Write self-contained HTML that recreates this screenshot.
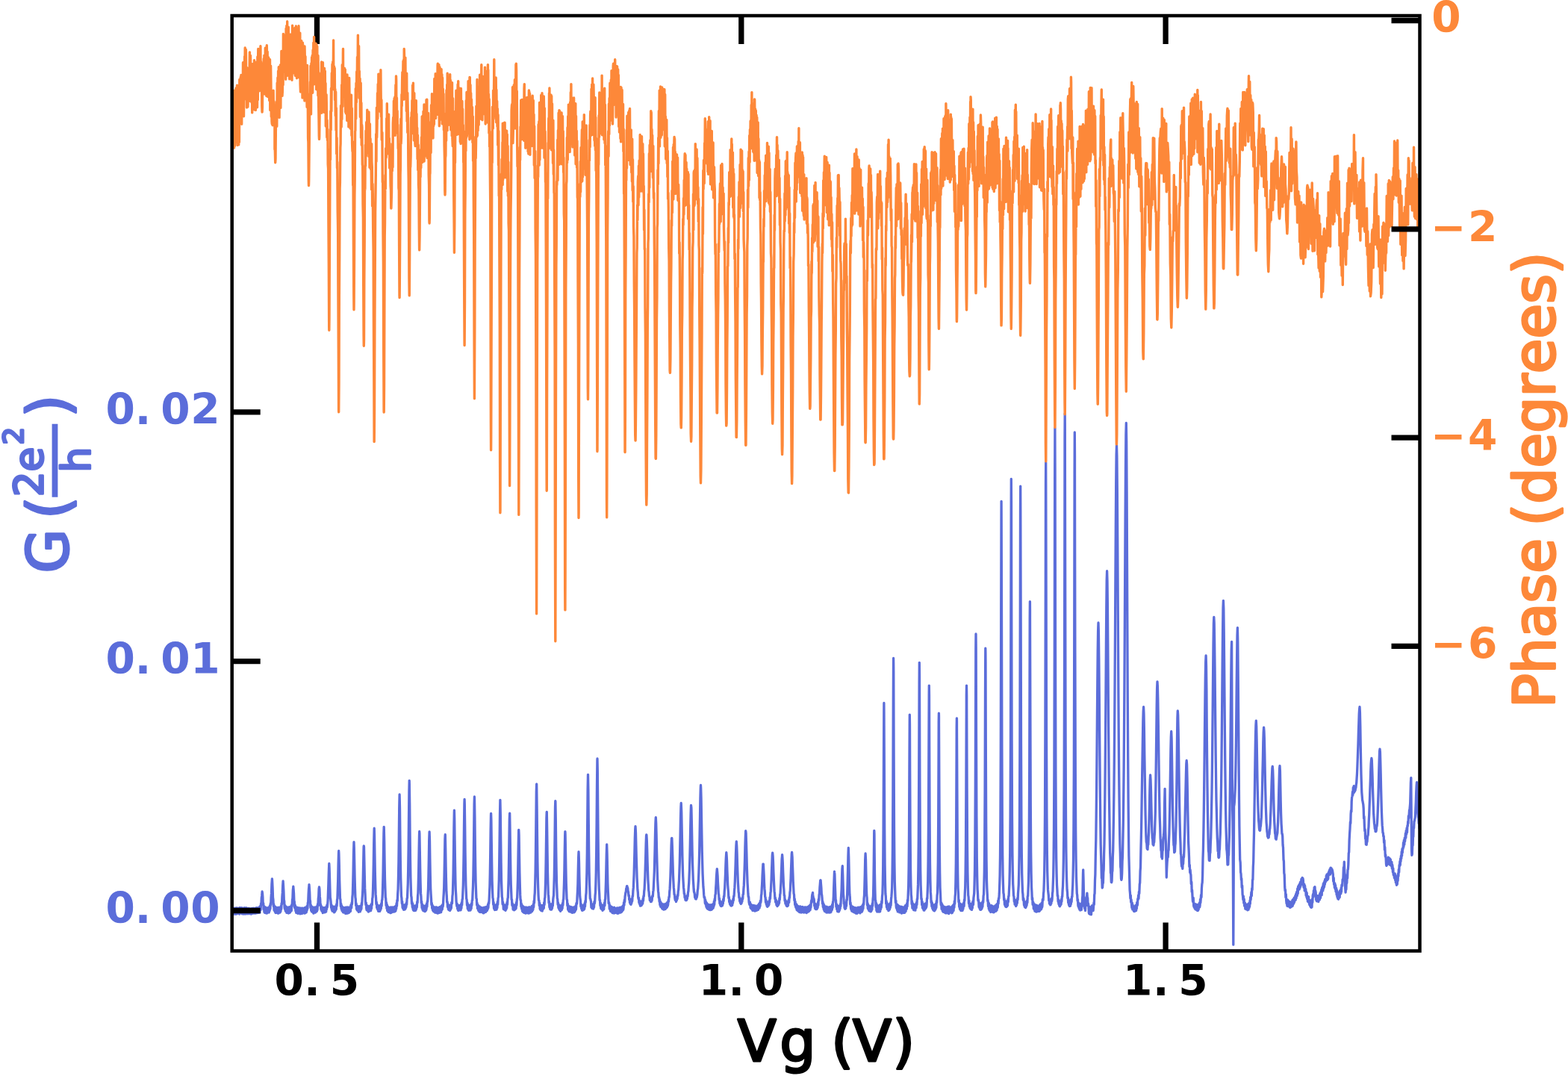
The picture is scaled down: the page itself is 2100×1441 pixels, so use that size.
<!DOCTYPE html>
<html lang="en"><head><meta charset="utf-8"><title>G and Phase vs Vg</title>
<style>html,body{margin:0;padding:0;background:#fff}svg{display:block}text{font-family:"DejaVu Sans","Liberation Sans",sans-serif}</style></head><body>
<svg width="2100" height="1441" viewBox="0 0 2100 1441">
<rect width="2100" height="1441" fill="#fff"/>
<defs><clipPath id="ax"><rect x="310.7" y="21.0" width="1590.8" height="1252.5"/></clipPath></defs>
<g clip-path="url(#ax)" fill="none" stroke-linejoin="round" stroke-linecap="butt">
<path d="M310.7 1216.5 L311.1 1223.6 L311.5 1217.3 L311.9 1224.0 L312.3 1217.0 L312.7 1216.6 L313.1 1223.4 L313.5 1217.2 L313.9 1224.1 L314.3 1216.1 L314.7 1222.7 L315.1 1216.4 L315.5 1222.6 L315.9 1216.6 L316.3 1224.1 L316.7 1215.8 L317.1 1223.9 L317.5 1215.8 L317.9 1222.7 L318.3 1217.0 L318.7 1216.7 L319.1 1223.1 L319.5 1216.7 L319.9 1223.6 L320.3 1215.9 L320.7 1224.2 L321.1 1215.7 L321.5 1222.8 L321.9 1215.7 L322.3 1216.4 L322.7 1222.9 L323.1 1216.4 L323.5 1222.7 L323.9 1215.7 L324.3 1223.9 L324.7 1217.1 L325.1 1223.9 L325.5 1217.3 L325.9 1222.6 L326.3 1216.8 L326.7 1224.2 L327.1 1215.7 L327.5 1222.7 L327.9 1217.3 L328.3 1223.3 L328.7 1217.1 L329.1 1224.0 L329.5 1215.7 L329.9 1223.2 L330.3 1216.5 L330.7 1223.6 L331.1 1216.3 L331.5 1216.5 L331.9 1223.8 L332.3 1216.9 L332.7 1216.5 L333.1 1222.6 L333.5 1216.4 L333.9 1223.6 L334.3 1217.3 L334.7 1223.3 L335.1 1216.8 L335.5 1223.8 L335.9 1217.3 L336.3 1224.2 L336.7 1216.6 L337.1 1223.1 L337.5 1216.8 L337.9 1223.5 L338.3 1216.7 L338.7 1222.5 L339.1 1216.1 L339.5 1222.9 L339.9 1216.9 L340.3 1223.2 L340.7 1217.1 L341.1 1223.0 L341.5 1216.5 L341.9 1222.7 L342.3 1216.1 L342.7 1223.1 L343.1 1217.0 L343.5 1222.6 L343.9 1215.7 L344.3 1222.7 L344.7 1216.0 L345.1 1222.7 L345.5 1216.4 L345.9 1222.4 L346.3 1216.0 L346.7 1222.3 L347.1 1221.6 L347.5 1214.5 L347.9 1222.2 L348.3 1213.6 L348.7 1213.9 L349.1 1218.7 L349.5 1210.0 L349.9 1211.6 L350.3 1202.4 L350.7 1199.4 L351.1 1194.0 L351.5 1196.3 L351.9 1201.5 L352.3 1211.8 L352.7 1209.6 L353.1 1217.8 L353.5 1213.3 L353.9 1221.3 L354.3 1215.0 L354.7 1222.3 L355.1 1214.9 L355.5 1221.7 L355.9 1215.1 L356.3 1222.9 L356.7 1223.0 L357.1 1216.6 L357.5 1223.1 L357.9 1216.1 L358.3 1222.5 L358.7 1215.7 L359.1 1221.4 L359.5 1216.0 L359.9 1221.0 L360.3 1222.0 L360.7 1214.4 L361.1 1219.9 L361.5 1212.7 L361.9 1217.4 L362.3 1209.9 L362.7 1211.6 L363.1 1201.6 L363.5 1196.4 L363.9 1184.2 L364.3 1178.5 L364.4 1176.8 L364.7 1181.1 L365.1 1189.2 L365.5 1201.6 L365.9 1204.6 L366.3 1213.8 L366.7 1210.9 L367.1 1219.0 L367.5 1219.5 L367.9 1213.7 L368.3 1221.1 L368.7 1214.5 L369.1 1222.5 L369.5 1215.1 L369.9 1222.4 L370.3 1215.5 L370.7 1221.8 L371.1 1216.5 L371.5 1221.9 L371.9 1216.3 L372.3 1223.1 L372.7 1215.2 L373.1 1223.0 L373.5 1222.5 L373.9 1216.3 L374.3 1222.0 L374.7 1215.8 L375.1 1222.1 L375.5 1214.7 L375.9 1220.7 L376.3 1213.4 L376.7 1217.7 L377.1 1209.7 L377.5 1211.0 L377.9 1201.1 L378.3 1195.9 L378.7 1185.8 L379.1 1179.9 L379.5 1186.0 L379.9 1193.4 L380.3 1205.1 L380.7 1206.7 L381.1 1215.4 L381.5 1217.5 L381.9 1212.6 L382.3 1219.8 L382.7 1214.3 L383.1 1220.9 L383.5 1214.4 L383.9 1222.3 L384.3 1214.9 L384.7 1221.9 L385.1 1216.5 L385.5 1222.3 L385.9 1216.0 L386.3 1223.0 L386.7 1214.9 L387.1 1222.6 L387.5 1215.1 L387.9 1222.3 L388.3 1215.0 L388.7 1221.6 L389.1 1214.1 L389.5 1220.4 L389.9 1213.4 L390.3 1219.6 L390.7 1211.6 L391.1 1214.0 L391.5 1204.8 L391.9 1203.4 L392.3 1192.0 L392.7 1188.6 L392.8 1187.2 L393.1 1191.0 L393.5 1195.9 L393.9 1206.9 L394.3 1207.4 L394.7 1215.9 L395.1 1212.0 L395.5 1213.5 L395.9 1220.0 L396.3 1214.5 L396.7 1222.4 L397.1 1221.4 L397.5 1222.1 L397.9 1215.3 L398.3 1222.9 L398.7 1215.4 L399.1 1223.3 L399.5 1223.2 L399.9 1216.8 L400.3 1222.7 L400.7 1215.9 L401.1 1222.5 L401.5 1216.0 L401.9 1223.8 L402.3 1216.9 L402.7 1216.9 L403.1 1223.5 L403.5 1216.2 L403.9 1223.0 L404.3 1216.8 L404.7 1223.5 L405.1 1216.2 L405.5 1222.8 L405.9 1216.4 L406.3 1222.2 L406.7 1216.6 L407.1 1222.6 L407.5 1216.2 L407.9 1223.2 L408.3 1215.3 L408.7 1222.1 L409.1 1216.3 L409.5 1222.5 L409.9 1215.7 L410.3 1221.8 L410.7 1214.0 L411.1 1219.4 L411.5 1213.1 L411.9 1216.9 L412.3 1208.8 L412.7 1208.4 L413.1 1197.9 L413.5 1190.7 L413.9 1186.6 L414.0 1184.7 L414.3 1188.6 L414.7 1194.5 L415.1 1205.8 L415.5 1206.3 L415.9 1215.4 L416.3 1211.9 L416.7 1219.4 L417.1 1214.0 L417.5 1220.9 L417.9 1214.2 L418.3 1221.2 L418.7 1215.2 L419.1 1222.0 L419.5 1216.3 L419.9 1223.1 L420.3 1215.1 L420.7 1221.9 L421.1 1215.6 L421.5 1215.4 L421.9 1222.1 L422.3 1214.9 L422.7 1222.0 L423.1 1215.3 L423.5 1220.9 L423.9 1215.2 L424.3 1220.6 L424.7 1213.4 L425.1 1218.7 L425.5 1210.7 L425.9 1213.1 L426.3 1203.2 L426.7 1200.6 L427.1 1190.3 L427.5 1188.0 L427.9 1190.4 L428.3 1200.4 L428.7 1204.0 L429.1 1212.7 L429.5 1211.1 L429.9 1217.8 L430.3 1213.4 L430.7 1219.7 L431.1 1214.7 L431.5 1220.7 L431.9 1215.3 L432.3 1222.7 L432.7 1216.0 L433.1 1221.5 L433.5 1215.7 L433.9 1221.3 L434.3 1215.7 L434.7 1221.9 L435.1 1221.4 L435.5 1215.4 L435.9 1221.5 L436.3 1215.1 L436.7 1221.1 L437.1 1214.1 L437.5 1217.9 L437.9 1211.9 L438.3 1215.0 L438.7 1210.9 L439.1 1205.8 L439.5 1194.0 L439.9 1182.9 L440.3 1169.0 L440.7 1158.4 L440.8 1156.5 L441.1 1162.3 L441.5 1175.2 L441.9 1189.3 L442.3 1202.0 L442.7 1204.1 L443.1 1208.0 L443.5 1215.5 L443.9 1211.7 L444.3 1218.4 L444.7 1213.3 L445.1 1220.2 L445.5 1214.8 L445.9 1220.2 L446.3 1214.2 L446.7 1220.6 L447.1 1214.2 L447.5 1221.9 L447.9 1214.7 L448.3 1221.3 L448.7 1214.4 L449.1 1220.0 L449.5 1219.0 L449.9 1213.2 L450.3 1217.8 L450.7 1210.8 L451.1 1213.4 L451.5 1205.2 L451.9 1203.4 L452.3 1190.9 L452.7 1178.6 L453.1 1158.0 L453.5 1143.2 L453.7 1139.5 L453.9 1143.1 L454.3 1158.0 L454.7 1178.7 L455.1 1191.0 L455.5 1203.4 L455.9 1204.5 L456.3 1213.8 L456.7 1210.1 L457.1 1217.2 L457.5 1212.7 L457.9 1219.4 L458.3 1214.1 L458.7 1220.3 L459.1 1214.8 L459.5 1221.7 L459.9 1215.4 L460.3 1222.2 L460.7 1215.7 L461.1 1215.9 L461.5 1221.7 L461.9 1216.3 L462.3 1215.4 L462.7 1223.3 L463.1 1215.1 L463.5 1222.4 L463.9 1223.2 L464.3 1222.5 L464.7 1215.9 L465.1 1215.0 L465.5 1223.1 L465.9 1216.3 L466.3 1221.9 L466.7 1215.2 L467.1 1222.4 L467.5 1215.3 L467.9 1222.0 L468.3 1215.1 L468.7 1220.7 L469.1 1214.8 L469.5 1220.4 L469.9 1212.2 L470.3 1211.4 L470.7 1216.0 L471.1 1208.9 L471.5 1210.9 L471.9 1201.3 L472.3 1197.7 L472.7 1183.7 L473.1 1167.2 L473.5 1143.7 L473.9 1129.7 L474.0 1127.6 L474.3 1135.2 L474.7 1154.8 L475.1 1175.4 L475.5 1190.2 L475.9 1201.6 L476.3 1204.1 L476.7 1212.6 L477.1 1209.9 L477.5 1217.5 L477.9 1212.6 L478.3 1219.0 L478.7 1213.2 L479.1 1213.4 L479.5 1219.9 L479.9 1213.8 L480.3 1221.4 L480.7 1214.8 L481.1 1220.1 L481.5 1213.6 L481.9 1214.1 L482.3 1220.9 L482.7 1213.3 L483.1 1219.1 L483.5 1212.6 L483.9 1217.5 L484.3 1209.5 L484.7 1212.0 L485.1 1203.4 L485.5 1197.8 L485.9 1189.9 L486.3 1172.8 L486.7 1153.6 L487.1 1134.4 L487.3 1132.8 L487.5 1134.3 L487.9 1153.6 L488.3 1172.8 L488.7 1189.9 L489.1 1197.1 L489.5 1207.3 L489.9 1211.6 L490.3 1208.9 L490.7 1216.5 L491.1 1218.8 L491.5 1213.0 L491.9 1219.1 L492.3 1213.0 L492.7 1220.0 L493.1 1214.9 L493.5 1221.2 L493.9 1214.2 L494.3 1220.1 L494.7 1213.6 L495.1 1220.2 L495.5 1214.3 L495.9 1219.3 L496.3 1212.6 L496.7 1219.5 L497.1 1211.2 L497.5 1216.9 L497.9 1209.9 L498.3 1211.8 L498.7 1203.4 L499.1 1201.7 L499.5 1192.4 L499.9 1176.7 L500.3 1156.7 L500.7 1128.7 L501.1 1111.5 L501.2 1109.2 L501.5 1118.3 L501.9 1143.5 L502.3 1168.1 L502.7 1184.3 L503.1 1197.9 L503.5 1201.8 L503.9 1210.6 L504.3 1208.1 L504.7 1215.7 L505.1 1211.2 L505.5 1217.7 L505.9 1212.1 L506.3 1218.9 L506.7 1220.3 L507.1 1214.0 L507.5 1219.4 L507.9 1220.0 L508.3 1214.3 L508.7 1220.4 L509.1 1212.4 L509.5 1218.9 L509.9 1212.7 L510.3 1217.0 L510.7 1209.8 L511.1 1213.3 L511.5 1205.5 L511.9 1205.2 L512.3 1197.6 L512.7 1183.7 L513.1 1167.4 L513.5 1140.7 L513.9 1116.6 L514.2 1107.3 L514.3 1109.8 L514.7 1126.9 L515.1 1155.6 L515.5 1177.3 L515.9 1190.0 L516.3 1201.8 L516.7 1203.3 L517.1 1212.6 L517.5 1208.7 L517.9 1216.3 L518.3 1211.5 L518.7 1219.6 L519.1 1213.7 L519.5 1220.4 L519.9 1214.5 L520.3 1221.7 L520.7 1215.4 L521.1 1221.3 L521.5 1215.7 L521.9 1221.5 L522.3 1216.1 L522.7 1222.7 L523.1 1215.0 L523.5 1222.7 L523.9 1222.0 L524.3 1216.1 L524.7 1221.9 L525.1 1214.8 L525.5 1221.5 L525.9 1215.2 L526.3 1221.1 L526.7 1216.0 L527.1 1221.1 L527.5 1215.1 L527.9 1221.1 L528.3 1214.3 L528.7 1220.0 L529.1 1220.6 L529.5 1213.6 L529.9 1219.9 L530.3 1213.0 L530.7 1217.1 L531.1 1209.6 L531.5 1213.5 L531.9 1205.4 L532.3 1206.4 L532.7 1196.9 L533.1 1190.6 L533.5 1174.6 L533.9 1153.3 L534.3 1118.8 L534.7 1082.5 L535.1 1064.0 L535.5 1081.3 L535.9 1120.3 L536.3 1151.9 L536.7 1175.7 L537.1 1188.3 L537.5 1200.0 L537.9 1202.4 L538.3 1210.0 L538.7 1207.3 L539.1 1215.4 L539.5 1215.7 L539.9 1217.1 L540.3 1212.4 L540.7 1218.3 L541.1 1211.9 L541.5 1218.0 L541.9 1212.7 L542.3 1218.0 L542.7 1211.7 L543.1 1216.9 L543.5 1210.9 L543.9 1215.0 L544.3 1208.8 L544.7 1211.5 L545.1 1203.2 L545.5 1202.8 L545.9 1192.6 L546.3 1183.3 L546.7 1164.2 L547.1 1137.9 L547.5 1097.0 L547.9 1058.9 L548.2 1045.3 L548.3 1048.5 L548.7 1076.0 L549.1 1119.4 L549.5 1151.9 L549.9 1175.7 L550.3 1188.3 L550.7 1199.8 L551.1 1201.7 L551.5 1210.4 L551.9 1208.2 L552.3 1215.0 L552.7 1210.1 L553.1 1217.5 L553.5 1218.8 L553.9 1213.0 L554.3 1219.5 L554.7 1213.5 L555.1 1219.7 L555.5 1213.1 L555.9 1219.4 L556.3 1213.1 L556.7 1219.4 L557.1 1212.6 L557.5 1217.7 L557.9 1211.5 L558.3 1215.2 L558.7 1207.7 L559.1 1209.0 L559.5 1200.0 L559.9 1196.1 L560.3 1182.1 L560.7 1164.6 L561.1 1139.5 L561.5 1118.2 L561.7 1113.5 L561.9 1116.9 L562.3 1139.7 L562.7 1163.4 L563.1 1182.0 L563.5 1196.4 L563.9 1200.4 L564.3 1209.4 L564.7 1207.3 L565.1 1215.8 L565.5 1210.9 L565.9 1218.2 L566.3 1212.2 L566.7 1219.5 L567.1 1213.7 L567.5 1219.8 L567.9 1213.8 L568.3 1219.7 L568.7 1213.8 L569.1 1220.7 L569.5 1213.0 L569.9 1220.1 L570.3 1213.8 L570.7 1219.0 L571.1 1217.2 L571.5 1209.9 L571.9 1214.4 L572.3 1207.0 L572.7 1207.5 L573.1 1197.7 L573.5 1190.1 L573.9 1173.3 L574.3 1151.8 L574.7 1124.9 L575.1 1113.8 L575.5 1125.0 L575.9 1151.8 L576.3 1173.2 L576.7 1190.0 L577.1 1197.7 L577.5 1203.6 L577.9 1211.7 L578.3 1209.3 L578.7 1216.4 L579.1 1212.1 L579.5 1218.9 L579.9 1213.7 L580.3 1220.1 L580.7 1214.3 L581.1 1220.9 L581.5 1215.7 L581.9 1221.2 L582.3 1215.6 L582.7 1222.2 L583.1 1215.0 L583.5 1222.1 L583.9 1216.3 L584.3 1222.3 L584.7 1214.9 L585.1 1222.6 L585.5 1216.3 L585.9 1216.2 L586.3 1223.2 L586.7 1215.6 L587.1 1221.9 L587.5 1222.1 L587.9 1215.5 L588.3 1222.4 L588.7 1214.6 L589.1 1222.1 L589.5 1215.1 L589.9 1221.1 L590.3 1214.4 L590.7 1221.6 L591.1 1213.2 L591.5 1219.1 L591.9 1212.8 L592.3 1218.0 L592.7 1211.3 L593.1 1214.4 L593.5 1210.8 L593.9 1202.3 L594.3 1196.6 L594.7 1188.3 L595.1 1170.5 L595.5 1148.5 L595.9 1123.9 L596.2 1118.2 L596.3 1117.7 L596.7 1136.1 L597.1 1160.8 L597.5 1179.4 L597.9 1194.2 L598.3 1199.5 L598.7 1208.5 L599.1 1207.8 L599.5 1214.6 L599.9 1210.7 L600.3 1217.5 L600.7 1212.0 L601.1 1218.7 L601.5 1213.3 L601.9 1218.9 L602.3 1212.9 L602.7 1219.5 L603.1 1212.2 L603.5 1218.1 L603.9 1211.7 L604.3 1216.3 L604.7 1209.1 L605.1 1208.0 L605.5 1209.9 L605.9 1200.3 L606.3 1197.5 L606.7 1184.5 L607.1 1168.7 L607.5 1141.0 L607.9 1108.6 L608.3 1087.6 L608.4 1085.2 L608.7 1095.9 L609.1 1126.3 L609.5 1155.2 L609.9 1178.1 L610.3 1192.0 L610.7 1197.7 L611.1 1207.1 L611.5 1211.0 L611.9 1213.7 L612.3 1210.5 L612.7 1217.2 L613.1 1212.0 L613.5 1219.2 L613.9 1219.5 L614.3 1213.9 L614.7 1219.1 L615.1 1212.7 L615.5 1212.7 L615.9 1218.9 L616.3 1213.7 L616.7 1213.0 L617.1 1218.9 L617.5 1210.8 L617.9 1216.5 L618.3 1208.6 L618.7 1212.2 L619.1 1204.4 L619.5 1204.0 L619.9 1194.6 L620.3 1185.5 L620.7 1167.2 L621.1 1142.0 L621.5 1105.5 L621.9 1076.5 L622.1 1070.3 L622.3 1076.7 L622.7 1105.5 L623.1 1142.2 L623.5 1167.1 L623.9 1185.6 L624.3 1194.3 L624.7 1203.8 L625.1 1204.5 L625.5 1212.3 L625.9 1208.8 L626.3 1216.8 L626.7 1210.8 L627.1 1218.5 L627.5 1213.1 L627.9 1219.4 L628.3 1212.3 L628.7 1213.7 L629.1 1218.5 L629.5 1212.9 L629.9 1219.1 L630.3 1218.4 L630.7 1211.4 L631.1 1216.9 L631.5 1209.9 L631.9 1212.5 L632.3 1205.6 L632.7 1205.6 L633.1 1195.6 L633.5 1186.7 L633.9 1172.5 L634.3 1146.6 L634.7 1113.4 L635.1 1077.5 L635.4 1067.0 L635.5 1069.4 L635.9 1093.6 L636.3 1132.0 L636.7 1160.2 L637.1 1181.5 L637.5 1192.0 L637.9 1203.0 L638.3 1203.9 L638.7 1212.2 L639.1 1209.3 L639.5 1216.7 L639.9 1212.3 L640.3 1212.2 L640.7 1219.3 L641.1 1219.9 L641.5 1214.7 L641.9 1221.0 L642.3 1213.9 L642.7 1221.3 L643.1 1214.8 L643.5 1221.7 L643.9 1215.2 L644.3 1221.4 L644.7 1215.7 L645.1 1221.4 L645.5 1215.6 L645.9 1221.7 L646.3 1216.1 L646.7 1222.3 L647.1 1216.1 L647.5 1222.9 L647.9 1215.4 L648.3 1222.4 L648.7 1215.1 L649.1 1221.9 L649.5 1216.0 L649.9 1221.4 L650.3 1214.8 L650.7 1221.4 L651.1 1214.6 L651.5 1220.1 L651.9 1214.2 L652.3 1219.7 L652.7 1213.8 L653.1 1217.8 L653.5 1211.2 L653.9 1216.0 L654.3 1208.8 L654.7 1210.0 L655.1 1205.2 L655.5 1195.6 L655.9 1187.1 L656.3 1169.0 L656.7 1145.0 L657.1 1111.9 L657.5 1091.9 L657.6 1089.3 L657.9 1098.5 L658.3 1129.1 L658.7 1157.1 L659.1 1179.5 L659.5 1190.7 L659.9 1202.1 L660.3 1203.8 L660.7 1211.3 L661.1 1208.4 L661.5 1216.0 L661.9 1217.2 L662.3 1211.7 L662.7 1218.7 L663.1 1212.7 L663.5 1218.3 L663.9 1213.3 L664.3 1218.4 L664.7 1211.9 L665.1 1218.1 L665.5 1210.7 L665.9 1215.8 L666.3 1207.7 L666.7 1211.4 L667.1 1202.8 L667.5 1201.2 L667.9 1189.9 L668.3 1178.3 L668.7 1155.7 L669.1 1124.3 L669.5 1090.3 L669.9 1071.4 L670.3 1090.2 L670.7 1125.9 L671.1 1155.7 L671.5 1178.3 L671.9 1189.9 L672.3 1201.2 L672.7 1202.8 L673.1 1210.8 L673.5 1207.9 L673.9 1210.3 L674.3 1217.3 L674.7 1211.5 L675.1 1217.5 L675.5 1212.3 L675.9 1218.6 L676.3 1213.4 L676.7 1218.5 L677.1 1219.2 L677.5 1211.9 L677.9 1217.8 L678.3 1210.6 L678.7 1216.1 L679.1 1208.1 L679.5 1211.5 L679.9 1203.7 L680.3 1202.1 L680.7 1190.7 L681.1 1178.9 L681.5 1156.7 L681.9 1128.6 L682.3 1097.4 L682.6 1089.5 L682.7 1089.2 L683.1 1112.4 L683.5 1142.7 L683.9 1169.7 L684.3 1185.2 L684.7 1194.6 L685.1 1204.8 L685.5 1204.7 L685.9 1212.5 L686.3 1209.9 L686.7 1210.8 L687.1 1218.0 L687.5 1211.8 L687.9 1218.3 L688.3 1212.6 L688.7 1218.9 L689.1 1213.5 L689.5 1218.4 L689.9 1212.0 L690.3 1217.7 L690.7 1211.2 L691.1 1216.7 L691.5 1208.5 L691.9 1212.3 L692.3 1204.1 L692.7 1202.1 L693.1 1190.7 L693.5 1178.4 L693.9 1155.6 L694.3 1130.9 L694.7 1111.3 L694.8 1111.6 L695.1 1118.1 L695.5 1144.1 L695.9 1168.8 L696.3 1184.7 L696.7 1198.4 L697.1 1205.5 L697.5 1205.4 L697.9 1214.3 L698.3 1210.2 L698.7 1217.2 L699.1 1212.2 L699.5 1220.2 L699.9 1213.1 L700.3 1221.2 L700.7 1213.8 L701.1 1221.7 L701.5 1214.4 L701.9 1222.4 L702.3 1216.0 L702.7 1215.7 L703.1 1221.7 L703.5 1215.9 L703.9 1223.1 L704.3 1215.0 L704.7 1222.7 L705.1 1216.1 L705.5 1222.5 L705.9 1215.3 L706.3 1222.5 L706.7 1215.5 L707.1 1222.0 L707.5 1216.1 L707.9 1223.1 L708.3 1214.8 L708.7 1222.9 L709.1 1215.0 L709.5 1221.5 L709.9 1215.1 L710.3 1222.0 L710.7 1222.1 L711.1 1215.4 L711.5 1221.4 L711.9 1220.0 L712.3 1213.3 L712.7 1220.3 L713.1 1213.3 L713.5 1218.8 L713.9 1217.8 L714.3 1210.9 L714.7 1214.8 L715.1 1206.6 L715.5 1209.3 L715.9 1200.2 L716.3 1195.8 L716.7 1183.0 L717.1 1167.1 L717.5 1138.4 L717.9 1101.0 L718.3 1060.8 L718.6 1050.2 L718.7 1050.1 L719.1 1080.0 L719.5 1120.2 L719.9 1154.6 L720.3 1175.2 L720.7 1188.7 L721.1 1199.6 L721.5 1206.0 L721.9 1205.8 L722.3 1212.6 L722.7 1209.2 L723.1 1216.7 L723.5 1217.9 L723.9 1212.0 L724.3 1218.9 L724.7 1212.7 L725.1 1219.7 L725.5 1212.8 L725.9 1213.8 L726.3 1220.0 L726.7 1212.3 L727.1 1217.8 L727.5 1212.6 L727.9 1216.7 L728.3 1216.2 L728.7 1208.6 L729.1 1211.6 L729.5 1203.5 L729.9 1201.8 L730.3 1190.4 L730.7 1178.4 L731.1 1155.6 L731.5 1127.1 L731.9 1095.7 L732.2 1087.8 L732.3 1087.3 L732.7 1110.8 L733.1 1141.8 L733.5 1168.8 L733.9 1184.5 L734.3 1197.4 L734.7 1200.6 L735.1 1209.2 L735.5 1207.3 L735.9 1214.9 L736.3 1210.1 L736.7 1217.4 L737.1 1212.0 L737.5 1218.2 L737.9 1212.5 L738.3 1212.3 L738.7 1218.2 L739.1 1210.6 L739.5 1216.5 L739.9 1209.8 L740.3 1213.2 L740.7 1205.1 L741.1 1201.6 L741.5 1199.2 L741.9 1187.1 L742.3 1173.8 L742.7 1148.7 L743.1 1116.6 L743.5 1081.6 L743.8 1072.6 L743.9 1073.9 L744.3 1097.0 L744.7 1134.5 L745.1 1161.9 L745.5 1182.3 L745.9 1192.1 L746.3 1203.2 L746.7 1203.8 L747.1 1211.4 L747.5 1209.0 L747.9 1215.6 L748.3 1211.6 L748.7 1217.5 L749.1 1212.0 L749.5 1218.8 L749.9 1218.9 L750.3 1214.1 L750.7 1220.3 L751.1 1213.7 L751.5 1218.8 L751.9 1212.7 L752.3 1218.7 L752.7 1211.7 L753.1 1216.7 L753.5 1209.5 L753.9 1212.4 L754.3 1205.1 L754.7 1204.2 L755.1 1193.8 L755.5 1182.2 L755.9 1164.7 L756.3 1138.6 L756.7 1118.4 L756.9 1113.6 L757.1 1117.0 L757.5 1139.9 L757.9 1163.7 L758.3 1183.6 L758.7 1193.7 L759.1 1204.6 L759.5 1205.1 L759.9 1212.8 L760.3 1210.2 L760.7 1218.1 L761.1 1212.7 L761.5 1219.3 L761.9 1213.9 L762.3 1220.7 L762.7 1214.0 L763.1 1220.9 L763.5 1215.0 L763.9 1221.2 L764.3 1215.3 L764.7 1214.5 L765.1 1221.4 L765.5 1215.8 L765.9 1222.2 L766.3 1215.4 L766.7 1222.3 L767.1 1215.5 L767.5 1221.5 L767.9 1215.0 L768.3 1221.7 L768.7 1215.5 L769.1 1221.9 L769.5 1215.1 L769.9 1220.8 L770.3 1214.2 L770.7 1219.3 L771.1 1212.6 L771.5 1218.0 L771.9 1209.8 L772.3 1209.1 L772.7 1210.2 L773.1 1200.6 L773.5 1193.5 L773.9 1183.2 L774.3 1163.9 L774.7 1147.6 L775.0 1140.7 L775.1 1142.6 L775.5 1154.3 L775.9 1174.7 L776.3 1188.3 L776.7 1200.5 L777.1 1203.6 L777.5 1206.6 L777.9 1214.2 L778.3 1210.7 L778.7 1217.0 L779.1 1212.4 L779.5 1219.2 L779.9 1213.1 L780.3 1219.3 L780.7 1213.4 L781.1 1218.6 L781.5 1212.2 L781.9 1218.4 L782.3 1211.5 L782.7 1217.3 L783.1 1209.5 L783.5 1214.2 L783.9 1206.3 L784.3 1208.4 L784.7 1199.4 L785.1 1195.8 L785.5 1183.4 L785.9 1168.1 L786.3 1142.0 L786.7 1101.7 L787.1 1057.8 L787.5 1037.3 L787.9 1057.7 L788.3 1102.9 L788.7 1140.3 L789.1 1167.9 L789.5 1183.4 L789.9 1193.0 L790.3 1203.2 L790.7 1203.5 L791.1 1205.6 L791.5 1207.5 L791.9 1215.1 L792.3 1215.7 L792.7 1211.0 L793.1 1216.6 L793.5 1211.6 L793.9 1216.5 L794.3 1211.0 L794.7 1217.1 L795.1 1210.4 L795.5 1215.1 L795.9 1207.5 L796.3 1210.1 L796.7 1207.2 L797.1 1199.1 L797.5 1195.2 L797.9 1183.2 L798.3 1168.1 L798.7 1140.8 L799.1 1102.8 L799.5 1052.3 L799.9 1019.2 L800.0 1016.0 L800.3 1031.3 L800.7 1078.5 L801.1 1122.9 L801.5 1156.8 L801.9 1176.2 L802.3 1190.8 L802.7 1196.5 L803.1 1205.8 L803.5 1205.3 L803.9 1213.0 L804.3 1209.2 L804.7 1216.4 L805.1 1210.8 L805.5 1217.4 L805.9 1211.9 L806.3 1218.0 L806.7 1213.0 L807.1 1219.4 L807.5 1212.6 L807.9 1218.5 L808.3 1212.3 L808.7 1217.9 L809.1 1211.3 L809.5 1209.2 L809.9 1212.9 L810.3 1205.0 L810.7 1204.1 L811.1 1193.3 L811.5 1181.0 L811.9 1162.3 L812.3 1142.7 L812.7 1130.8 L813.1 1142.9 L813.5 1162.5 L813.9 1182.7 L814.3 1193.1 L814.7 1200.6 L815.1 1209.7 L815.5 1208.4 L815.9 1210.1 L816.3 1217.1 L816.7 1212.3 L817.1 1212.7 L817.5 1220.2 L817.9 1220.1 L818.3 1215.0 L818.7 1221.0 L819.1 1214.4 L819.5 1221.0 L819.9 1214.8 L820.3 1222.6 L820.7 1215.3 L821.1 1222.3 L821.5 1215.9 L821.9 1215.9 L822.3 1223.0 L822.7 1215.2 L823.1 1222.5 L823.5 1216.3 L823.9 1222.6 L824.3 1216.5 L824.7 1221.9 L825.1 1216.6 L825.5 1221.9 L825.9 1222.3 L826.3 1215.9 L826.7 1223.1 L827.1 1215.8 L827.5 1223.3 L827.9 1216.5 L828.3 1223.2 L828.7 1215.9 L829.1 1222.0 L829.5 1216.2 L829.9 1221.9 L830.3 1215.2 L830.7 1222.1 L831.1 1215.7 L831.5 1222.0 L831.9 1221.3 L832.3 1214.8 L832.7 1221.1 L833.1 1220.2 L833.5 1213.9 L833.9 1219.5 L834.3 1212.8 L834.7 1218.4 L835.1 1216.0 L835.5 1208.7 L835.9 1212.4 L836.3 1205.2 L836.7 1207.9 L837.1 1200.6 L837.5 1198.0 L837.9 1195.2 L838.3 1194.6 L838.7 1190.1 L839.1 1189.4 L839.5 1186.8 L839.7 1188.2 L839.9 1186.7 L840.3 1189.1 L840.7 1189.2 L841.1 1193.7 L841.5 1194.2 L841.9 1199.8 L842.3 1198.8 L842.7 1204.8 L843.1 1203.3 L843.5 1208.9 L843.9 1205.0 L844.3 1210.6 L844.7 1206.0 L845.1 1211.3 L845.5 1205.5 L845.9 1209.5 L846.3 1203.6 L846.7 1206.8 L847.1 1199.9 L847.5 1200.2 L847.9 1192.8 L848.3 1188.9 L848.7 1179.5 L849.1 1170.7 L849.5 1155.6 L849.9 1140.9 L850.3 1122.5 L850.7 1111.2 L851.0 1106.7 L851.1 1108.3 L851.5 1115.3 L851.9 1132.2 L852.3 1148.8 L852.7 1162.3 L853.1 1175.5 L853.5 1183.1 L853.9 1191.5 L854.3 1194.7 L854.7 1201.6 L855.1 1204.0 L855.5 1202.3 L855.9 1208.8 L856.3 1205.6 L856.7 1210.9 L857.1 1206.7 L857.5 1213.1 L857.9 1207.2 L858.3 1213.2 L858.7 1208.1 L859.1 1212.6 L859.5 1207.0 L859.9 1211.5 L860.3 1206.1 L860.7 1210.1 L861.1 1203.5 L861.5 1206.4 L861.9 1200.0 L862.3 1200.4 L862.7 1193.6 L863.1 1190.5 L863.5 1182.1 L863.9 1174.0 L864.3 1160.5 L864.7 1147.6 L865.1 1130.8 L865.5 1119.7 L865.8 1117.8 L865.9 1118.3 L866.3 1125.7 L866.7 1137.9 L867.1 1154.4 L867.5 1166.3 L867.9 1178.3 L868.3 1184.8 L868.7 1192.5 L869.1 1194.6 L869.5 1200.5 L869.9 1200.2 L870.3 1205.7 L870.7 1202.3 L871.1 1202.9 L871.5 1207.7 L871.9 1204.0 L872.3 1207.5 L872.7 1202.8 L873.1 1206.0 L873.5 1201.3 L873.9 1199.3 L874.3 1200.4 L874.7 1194.3 L875.1 1192.2 L875.5 1184.6 L875.9 1176.5 L876.3 1167.5 L876.7 1152.2 L877.1 1136.6 L877.5 1116.7 L877.9 1102.4 L878.3 1094.7 L878.7 1102.4 L879.1 1116.8 L879.5 1136.9 L879.9 1152.8 L880.3 1168.0 L880.7 1178.9 L881.1 1185.8 L881.5 1193.2 L881.9 1195.9 L882.3 1202.3 L882.7 1201.7 L883.1 1207.5 L883.5 1204.5 L883.9 1211.9 L884.3 1207.2 L884.7 1214.1 L885.1 1208.6 L885.5 1214.6 L885.9 1209.6 L886.3 1216.0 L886.7 1211.4 L887.1 1217.1 L887.5 1210.9 L887.9 1216.5 L888.3 1210.8 L888.7 1218.0 L889.1 1211.4 L889.5 1218.0 L889.9 1211.7 L890.3 1216.9 L890.7 1210.7 L891.1 1217.6 L891.5 1211.4 L891.9 1216.2 L892.3 1210.6 L892.7 1215.9 L893.1 1209.0 L893.5 1214.8 L893.9 1208.3 L894.3 1213.1 L894.7 1211.2 L895.1 1205.3 L895.5 1207.5 L895.9 1201.1 L896.3 1201.4 L896.7 1194.2 L897.1 1190.7 L897.5 1182.0 L897.9 1173.7 L898.3 1160.3 L898.7 1147.1 L899.1 1131.9 L899.5 1122.7 L899.7 1122.5 L899.9 1122.5 L900.3 1132.9 L900.7 1145.3 L901.1 1159.3 L901.5 1172.3 L901.9 1180.3 L902.3 1188.7 L902.7 1192.0 L903.1 1198.2 L903.5 1197.9 L903.9 1203.3 L904.3 1205.4 L904.7 1202.2 L905.1 1202.6 L905.5 1207.5 L905.9 1202.9 L906.3 1205.9 L906.7 1200.9 L907.1 1203.9 L907.5 1198.5 L907.9 1199.6 L908.3 1193.2 L908.7 1191.7 L909.1 1184.5 L909.5 1178.5 L909.9 1167.1 L910.3 1155.5 L910.7 1137.2 L911.1 1118.1 L911.5 1095.7 L911.9 1081.0 L912.2 1075.5 L912.3 1077.6 L912.7 1086.7 L913.1 1107.3 L913.5 1127.1 L913.9 1147.3 L914.3 1160.8 L914.7 1173.5 L915.1 1180.8 L915.5 1188.2 L915.9 1191.2 L916.3 1197.2 L916.7 1196.8 L917.1 1202.0 L917.5 1199.8 L917.9 1205.1 L918.3 1201.7 L918.7 1205.8 L919.1 1201.6 L919.5 1205.5 L919.9 1201.5 L920.3 1203.9 L920.7 1198.9 L921.1 1200.4 L921.5 1195.0 L921.9 1193.5 L922.3 1187.1 L922.7 1182.5 L923.1 1172.8 L923.5 1163.1 L923.9 1147.0 L924.3 1129.9 L924.7 1107.8 L925.1 1090.2 L925.5 1078.5 L925.6 1079.3 L925.9 1081.9 L926.3 1098.9 L926.7 1118.2 L927.1 1139.3 L927.5 1155.8 L927.9 1167.1 L928.3 1178.1 L928.7 1183.7 L929.1 1190.5 L929.5 1194.7 L929.9 1195.2 L930.3 1197.3 L930.7 1201.9 L931.1 1199.8 L931.5 1203.8 L931.9 1200.4 L932.3 1204.1 L932.7 1199.0 L933.1 1202.1 L933.5 1200.2 L933.9 1197.8 L934.3 1192.2 L934.7 1190.4 L935.1 1183.8 L935.5 1178.2 L935.9 1167.7 L936.3 1155.3 L936.7 1140.3 L937.1 1117.9 L937.5 1094.8 L937.9 1069.5 L938.3 1054.9 L938.5 1051.5 L938.7 1055.2 L939.1 1070.0 L939.5 1095.5 L939.9 1118.9 L940.3 1141.5 L940.7 1156.9 L941.1 1170.9 L941.5 1179.1 L941.9 1187.5 L942.3 1191.3 L942.7 1198.2 L943.1 1202.2 L943.5 1201.3 L943.9 1202.8 L944.3 1209.6 L944.7 1205.2 L945.1 1211.4 L945.5 1207.6 L945.9 1214.4 L946.3 1208.9 L946.7 1216.0 L947.1 1210.0 L947.5 1217.0 L947.9 1211.4 L948.3 1217.5 L948.7 1211.5 L949.1 1217.3 L949.5 1212.0 L949.9 1218.3 L950.3 1211.8 L950.7 1218.5 L951.1 1212.9 L951.5 1211.9 L951.9 1218.6 L952.3 1211.9 L952.7 1218.3 L953.1 1212.0 L953.5 1218.0 L953.9 1211.7 L954.3 1216.6 L954.7 1210.9 L955.1 1216.3 L955.5 1210.1 L955.9 1214.1 L956.3 1207.1 L956.7 1211.6 L957.1 1204.0 L957.5 1206.2 L957.9 1198.6 L958.3 1197.4 L958.7 1188.8 L959.1 1183.0 L959.5 1173.4 L959.9 1168.1 L960.3 1163.7 L960.7 1167.9 L961.1 1173.2 L961.5 1182.7 L961.9 1188.5 L962.3 1196.8 L962.7 1198.2 L963.1 1205.0 L963.5 1203.2 L963.9 1209.8 L964.3 1206.4 L964.7 1212.2 L965.1 1207.8 L965.5 1213.4 L965.9 1208.9 L966.3 1213.5 L966.7 1213.2 L967.1 1208.1 L967.5 1212.9 L967.9 1207.0 L968.3 1210.3 L968.7 1204.1 L969.1 1206.6 L969.5 1200.1 L969.9 1200.4 L970.3 1192.8 L970.7 1188.8 L971.1 1179.4 L971.5 1170.8 L971.9 1158.2 L972.3 1148.8 L972.7 1143.2 L972.8 1141.7 L973.1 1145.3 L973.5 1152.3 L973.9 1165.1 L974.3 1174.6 L974.7 1185.1 L975.1 1190.3 L975.5 1195.2 L975.9 1202.6 L976.3 1201.4 L976.7 1208.0 L977.1 1204.9 L977.5 1210.7 L977.9 1206.7 L978.3 1212.1 L978.7 1212.5 L979.1 1208.5 L979.5 1213.1 L979.9 1207.1 L980.3 1207.6 L980.7 1212.4 L981.1 1206.1 L981.5 1209.3 L981.9 1203.6 L982.3 1206.0 L982.7 1199.9 L983.1 1200.0 L983.5 1192.8 L983.9 1188.7 L984.3 1180.7 L984.7 1169.1 L985.1 1157.8 L985.5 1143.0 L985.9 1132.6 L986.3 1126.8 L986.7 1132.6 L987.1 1142.8 L987.5 1157.9 L987.9 1169.0 L988.3 1180.3 L988.7 1186.7 L989.1 1194.5 L989.5 1196.2 L989.9 1202.4 L990.3 1201.6 L990.7 1206.8 L991.1 1203.5 L991.5 1209.2 L991.9 1204.8 L992.3 1210.5 L992.7 1205.5 L993.1 1209.7 L993.5 1204.0 L993.9 1207.4 L994.3 1202.0 L994.7 1203.8 L995.1 1197.7 L995.5 1197.7 L995.9 1190.3 L996.3 1185.9 L996.7 1175.8 L997.1 1164.9 L997.5 1152.4 L997.9 1135.1 L998.3 1121.9 L998.7 1112.6 L998.8 1113.8 L999.1 1115.6 L999.5 1129.0 L999.9 1143.4 L1000.3 1160.3 L1000.7 1171.6 L1001.1 1182.8 L1001.5 1188.9 L1001.9 1196.5 L1002.3 1201.3 L1002.7 1201.2 L1003.1 1208.1 L1003.5 1210.2 L1003.9 1211.6 L1004.3 1208.1 L1004.7 1209.4 L1005.1 1215.7 L1005.5 1211.0 L1005.9 1216.7 L1006.3 1211.8 L1006.7 1217.4 L1007.1 1212.1 L1007.5 1218.0 L1007.9 1219.3 L1008.3 1212.7 L1008.7 1218.4 L1009.1 1212.4 L1009.5 1219.4 L1009.9 1214.1 L1010.3 1219.3 L1010.7 1212.9 L1011.1 1220.2 L1011.5 1213.2 L1011.9 1219.4 L1012.3 1213.4 L1012.7 1219.5 L1013.1 1219.1 L1013.5 1213.7 L1013.9 1219.1 L1014.3 1212.9 L1014.7 1218.3 L1015.1 1212.8 L1015.5 1218.4 L1015.9 1211.4 L1016.3 1216.4 L1016.7 1210.1 L1017.1 1216.2 L1017.5 1209.2 L1017.9 1213.6 L1018.3 1206.5 L1018.7 1208.9 L1019.1 1206.7 L1019.5 1199.2 L1019.9 1197.3 L1020.3 1188.9 L1020.7 1182.7 L1021.1 1171.9 L1021.5 1164.3 L1021.9 1157.2 L1022.1 1157.4 L1022.3 1157.2 L1022.7 1164.2 L1023.1 1171.6 L1023.5 1182.2 L1023.9 1190.2 L1024.3 1193.7 L1024.7 1201.2 L1025.1 1201.6 L1025.5 1208.3 L1025.9 1204.9 L1026.3 1211.2 L1026.7 1207.4 L1027.1 1213.5 L1027.5 1207.6 L1027.9 1214.3 L1028.3 1213.2 L1028.7 1208.8 L1029.1 1213.1 L1029.5 1207.8 L1029.9 1211.6 L1030.3 1206.0 L1030.7 1208.1 L1031.1 1201.7 L1031.5 1203.6 L1031.9 1196.0 L1032.3 1193.7 L1032.7 1185.4 L1033.1 1178.4 L1033.5 1166.1 L1033.9 1156.1 L1034.3 1144.9 L1034.7 1142.1 L1035.1 1146.3 L1035.5 1154.5 L1035.9 1167.5 L1036.3 1176.8 L1036.7 1185.3 L1037.1 1193.7 L1037.5 1196.4 L1037.9 1203.6 L1038.3 1202.0 L1038.7 1208.1 L1039.1 1204.8 L1039.5 1206.2 L1039.9 1212.0 L1040.3 1208.3 L1040.7 1212.9 L1041.1 1213.6 L1041.5 1208.7 L1041.9 1212.5 L1042.3 1207.7 L1042.7 1211.6 L1043.1 1206.4 L1043.5 1209.7 L1043.9 1202.9 L1044.3 1205.0 L1044.7 1198.1 L1045.1 1196.4 L1045.5 1188.7 L1045.9 1182.3 L1046.3 1171.5 L1046.7 1161.8 L1047.1 1150.3 L1047.5 1146.3 L1047.6 1144.6 L1047.9 1148.2 L1048.3 1155.1 L1048.7 1167.4 L1049.1 1176.6 L1049.5 1186.7 L1049.9 1191.4 L1050.3 1199.4 L1050.7 1199.3 L1051.1 1206.3 L1051.5 1204.6 L1051.9 1210.2 L1052.3 1206.5 L1052.7 1207.4 L1053.1 1212.6 L1053.5 1208.3 L1053.9 1213.7 L1054.3 1208.5 L1054.7 1213.6 L1055.1 1207.5 L1055.5 1212.6 L1055.9 1206.6 L1056.3 1204.9 L1056.7 1208.7 L1057.1 1201.5 L1057.5 1202.4 L1057.9 1195.3 L1058.3 1192.8 L1058.7 1184.0 L1059.1 1176.3 L1059.5 1163.9 L1059.9 1153.5 L1060.3 1143.5 L1060.6 1141.4 L1060.7 1142.9 L1061.1 1147.6 L1061.5 1159.5 L1061.9 1169.8 L1062.3 1181.7 L1062.7 1188.5 L1063.1 1196.6 L1063.5 1198.1 L1063.9 1205.9 L1064.3 1203.9 L1064.7 1211.7 L1065.1 1207.4 L1065.5 1214.4 L1065.9 1210.7 L1066.3 1216.1 L1066.7 1210.8 L1067.1 1218.5 L1067.5 1212.3 L1067.9 1219.1 L1068.3 1213.8 L1068.7 1219.9 L1069.1 1214.2 L1069.5 1213.7 L1069.9 1220.6 L1070.3 1214.1 L1070.7 1221.6 L1071.1 1214.1 L1071.5 1221.5 L1071.9 1214.0 L1072.3 1220.9 L1072.7 1215.0 L1073.1 1222.2 L1073.5 1215.2 L1073.9 1221.7 L1074.3 1214.6 L1074.7 1214.5 L1075.1 1221.7 L1075.5 1221.4 L1075.9 1215.2 L1076.3 1222.0 L1076.7 1215.7 L1077.1 1221.8 L1077.5 1214.8 L1077.9 1221.4 L1078.3 1215.8 L1078.7 1221.9 L1079.1 1214.9 L1079.5 1215.5 L1079.9 1221.8 L1080.3 1222.5 L1080.7 1215.2 L1081.1 1221.4 L1081.5 1214.7 L1081.9 1220.5 L1082.3 1214.8 L1082.7 1221.0 L1083.1 1213.6 L1083.5 1220.5 L1083.9 1213.5 L1084.3 1219.4 L1084.7 1212.1 L1085.1 1218.6 L1085.5 1211.3 L1085.9 1215.5 L1086.3 1208.8 L1086.7 1206.0 L1087.1 1208.3 L1087.5 1200.9 L1087.9 1197.7 L1088.3 1198.5 L1088.5 1195.3 L1088.7 1198.4 L1089.1 1200.9 L1089.5 1204.3 L1089.9 1203.3 L1090.3 1205.2 L1090.7 1213.2 L1091.1 1209.6 L1091.5 1216.3 L1091.9 1210.3 L1092.3 1217.5 L1092.7 1210.9 L1093.1 1217.5 L1093.5 1211.7 L1093.9 1217.7 L1094.3 1216.8 L1094.7 1210.8 L1095.1 1215.7 L1095.5 1208.0 L1095.9 1212.4 L1096.3 1204.4 L1096.7 1205.9 L1097.1 1198.3 L1097.5 1196.4 L1097.9 1188.5 L1098.3 1184.0 L1098.7 1179.0 L1098.9 1179.7 L1099.1 1178.9 L1099.5 1184.1 L1099.9 1188.8 L1100.3 1197.1 L1100.7 1198.7 L1101.1 1203.0 L1101.5 1210.2 L1101.9 1207.5 L1102.3 1214.6 L1102.7 1209.9 L1103.1 1217.5 L1103.5 1211.6 L1103.9 1219.4 L1104.3 1213.0 L1104.7 1220.7 L1105.1 1213.9 L1105.5 1220.2 L1105.9 1220.6 L1106.3 1215.1 L1106.7 1221.9 L1107.1 1214.1 L1107.5 1222.2 L1107.9 1215.6 L1108.3 1221.6 L1108.7 1215.2 L1109.1 1221.4 L1109.5 1215.5 L1109.9 1221.8 L1110.3 1215.6 L1110.7 1222.2 L1111.1 1214.6 L1111.5 1221.3 L1111.9 1214.4 L1112.3 1221.8 L1112.7 1214.4 L1113.1 1221.2 L1113.5 1213.9 L1113.9 1213.4 L1114.3 1218.6 L1114.7 1211.2 L1115.1 1215.7 L1115.5 1207.9 L1115.9 1208.2 L1116.3 1201.0 L1116.7 1188.5 L1117.1 1177.3 L1117.5 1167.2 L1117.6 1168.2 L1117.9 1170.5 L1118.3 1183.7 L1118.7 1193.8 L1119.1 1205.4 L1119.5 1205.6 L1119.9 1214.3 L1120.3 1210.6 L1120.7 1217.6 L1121.1 1212.2 L1121.5 1220.3 L1121.9 1213.0 L1122.3 1220.9 L1122.7 1214.5 L1123.1 1220.3 L1123.5 1220.9 L1123.9 1214.0 L1124.3 1219.3 L1124.7 1212.9 L1125.1 1217.1 L1125.5 1210.6 L1125.9 1213.7 L1126.3 1204.2 L1126.7 1198.4 L1127.1 1191.8 L1127.5 1176.9 L1127.9 1163.6 L1128.2 1160.7 L1128.3 1159.6 L1128.7 1170.7 L1129.1 1183.8 L1129.5 1197.1 L1129.9 1201.9 L1130.3 1210.4 L1130.7 1208.3 L1131.1 1216.0 L1131.5 1210.6 L1131.9 1217.3 L1132.3 1210.3 L1132.7 1216.7 L1133.1 1209.3 L1133.5 1213.5 L1133.9 1204.8 L1134.3 1205.3 L1134.7 1197.0 L1135.1 1182.8 L1135.5 1166.9 L1135.9 1146.7 L1136.3 1135.5 L1136.7 1147.0 L1137.1 1165.4 L1137.5 1184.7 L1137.9 1197.5 L1138.3 1201.1 L1138.7 1211.3 L1139.1 1208.8 L1139.5 1215.9 L1139.9 1218.0 L1140.3 1213.0 L1140.7 1220.0 L1141.1 1214.4 L1141.5 1220.4 L1141.9 1220.6 L1142.3 1214.4 L1142.7 1221.2 L1143.1 1215.0 L1143.5 1221.5 L1143.9 1215.3 L1144.3 1222.0 L1144.7 1222.0 L1145.1 1216.5 L1145.5 1221.8 L1145.9 1215.7 L1146.3 1223.1 L1146.7 1216.5 L1147.1 1221.8 L1147.5 1216.1 L1147.9 1223.3 L1148.3 1222.8 L1148.7 1215.3 L1149.1 1222.1 L1149.5 1215.1 L1149.9 1215.1 L1150.3 1221.9 L1150.7 1216.2 L1151.1 1222.2 L1151.5 1215.8 L1151.9 1222.8 L1152.3 1214.6 L1152.7 1221.3 L1153.1 1215.1 L1153.5 1221.4 L1153.9 1214.7 L1154.3 1221.2 L1154.7 1213.2 L1155.1 1219.5 L1155.5 1211.6 L1155.9 1217.2 L1156.3 1209.8 L1156.7 1211.3 L1157.1 1202.9 L1157.5 1199.2 L1157.9 1185.7 L1158.3 1170.9 L1158.7 1151.0 L1159.1 1143.0 L1159.5 1150.9 L1159.9 1170.7 L1160.3 1185.8 L1160.7 1198.8 L1161.1 1202.1 L1161.5 1212.1 L1161.9 1209.4 L1162.3 1216.6 L1162.7 1211.5 L1163.1 1218.2 L1163.5 1213.4 L1163.9 1219.7 L1164.3 1213.1 L1164.7 1220.1 L1165.1 1214.4 L1165.5 1220.4 L1165.9 1214.4 L1166.3 1220.9 L1166.7 1220.3 L1167.1 1219.6 L1167.5 1212.7 L1167.9 1218.2 L1168.3 1209.9 L1168.7 1213.2 L1169.1 1203.9 L1169.5 1200.3 L1169.9 1182.9 L1170.3 1153.2 L1170.7 1117.5 L1170.7 1116.4 L1170.8 1112.3 L1171.0 1117.4 L1171.1 1132.2 L1171.5 1169.8 L1171.9 1191.5 L1172.3 1205.4 L1172.7 1206.0 L1173.1 1214.8 L1173.5 1209.4 L1173.9 1219.5 L1174.3 1211.3 L1174.7 1221.0 L1175.1 1213.8 L1175.5 1220.5 L1175.9 1213.1 L1176.3 1220.5 L1176.7 1214.2 L1177.1 1221.1 L1177.5 1212.7 L1177.9 1220.3 L1178.3 1211.9 L1178.7 1220.8 L1179.1 1211.4 L1179.5 1217.9 L1179.9 1210.6 L1180.3 1215.5 L1180.7 1207.0 L1181.1 1209.6 L1181.5 1200.2 L1181.9 1197.1 L1182.3 1183.8 L1182.7 1160.2 L1183.1 1110.1 L1183.5 1017.5 L1183.8 953.7 L1183.9 941.4 L1184.0 953.6 L1184.3 1017.6 L1184.7 1110.0 L1185.1 1158.5 L1185.5 1182.0 L1185.9 1197.0 L1186.3 1200.3 L1186.7 1210.1 L1187.1 1206.3 L1187.5 1214.8 L1187.9 1208.9 L1188.3 1217.3 L1188.7 1211.0 L1189.1 1217.8 L1189.5 1211.8 L1189.9 1219.7 L1190.3 1212.5 L1190.7 1218.8 L1191.1 1210.7 L1191.5 1217.8 L1191.9 1210.3 L1192.3 1215.6 L1192.7 1208.7 L1193.1 1212.7 L1193.5 1204.3 L1193.9 1200.7 L1194.3 1195.3 L1194.7 1188.3 L1195.1 1168.7 L1195.5 1136.1 L1195.9 1064.3 L1196.3 940.5 L1196.5 896.6 L1196.6 881.4 L1196.7 887.6 L1196.8 898.4 L1197.1 1005.5 L1197.5 1107.4 L1197.9 1154.6 L1198.3 1181.0 L1198.7 1192.1 L1199.1 1202.7 L1199.5 1208.9 L1199.9 1206.1 L1200.3 1214.6 L1200.7 1216.4 L1201.1 1211.5 L1201.5 1218.7 L1201.9 1211.4 L1202.3 1220.9 L1202.7 1212.3 L1203.1 1220.1 L1203.5 1213.4 L1203.9 1221.1 L1204.3 1213.3 L1204.7 1221.9 L1205.1 1214.6 L1205.5 1221.7 L1205.9 1215.4 L1206.3 1221.7 L1206.7 1214.1 L1207.1 1222.6 L1207.5 1223.0 L1207.9 1214.4 L1208.3 1221.8 L1208.7 1214.9 L1209.1 1215.1 L1209.5 1221.9 L1209.9 1222.4 L1210.3 1215.2 L1210.7 1221.2 L1211.1 1214.8 L1211.5 1222.4 L1211.9 1213.6 L1212.3 1221.1 L1212.7 1212.5 L1213.1 1220.4 L1213.5 1212.1 L1213.9 1211.8 L1214.3 1217.4 L1214.7 1209.6 L1215.1 1213.8 L1215.5 1205.2 L1215.9 1206.5 L1216.3 1195.6 L1216.7 1186.1 L1217.1 1162.5 L1217.5 1118.5 L1217.9 1030.1 L1218.2 971.7 L1218.3 957.1 L1218.5 970.3 L1218.7 1031.9 L1219.1 1116.7 L1219.5 1163.9 L1219.9 1184.4 L1220.3 1198.1 L1220.7 1201.3 L1221.1 1210.8 L1221.5 1206.7 L1221.9 1216.2 L1222.3 1209.9 L1222.7 1210.1 L1223.1 1211.6 L1223.5 1218.5 L1223.9 1211.7 L1224.3 1218.9 L1224.7 1212.4 L1225.1 1218.3 L1225.5 1211.5 L1225.9 1219.2 L1226.3 1211.3 L1226.7 1210.4 L1227.1 1216.0 L1227.5 1208.4 L1227.9 1211.7 L1228.3 1203.9 L1228.7 1204.1 L1229.1 1194.2 L1229.5 1184.9 L1229.9 1163.0 L1230.3 1124.8 L1230.7 1040.5 L1231.1 915.8 L1231.2 902.2 L1231.3 887.3 L1231.5 904.2 L1231.5 914.0 L1231.9 1042.4 L1232.3 1123.0 L1232.7 1164.8 L1233.1 1185.1 L1233.5 1193.8 L1233.9 1204.1 L1234.3 1203.6 L1234.7 1211.9 L1235.1 1207.3 L1235.5 1215.9 L1235.9 1209.6 L1236.3 1217.2 L1236.7 1211.9 L1237.1 1219.0 L1237.5 1211.9 L1237.9 1219.2 L1238.3 1211.1 L1238.7 1217.9 L1239.1 1211.2 L1239.5 1209.9 L1239.9 1216.7 L1240.3 1209.8 L1240.7 1214.8 L1241.1 1211.3 L1241.5 1202.9 L1241.9 1203.4 L1242.3 1192.0 L1242.7 1180.6 L1243.1 1153.1 L1243.5 1102.6 L1243.9 998.6 L1244.2 931.2 L1244.3 918.1 L1244.5 931.2 L1244.7 1000.5 L1245.1 1101.0 L1245.5 1155.0 L1245.9 1178.7 L1246.3 1194.4 L1246.7 1199.1 L1247.1 1208.8 L1247.5 1206.7 L1247.9 1213.8 L1248.3 1208.8 L1248.7 1216.4 L1249.1 1211.7 L1249.5 1218.1 L1249.9 1211.7 L1250.3 1219.2 L1250.7 1218.7 L1251.1 1212.5 L1251.5 1219.8 L1251.9 1212.1 L1252.3 1218.6 L1252.7 1210.8 L1253.1 1217.5 L1253.5 1209.9 L1253.9 1215.5 L1254.3 1206.5 L1254.7 1208.8 L1255.1 1199.3 L1255.5 1195.6 L1255.9 1179.6 L1256.3 1154.4 L1256.7 1097.8 L1257.1 1001.0 L1257.2 966.6 L1257.4 955.2 L1257.5 959.4 L1257.5 968.3 L1257.9 1053.5 L1258.3 1132.2 L1258.7 1168.7 L1259.1 1189.3 L1259.5 1197.0 L1259.9 1207.3 L1260.3 1212.1 L1260.7 1208.9 L1261.1 1217.3 L1261.5 1210.6 L1261.9 1211.5 L1262.3 1219.8 L1262.7 1212.8 L1263.1 1221.2 L1263.5 1214.1 L1263.9 1221.4 L1264.3 1214.2 L1264.7 1214.4 L1265.1 1221.5 L1265.5 1215.4 L1265.9 1222.6 L1266.3 1214.9 L1266.7 1222.9 L1267.1 1214.9 L1267.5 1222.8 L1267.9 1215.1 L1268.3 1222.2 L1268.7 1215.6 L1269.1 1222.4 L1269.5 1214.2 L1269.9 1222.6 L1270.3 1215.1 L1270.7 1223.6 L1271.1 1214.0 L1271.5 1222.4 L1271.9 1222.1 L1272.3 1215.5 L1272.7 1221.9 L1273.1 1221.9 L1273.5 1215.2 L1273.9 1221.5 L1274.3 1214.7 L1274.7 1222.8 L1275.1 1213.9 L1275.5 1222.2 L1275.9 1212.9 L1276.3 1220.3 L1276.7 1211.9 L1277.1 1219.3 L1277.5 1211.0 L1277.9 1215.4 L1278.3 1206.8 L1278.7 1210.5 L1279.1 1201.0 L1279.5 1196.8 L1279.9 1180.9 L1280.3 1156.3 L1280.7 1100.9 L1281.1 1006.9 L1281.2 973.2 L1281.4 961.8 L1281.5 966.3 L1281.5 974.8 L1281.9 1057.7 L1282.3 1134.1 L1282.7 1169.6 L1283.1 1190.1 L1283.5 1196.7 L1283.9 1208.0 L1284.3 1205.4 L1284.7 1214.5 L1285.1 1209.7 L1285.5 1217.3 L1285.9 1210.2 L1286.3 1211.5 L1286.7 1219.3 L1287.1 1219.5 L1287.5 1211.2 L1287.9 1218.8 L1288.3 1211.8 L1288.7 1218.7 L1289.1 1219.4 L1289.5 1212.0 L1289.9 1217.3 L1290.3 1210.1 L1290.7 1208.9 L1291.1 1213.8 L1291.5 1204.9 L1291.9 1206.1 L1292.3 1195.6 L1292.7 1188.1 L1293.1 1168.0 L1293.5 1133.2 L1293.9 1056.9 L1294.3 943.8 L1294.3 931.4 L1294.5 918.1 L1294.7 931.6 L1294.7 943.9 L1295.1 1056.8 L1295.5 1133.2 L1295.9 1168.1 L1296.3 1186.4 L1296.7 1198.9 L1297.1 1201.2 L1297.5 1210.0 L1297.9 1205.8 L1298.3 1213.9 L1298.7 1210.0 L1299.1 1216.2 L1299.5 1210.2 L1299.9 1217.1 L1300.3 1211.4 L1300.7 1217.9 L1301.1 1211.0 L1301.5 1218.3 L1301.9 1209.9 L1302.3 1216.1 L1302.7 1208.0 L1303.1 1206.8 L1303.5 1211.6 L1303.9 1202.6 L1304.3 1199.5 L1304.7 1196.6 L1305.1 1182.9 L1305.5 1165.5 L1305.9 1126.5 L1306.3 1051.4 L1306.7 913.2 L1306.8 869.0 L1307.0 849.0 L1307.1 858.7 L1307.2 867.4 L1307.5 987.5 L1307.9 1094.6 L1308.3 1150.1 L1308.7 1174.8 L1309.1 1190.8 L1309.5 1196.4 L1309.9 1206.1 L1310.3 1204.7 L1310.7 1206.7 L1311.1 1214.6 L1311.5 1208.8 L1311.9 1216.3 L1312.3 1210.9 L1312.7 1218.1 L1313.1 1210.7 L1313.5 1218.3 L1313.9 1210.5 L1314.3 1217.6 L1314.7 1209.2 L1315.1 1216.5 L1315.5 1208.4 L1315.9 1214.4 L1316.3 1206.6 L1316.7 1208.7 L1317.1 1200.1 L1317.5 1197.7 L1317.9 1184.5 L1318.3 1167.9 L1318.7 1130.7 L1319.1 1057.8 L1319.5 929.4 L1319.7 884.0 L1319.8 868.2 L1319.9 874.4 L1320.0 885.4 L1320.3 997.0 L1320.7 1102.5 L1321.1 1152.0 L1321.5 1178.9 L1321.9 1190.5 L1322.3 1197.7 L1322.7 1206.8 L1323.1 1205.3 L1323.5 1213.6 L1323.9 1208.7 L1324.3 1217.2 L1324.7 1210.2 L1325.1 1219.3 L1325.5 1212.4 L1325.9 1219.4 L1326.3 1213.0 L1326.7 1221.5 L1327.1 1220.8 L1327.5 1212.7 L1327.9 1221.0 L1328.3 1213.0 L1328.7 1221.1 L1329.1 1213.5 L1329.5 1221.3 L1329.9 1214.0 L1330.3 1214.2 L1330.7 1221.9 L1331.1 1214.1 L1331.5 1221.3 L1331.9 1213.8 L1332.3 1220.4 L1332.7 1212.9 L1333.1 1220.4 L1333.5 1213.0 L1333.9 1220.1 L1334.3 1219.6 L1334.7 1211.2 L1335.1 1218.6 L1335.5 1210.4 L1335.9 1216.0 L1336.3 1214.9 L1336.7 1206.2 L1337.1 1210.1 L1337.5 1202.9 L1337.9 1203.2 L1338.3 1196.7 L1338.7 1185.5 L1339.1 1172.8 L1339.5 1146.4 L1339.9 1101.3 L1340.3 1002.6 L1340.7 821.5 L1341.0 696.9 L1341.1 671.3 L1341.2 697.0 L1341.5 821.4 L1341.9 1002.4 L1342.3 1100.7 L1342.7 1145.8 L1343.1 1172.0 L1343.5 1184.6 L1343.9 1195.8 L1344.3 1197.4 L1344.7 1205.4 L1345.1 1203.7 L1345.5 1211.4 L1345.9 1205.8 L1346.3 1213.3 L1346.7 1208.1 L1347.1 1214.4 L1347.5 1208.3 L1347.9 1214.6 L1348.3 1207.7 L1348.7 1213.9 L1349.1 1206.5 L1349.5 1212.6 L1349.9 1204.2 L1350.3 1207.9 L1350.7 1200.3 L1351.1 1200.1 L1351.5 1191.4 L1351.9 1184.1 L1352.3 1167.3 L1352.7 1143.2 L1353.1 1092.3 L1353.5 992.1 L1353.9 799.6 L1354.2 668.5 L1354.3 641.5 L1354.5 670.5 L1354.7 797.9 L1355.1 991.9 L1355.5 1094.0 L1355.9 1142.8 L1356.3 1167.1 L1356.7 1184.0 L1357.1 1190.8 L1357.5 1199.6 L1357.9 1200.4 L1358.3 1207.4 L1358.7 1204.4 L1359.1 1211.1 L1359.5 1206.6 L1359.9 1212.0 L1360.3 1206.3 L1360.7 1213.7 L1361.1 1206.8 L1361.5 1212.1 L1361.9 1204.8 L1362.3 1209.7 L1362.7 1202.6 L1363.1 1204.9 L1363.5 1196.2 L1363.9 1191.2 L1364.3 1184.6 L1364.7 1168.2 L1365.1 1144.4 L1365.5 1094.7 L1365.9 996.3 L1366.3 806.0 L1366.5 680.7 L1366.7 651.1 L1366.8 681.0 L1367.1 806.0 L1367.5 996.4 L1367.9 1096.6 L1368.3 1143.0 L1368.7 1170.2 L1369.1 1183.1 L1369.5 1194.2 L1369.9 1197.4 L1370.3 1205.4 L1370.7 1202.8 L1371.1 1204.9 L1371.5 1212.2 L1371.9 1207.4 L1372.3 1214.3 L1372.7 1208.5 L1373.1 1214.3 L1373.5 1215.6 L1373.9 1208.8 L1374.3 1214.3 L1374.7 1207.3 L1375.1 1212.5 L1375.5 1205.9 L1375.9 1209.0 L1376.3 1200.2 L1376.7 1200.2 L1377.1 1190.0 L1377.5 1179.9 L1377.9 1156.5 L1378.3 1114.9 L1378.7 1031.0 L1379.1 877.3 L1379.2 827.8 L1379.4 805.6 L1379.5 816.5 L1379.5 827.7 L1379.9 959.0 L1380.3 1080.1 L1380.7 1141.4 L1381.1 1169.8 L1381.5 1187.3 L1381.9 1194.7 L1382.3 1204.6 L1382.7 1202.7 L1383.1 1211.3 L1383.5 1208.0 L1383.9 1208.8 L1384.3 1216.8 L1384.7 1210.8 L1385.1 1218.0 L1385.5 1211.0 L1385.9 1220.1 L1386.3 1213.1 L1386.7 1212.3 L1387.1 1220.7 L1387.5 1212.2 L1387.9 1221.2 L1388.3 1212.3 L1388.7 1212.6 L1389.1 1220.7 L1389.5 1220.6 L1389.9 1213.2 L1390.3 1219.9 L1390.7 1214.0 L1391.1 1220.1 L1391.5 1213.1 L1391.9 1220.4 L1392.3 1212.5 L1392.7 1219.4 L1393.1 1211.2 L1393.5 1211.1 L1393.9 1218.2 L1394.3 1211.0 L1394.7 1217.3 L1395.1 1209.2 L1395.5 1215.3 L1395.9 1213.7 L1396.3 1204.9 L1396.7 1203.9 L1397.1 1205.4 L1397.5 1196.9 L1397.9 1193.5 L1398.3 1181.7 L1398.7 1167.6 L1399.1 1138.9 L1399.5 1089.6 L1399.9 982.1 L1400.3 783.4 L1400.5 647.7 L1400.7 619.2 L1400.8 647.3 L1401.1 783.4 L1401.5 981.8 L1401.9 1089.1 L1402.3 1138.3 L1402.7 1166.9 L1403.1 1180.7 L1403.5 1191.9 L1403.9 1195.6 L1404.3 1198.8 L1404.7 1206.0 L1405.1 1204.0 L1405.5 1210.2 L1405.9 1205.6 L1406.3 1205.2 L1406.7 1211.8 L1407.1 1211.7 L1407.5 1204.8 L1407.9 1210.0 L1408.3 1203.0 L1408.7 1206.9 L1409.1 1204.3 L1409.5 1196.2 L1409.9 1194.0 L1410.3 1183.3 L1410.7 1172.3 L1411.1 1148.8 L1411.5 1109.1 L1411.9 1032.8 L1412.3 869.6 L1412.7 628.4 L1412.8 603.9 L1412.9 573.3 L1413.0 603.6 L1413.1 628.3 L1413.5 869.8 L1413.9 1032.7 L1414.3 1109.3 L1414.7 1150.4 L1415.1 1170.6 L1415.5 1185.3 L1415.9 1191.5 L1416.3 1199.8 L1416.7 1199.3 L1417.1 1207.5 L1417.5 1204.6 L1417.9 1210.7 L1418.3 1206.2 L1418.7 1212.9 L1419.1 1207.1 L1419.5 1213.9 L1419.9 1206.9 L1420.3 1212.4 L1420.7 1206.8 L1421.1 1211.2 L1421.5 1204.2 L1421.9 1207.5 L1422.3 1200.6 L1422.7 1200.8 L1423.1 1192.1 L1423.5 1187.1 L1423.9 1175.1 L1424.3 1153.8 L1424.7 1120.6 L1425.1 1053.6 L1425.5 912.6 L1425.9 671.3 L1426.0 587.0 L1426.2 554.0 L1426.3 570.9 L1426.3 586.9 L1426.7 800.7 L1427.1 995.5 L1427.5 1091.5 L1427.9 1141.1 L1428.3 1166.6 L1428.7 1180.2 L1429.1 1191.5 L1429.5 1195.0 L1429.9 1202.9 L1430.3 1201.7 L1430.7 1209.0 L1431.1 1204.5 L1431.5 1211.9 L1431.9 1206.6 L1432.3 1213.5 L1432.7 1213.5 L1433.1 1207.3 L1433.5 1213.3 L1433.9 1206.1 L1434.3 1210.9 L1434.7 1203.8 L1435.1 1207.8 L1435.5 1200.8 L1435.9 1201.0 L1436.3 1192.2 L1436.7 1186.2 L1437.1 1171.6 L1437.5 1151.8 L1437.9 1110.7 L1438.3 1035.2 L1438.7 873.1 L1439.1 633.8 L1439.2 609.2 L1439.3 579.0 L1439.5 609.3 L1439.5 632.0 L1439.9 875.2 L1440.3 1033.9 L1440.7 1112.9 L1441.1 1150.6 L1441.5 1174.3 L1441.9 1185.5 L1442.3 1196.5 L1442.7 1198.6 L1443.1 1206.3 L1443.5 1204.5 L1443.9 1212.7 L1444.3 1214.4 L1444.7 1209.1 L1445.1 1216.5 L1445.5 1210.2 L1445.9 1218.2 L1446.3 1211.4 L1446.7 1219.0 L1447.1 1211.4 L1447.5 1218.5 L1447.9 1211.4 L1448.3 1218.5 L1448.7 1209.3 L1449.1 1213.7 L1449.5 1203.7 L1449.9 1199.5 L1450.3 1179.4 L1450.5 1169.3 L1450.7 1164.8 L1450.8 1169.1 L1451.1 1179.4 L1451.5 1199.5 L1451.9 1204.9 L1452.3 1214.7 L1452.7 1217.0 L1453.1 1212.1 L1453.5 1219.5 L1453.9 1211.0 L1454.3 1209.6 L1454.7 1212.6 L1455.1 1201.4 L1455.5 1201.5 L1455.9 1196.1 L1456.3 1201.9 L1456.7 1202.6 L1457.1 1212.9 L1457.5 1209.9 L1457.9 1213.0 L1458.3 1222.0 L1458.7 1223.7 L1459.1 1214.3 L1459.5 1223.2 L1459.9 1216.4 L1460.3 1224.5 L1460.7 1216.1 L1461.1 1214.8 L1461.5 1224.8 L1461.9 1215.9 L1462.0 1216.5 L1462.4 1213.0 L1462.8 1219.7 L1463.2 1219.3 L1463.7 1212.7 L1464.1 1219.6 L1464.5 1215.0 L1464.9 1209.0 L1465.3 1211.5 L1465.7 1198.4 L1466.1 1196.5 L1466.5 1178.8 L1466.9 1170.8 L1467.3 1145.6 L1467.8 1124.8 L1468.2 1091.3 L1468.6 1054.2 L1469.0 1010.0 L1469.4 960.5 L1469.8 914.3 L1470.2 871.7 L1470.6 844.9 L1471.0 834.0 L1471.4 846.8 L1471.8 880.5 L1472.2 926.1 L1472.6 978.7 L1473.0 1026.4 L1473.4 1069.9 L1473.8 1102.3 L1474.2 1131.4 L1474.6 1145.7 L1475.0 1158.6 L1475.4 1176.2 L1475.8 1175.8 L1476.2 1189.0 L1476.6 1188.5 L1477.0 1182.0 L1477.4 1182.8 L1477.8 1168.7 L1478.2 1164.0 L1478.6 1143.8 L1479.0 1129.8 L1479.4 1101.3 L1479.8 1069.3 L1480.2 1026.4 L1480.6 977.5 L1481.0 921.4 L1481.4 863.1 L1481.8 813.5 L1482.2 776.8 L1482.6 764.7 L1483.0 778.0 L1483.4 811.3 L1483.8 861.4 L1484.2 918.7 L1484.6 972.9 L1485.0 1021.9 L1485.4 1064.6 L1485.9 1096.2 L1486.3 1123.8 L1486.7 1143.2 L1487.1 1151.9 L1487.5 1168.9 L1487.9 1169.7 L1488.3 1181.4 L1488.7 1181.7 L1489.1 1179.9 L1489.5 1168.3 L1489.9 1166.2 L1490.3 1147.9 L1490.7 1139.1 L1491.1 1115.9 L1491.5 1091.7 L1491.9 1060.4 L1492.3 1018.6 L1492.7 970.1 L1493.1 909.9 L1493.5 844.8 L1493.9 773.5 L1494.3 706.8 L1494.7 648.1 L1495.1 609.2 L1495.5 596.0 L1495.9 610.9 L1496.3 655.4 L1496.7 718.3 L1497.1 790.1 L1497.5 864.5 L1497.9 932.2 L1498.3 990.7 L1498.7 1038.7 L1499.1 1075.8 L1499.5 1106.7 L1499.9 1130.2 L1500.3 1142.5 L1500.7 1161.0 L1501.1 1163.2 L1501.5 1176.7 L1501.9 1178.4 L1502.3 1176.5 L1502.7 1169.5 L1503.1 1153.3 L1503.5 1146.5 L1503.9 1123.9 L1504.3 1102.8 L1504.7 1070.6 L1505.1 1031.7 L1505.5 979.8 L1505.9 919.7 L1506.3 847.4 L1506.7 771.5 L1507.1 693.8 L1507.5 628.8 L1507.9 582.0 L1508.3 566.5 L1508.7 591.0 L1509.1 658.7 L1509.5 752.7 L1509.9 849.5 L1510.3 940.4 L1510.7 1013.1 L1511.1 1071.5 L1511.5 1111.8 L1511.9 1146.6 L1512.3 1161.1 L1512.7 1176.2 L1513.1 1192.1 L1513.5 1196.0 L1513.9 1203.2 L1514.3 1199.1 L1514.7 1208.3 L1515.1 1204.9 L1515.5 1211.0 L1515.9 1215.5 L1516.3 1209.1 L1516.7 1217.8 L1517.1 1211.8 L1517.5 1216.5 L1517.9 1213.9 L1518.3 1219.8 L1518.7 1214.1 L1519.1 1220.6 L1519.5 1217.5 L1519.9 1219.9 L1520.3 1213.3 L1520.8 1220.0 L1521.2 1212.2 L1521.6 1219.7 L1522.0 1215.0 L1522.4 1216.6 L1522.7 1208.5 L1523.1 1212.9 L1523.5 1211.4 L1523.8 1203.6 L1524.2 1205.0 L1524.6 1198.9 L1525.0 1203.5 L1525.4 1194.2 L1525.8 1196.7 L1526.3 1184.2 L1526.7 1182.4 L1527.1 1166.7 L1527.5 1161.2 L1527.9 1139.6 L1528.3 1122.3 L1528.7 1102.3 L1529.1 1075.2 L1529.5 1048.4 L1530.0 1017.6 L1530.4 991.2 L1530.8 967.0 L1531.2 952.7 L1531.6 946.7 L1532.0 956.2 L1532.4 978.5 L1532.8 1011.1 L1533.3 1041.2 L1533.7 1068.9 L1534.1 1091.8 L1534.5 1106.3 L1534.9 1119.6 L1535.3 1127.7 L1535.8 1129.4 L1536.2 1136.4 L1536.6 1137.0 L1537.0 1137.6 L1537.4 1130.5 L1537.8 1131.3 L1538.2 1120.8 L1538.6 1114.5 L1539.0 1098.7 L1539.4 1081.8 L1539.8 1060.4 L1540.2 1045.1 L1540.6 1037.9 L1541.0 1043.9 L1541.4 1055.9 L1541.8 1074.3 L1542.2 1089.7 L1542.6 1104.8 L1542.9 1112.8 L1543.3 1122.5 L1543.7 1123.8 L1544.1 1130.9 L1544.5 1128.6 L1544.9 1132.1 L1545.3 1128.1 L1545.7 1128.0 L1546.1 1119.9 L1546.5 1115.1 L1546.9 1102.4 L1547.3 1089.1 L1547.6 1069.1 L1548.0 1042.1 L1548.4 1012.2 L1548.8 978.0 L1549.2 944.4 L1549.6 922.1 L1550.0 912.8 L1550.4 919.7 L1550.8 936.1 L1551.2 963.1 L1551.6 991.6 L1552.0 1022.7 L1552.4 1048.8 L1552.8 1073.8 L1553.2 1093.5 L1553.7 1107.3 L1554.1 1122.4 L1554.5 1127.9 L1554.9 1138.7 L1555.3 1139.4 L1555.7 1148.0 L1556.1 1144.6 L1556.5 1150.0 L1557.0 1138.4 L1557.4 1138.8 L1557.8 1123.7 L1558.3 1120.0 L1558.8 1115.2 L1559.2 1105.6 L1559.6 1077.0 L1560.1 1056.3 L1560.4 1080.2 L1560.8 1113.5 L1561.2 1124.2 L1561.5 1130.0 L1561.9 1149.8 L1562.3 1175.0 L1562.7 1163.3 L1563.1 1155.6 L1563.5 1150.0 L1563.9 1146.0 L1564.3 1147.9 L1564.7 1139.1 L1565.1 1138.6 L1565.5 1125.7 L1565.9 1117.4 L1566.3 1100.0 L1566.7 1081.2 L1567.1 1055.7 L1567.5 1030.4 L1567.9 1004.1 L1568.3 986.8 L1568.7 979.5 L1569.1 988.9 L1569.5 1012.2 L1569.9 1040.3 L1570.3 1068.7 L1570.7 1093.3 L1571.1 1108.9 L1571.5 1120.8 L1571.9 1131.8 L1572.3 1132.9 L1572.7 1141.6 L1573.1 1140.9 L1573.5 1140.5 L1573.9 1132.0 L1574.2 1129.8 L1574.6 1117.5 L1575.0 1105.6 L1575.4 1083.7 L1575.8 1057.6 L1576.2 1023.2 L1576.5 989.9 L1576.9 961.6 L1577.3 951.8 L1577.7 957.5 L1578.1 976.2 L1578.5 1000.0 L1578.9 1029.3 L1579.3 1055.8 L1579.7 1081.9 L1580.1 1101.2 L1580.6 1119.9 L1581.0 1129.0 L1581.4 1143.5 L1581.8 1144.6 L1582.2 1155.4 L1582.6 1160.1 L1583.0 1156.4 L1583.4 1160.9 L1583.8 1163.4 L1584.2 1154.6 L1584.6 1157.0 L1585.1 1147.5 L1585.5 1147.9 L1585.9 1139.1 L1586.3 1124.6 L1586.7 1114.2 L1587.1 1095.3 L1587.5 1077.2 L1588.0 1055.2 L1588.4 1037.5 L1588.8 1022.8 L1589.2 1018.5 L1589.6 1023.9 L1590.0 1041.4 L1590.4 1062.6 L1590.8 1087.3 L1591.2 1107.1 L1591.6 1127.7 L1592.1 1137.7 L1592.5 1147.4 L1592.9 1160.8 L1593.3 1158.4 L1593.7 1168.5 L1594.1 1164.8 L1594.5 1170.0 L1594.9 1171.6 L1595.3 1183.7 L1595.8 1181.2 L1596.2 1194.4 L1596.6 1192.1 L1597.0 1200.0 L1597.4 1206.3 L1597.8 1207.9 L1598.2 1202.3 L1598.7 1213.1 L1599.1 1214.6 L1599.5 1213.0 L1599.9 1216.2 L1600.3 1210.4 L1600.7 1217.4 L1601.1 1211.7 L1601.6 1218.0 L1602.0 1211.1 L1602.4 1218.4 L1602.8 1212.6 L1603.2 1216.6 L1603.6 1219.5 L1604.0 1211.9 L1604.4 1219.4 L1604.8 1211.1 L1605.2 1218.1 L1605.6 1212.0 L1606.0 1214.5 L1606.4 1209.0 L1606.7 1214.9 L1607.1 1212.2 L1607.5 1204.3 L1607.8 1209.0 L1608.2 1204.0 L1608.6 1198.3 L1609.0 1201.7 L1609.4 1190.0 L1609.8 1184.2 L1610.2 1181.9 L1610.6 1172.4 L1611.0 1150.4 L1611.4 1137.9 L1611.9 1112.4 L1612.3 1086.4 L1612.7 1052.5 L1613.1 1016.7 L1613.5 976.4 L1613.9 939.9 L1614.3 906.8 L1614.7 886.4 L1615.1 878.0 L1615.5 891.3 L1615.9 924.0 L1616.2 970.4 L1616.6 1014.8 L1617.0 1054.6 L1617.4 1087.2 L1617.8 1108.1 L1618.2 1127.4 L1618.5 1139.6 L1618.9 1142.0 L1619.3 1151.9 L1619.7 1152.5 L1620.1 1152.6 L1620.5 1143.3 L1620.9 1141.8 L1621.3 1129.4 L1621.7 1121.8 L1622.1 1105.1 L1622.5 1086.8 L1623.0 1059.7 L1623.4 1028.8 L1623.8 989.0 L1624.2 947.0 L1624.6 901.8 L1625.0 863.9 L1625.4 835.5 L1625.8 826.3 L1626.2 834.1 L1626.6 859.6 L1627.0 893.1 L1627.4 934.5 L1627.8 974.2 L1628.2 1012.6 L1628.6 1043.7 L1629.0 1071.5 L1629.5 1091.4 L1629.9 1109.6 L1630.3 1122.7 L1630.7 1128.2 L1631.1 1139.9 L1631.5 1139.9 L1631.9 1148.2 L1632.3 1148.6 L1632.7 1147.7 L1633.1 1139.0 L1633.5 1137.0 L1633.9 1125.0 L1634.3 1116.5 L1634.7 1098.6 L1635.1 1079.0 L1635.6 1050.8 L1636.0 1018.1 L1636.4 976.1 L1636.8 931.8 L1637.2 884.2 L1637.6 844.3 L1638.0 814.0 L1638.4 804.4 L1638.8 814.3 L1639.2 845.2 L1639.6 886.2 L1640.0 934.9 L1640.4 980.3 L1640.8 1023.3 L1641.2 1057.0 L1641.6 1086.1 L1642.0 1107.6 L1642.4 1121.2 L1642.8 1137.3 L1643.2 1140.3 L1643.6 1146.2 L1644.0 1158.0 L1644.4 1157.4 L1644.8 1157.8 L1645.2 1145.8 L1645.6 1145.3 L1646.0 1130.5 L1646.4 1119.6 L1646.8 1097.6 L1647.2 1071.9 L1647.6 1035.6 L1648.0 994.4 L1648.4 948.0 L1648.8 902.9 L1649.2 870.6 L1649.6 859.4 L1649.9 939.3 L1650.3 1042.6 L1650.7 1085.5 L1651.0 1100.0 L1651.4 1178.8 L1651.8 1265.2 L1652.2 1176.2 L1652.6 1080.0 L1653.0 1077.8 L1653.4 1073.4 L1653.8 1065.7 L1654.2 1057.1 L1654.6 1041.8 L1655.0 1021.7 L1655.4 994.6 L1655.8 960.9 L1656.2 919.8 L1656.6 882.0 L1657.0 851.3 L1657.4 840.6 L1657.8 859.5 L1658.2 905.2 L1658.7 966.7 L1659.1 1023.1 L1659.5 1070.8 L1659.9 1107.7 L1660.3 1129.3 L1660.7 1151.1 L1661.2 1155.0 L1661.6 1168.2 L1662.0 1170.0 L1662.4 1178.3 L1662.8 1176.6 L1663.2 1188.5 L1663.7 1186.1 L1664.1 1197.7 L1664.5 1200.0 L1664.9 1204.8 L1665.3 1200.1 L1665.8 1209.4 L1666.2 1204.1 L1666.6 1213.1 L1667.0 1212.5 L1667.4 1209.1 L1667.8 1217.1 L1668.2 1211.0 L1668.6 1217.1 L1669.0 1211.4 L1669.4 1217.8 L1669.8 1211.4 L1670.2 1215.7 L1670.6 1211.2 L1671.0 1218.8 L1671.3 1211.6 L1671.7 1211.2 L1672.1 1218.2 L1672.5 1209.7 L1672.8 1216.4 L1673.2 1213.0 L1673.6 1214.2 L1674.0 1206.0 L1674.3 1210.4 L1674.7 1201.3 L1675.1 1205.2 L1675.5 1200.0 L1675.9 1194.7 L1676.3 1199.7 L1676.7 1189.7 L1677.1 1191.8 L1677.5 1178.1 L1677.9 1178.2 L1678.3 1161.0 L1678.7 1154.0 L1679.1 1132.5 L1679.5 1116.4 L1679.9 1090.5 L1680.3 1065.5 L1680.7 1036.0 L1681.1 1010.0 L1681.5 985.7 L1681.9 971.4 L1682.3 965.2 L1682.7 972.6 L1683.1 991.0 L1683.5 1013.6 L1683.9 1039.4 L1684.3 1059.4 L1684.8 1077.5 L1685.2 1088.5 L1685.6 1098.6 L1686.0 1102.9 L1686.4 1109.0 L1686.8 1111.8 L1687.2 1112.3 L1687.6 1112.2 L1688.0 1107.6 L1688.4 1106.3 L1688.9 1100.1 L1689.3 1094.9 L1689.7 1084.2 L1690.1 1071.8 L1690.5 1056.7 L1690.9 1035.8 L1691.4 1015.5 L1691.8 993.8 L1692.2 980.4 L1692.6 974.2 L1693.0 979.1 L1693.4 990.3 L1693.8 1009.3 L1694.1 1027.9 L1694.5 1048.7 L1694.9 1064.9 L1695.3 1080.8 L1695.7 1091.3 L1696.1 1101.6 L1696.5 1106.7 L1696.9 1113.6 L1697.2 1115.1 L1697.6 1120.2 L1698.0 1119.2 L1698.4 1122.0 L1698.8 1119.5 L1699.2 1121.5 L1699.6 1116.4 L1700.0 1117.3 L1700.4 1111.3 L1700.8 1109.5 L1701.2 1103.1 L1701.5 1094.5 L1701.9 1086.0 L1702.3 1073.4 L1702.7 1062.3 L1703.1 1048.1 L1703.5 1037.9 L1703.9 1028.6 L1704.3 1026.3 L1704.7 1031.4 L1705.1 1042.2 L1705.5 1059.5 L1705.9 1076.0 L1706.3 1090.1 L1706.8 1101.4 L1707.2 1107.8 L1707.6 1116.1 L1708.0 1117.3 L1708.4 1123.2 L1708.8 1121.4 L1709.2 1124.2 L1709.6 1121.6 L1710.0 1119.5 L1710.4 1117.3 L1710.8 1115.7 L1711.2 1107.9 L1711.6 1101.2 L1712.0 1088.5 L1712.4 1075.6 L1712.8 1057.9 L1713.2 1043.0 L1713.6 1029.5 L1714.0 1025.7 L1714.4 1032.5 L1714.8 1052.5 L1715.2 1073.3 L1715.6 1089.7 L1716.1 1103.6 L1716.5 1109.2 L1716.9 1116.6 L1717.3 1116.7 L1717.7 1119.8 L1718.1 1132.1 L1718.5 1134.9 L1719.0 1151.1 L1719.4 1153.4 L1719.8 1169.2 L1720.2 1171.4 L1720.7 1188.0 L1721.1 1193.0 L1721.5 1191.6 L1721.9 1201.6 L1722.3 1197.6 L1722.7 1206.3 L1723.1 1210.2 L1723.5 1208.6 L1723.9 1213.1 L1724.3 1205.0 L1724.7 1213.7 L1725.1 1205.7 L1725.5 1213.3 L1725.9 1207.0 L1726.4 1213.9 L1726.8 1207.5 L1727.2 1215.0 L1727.6 1207.6 L1728.0 1215.4 L1728.4 1208.4 L1728.8 1213.0 L1729.2 1208.8 L1729.6 1214.4 L1730.0 1208.1 L1730.4 1213.9 L1730.8 1205.6 L1731.2 1213.2 L1731.6 1204.7 L1732.0 1211.2 L1732.4 1204.1 L1732.8 1210.0 L1733.2 1202.2 L1733.6 1208.1 L1734.0 1201.8 L1734.4 1204.1 L1734.8 1199.4 L1735.2 1205.3 L1735.7 1197.2 L1736.1 1202.9 L1736.5 1194.6 L1736.9 1199.3 L1737.3 1199.5 L1737.7 1190.0 L1738.2 1196.7 L1738.6 1187.1 L1739.0 1190.0 L1739.4 1185.8 L1739.8 1185.3 L1740.2 1191.2 L1740.6 1183.7 L1741.0 1189.1 L1741.4 1181.3 L1741.8 1187.1 L1742.1 1180.6 L1742.5 1185.1 L1742.9 1177.4 L1743.3 1177.1 L1743.7 1183.2 L1744.1 1175.3 L1744.5 1178.2 L1744.9 1176.2 L1745.3 1178.3 L1745.7 1185.5 L1746.1 1188.4 L1746.4 1188.8 L1746.8 1184.2 L1747.2 1192.8 L1747.6 1186.1 L1748.0 1192.0 L1748.4 1190.3 L1748.8 1190.8 L1749.1 1199.2 L1749.5 1194.3 L1749.9 1201.5 L1750.2 1195.6 L1750.6 1203.7 L1751.0 1201.9 L1751.4 1207.1 L1751.8 1200.4 L1752.2 1207.6 L1752.6 1200.8 L1753.0 1209.0 L1753.4 1209.5 L1753.8 1211.8 L1754.2 1205.3 L1754.6 1213.1 L1755.0 1206.7 L1755.4 1214.6 L1755.8 1208.4 L1756.2 1215.4 L1756.6 1213.0 L1757.0 1214.9 L1757.4 1204.0 L1757.8 1208.7 L1758.2 1199.4 L1758.6 1197.5 L1759.0 1201.2 L1759.4 1192.7 L1759.8 1197.1 L1760.2 1188.3 L1760.6 1188.6 L1761.0 1187.7 L1761.4 1196.6 L1761.8 1192.9 L1762.2 1195.4 L1762.6 1205.0 L1763.0 1203.0 L1763.4 1206.9 L1763.8 1200.1 L1764.2 1206.8 L1764.6 1199.7 L1765.0 1200.2 L1765.4 1207.3 L1765.8 1207.6 L1766.2 1200.0 L1766.6 1204.1 L1767.0 1198.6 L1767.4 1204.9 L1767.8 1196.4 L1768.2 1202.8 L1768.6 1202.5 L1769.0 1194.1 L1769.4 1199.2 L1769.8 1191.3 L1770.2 1198.6 L1770.6 1188.8 L1771.0 1192.0 L1771.4 1187.2 L1771.8 1192.9 L1772.2 1183.7 L1772.6 1190.0 L1773.0 1182.2 L1773.5 1187.9 L1773.9 1179.9 L1774.3 1184.6 L1774.7 1177.3 L1775.1 1181.6 L1775.5 1177.5 L1775.9 1180.2 L1776.3 1172.7 L1776.7 1178.9 L1777.1 1170.9 L1777.5 1178.7 L1777.9 1171.4 L1778.3 1177.7 L1778.7 1176.8 L1779.1 1168.8 L1779.5 1172.0 L1779.9 1166.8 L1780.3 1166.7 L1780.7 1165.2 L1781.1 1164.2 L1781.6 1171.0 L1782.0 1162.1 L1782.4 1162.1 L1782.8 1167.7 L1783.2 1163.0 L1783.6 1168.5 L1784.0 1164.3 L1784.5 1165.7 L1784.9 1168.2 L1785.3 1170.8 L1785.7 1180.3 L1786.2 1175.6 L1786.6 1184.4 L1787.0 1183.0 L1787.4 1188.6 L1787.8 1183.0 L1788.2 1190.6 L1788.6 1185.5 L1789.0 1193.8 L1789.4 1194.6 L1789.7 1189.4 L1790.1 1198.1 L1790.5 1192.1 L1790.9 1201.1 L1791.3 1195.3 L1791.7 1203.5 L1792.1 1200.8 L1792.5 1204.4 L1792.9 1196.5 L1793.3 1202.8 L1793.8 1194.5 L1794.2 1201.6 L1794.6 1192.7 L1795.0 1196.0 L1795.4 1192.0 L1795.8 1196.8 L1796.2 1188.9 L1796.5 1194.4 L1796.9 1185.2 L1797.3 1184.5 L1797.7 1186.4 L1798.1 1177.8 L1798.6 1179.2 L1799.0 1174.7 L1799.4 1161.7 L1799.9 1162.6 L1800.3 1154.2 L1800.8 1168.3 L1801.2 1171.2 L1801.6 1188.2 L1802.1 1195.2 L1802.5 1188.6 L1802.9 1191.1 L1803.3 1180.0 L1803.8 1182.8 L1804.2 1172.0 L1804.6 1176.2 L1805.0 1164.7 L1805.4 1164.2 L1805.8 1158.5 L1806.3 1142.5 L1806.7 1141.3 L1807.1 1125.4 L1807.6 1115.9 L1808.0 1110.0 L1808.4 1100.7 L1808.8 1102.6 L1809.1 1090.6 L1809.5 1085.5 L1809.9 1086.9 L1810.2 1073.4 L1810.6 1067.7 L1811.0 1066.5 L1811.5 1060.2 L1811.9 1064.7 L1812.3 1054.6 L1812.8 1056.0 L1813.2 1052.7 L1813.5 1061.5 L1813.9 1055.9 L1814.3 1060.0 L1814.7 1058.6 L1815.1 1058.6 L1815.5 1055.5 L1815.9 1054.9 L1816.3 1050.6 L1816.7 1048.4 L1817.1 1042.1 L1817.5 1035.8 L1817.8 1029.0 L1818.2 1018.2 L1818.6 1006.8 L1819.0 995.3 L1819.4 980.6 L1819.8 968.7 L1820.2 956.1 L1820.6 949.8 L1821.0 946.6 L1821.4 954.2 L1821.8 971.4 L1822.2 996.2 L1822.6 1017.7 L1823.0 1037.5 L1823.4 1050.0 L1823.8 1061.1 L1824.2 1066.1 L1824.6 1071.5 L1825.0 1073.0 L1825.4 1075.4 L1825.8 1077.5 L1826.2 1082.5 L1826.6 1096.2 L1827.0 1093.5 L1827.4 1106.4 L1827.8 1112.9 L1828.2 1110.7 L1828.6 1123.1 L1829.0 1121.9 L1829.4 1130.9 L1829.8 1127.7 L1830.2 1131.3 L1830.6 1125.8 L1831.0 1127.4 L1831.4 1121.6 L1831.8 1119.2 L1832.2 1118.5 L1832.6 1111.2 L1833.0 1107.5 L1833.3 1098.7 L1833.7 1091.3 L1834.1 1079.9 L1834.5 1069.8 L1834.9 1056.5 L1835.3 1045.5 L1835.7 1032.7 L1836.1 1023.2 L1836.5 1018.2 L1836.9 1015.4 L1837.3 1018.2 L1837.7 1028.7 L1838.1 1040.2 L1838.5 1055.7 L1838.9 1068.0 L1839.3 1079.6 L1839.7 1090.2 L1840.1 1096.1 L1840.5 1102.7 L1840.9 1105.1 L1841.3 1109.9 L1841.7 1109.5 L1842.1 1113.6 L1842.5 1113.1 L1842.9 1113.4 L1843.3 1111.4 L1843.7 1107.2 L1844.1 1106.1 L1844.5 1101.6 L1844.9 1094.2 L1845.2 1087.2 L1845.6 1075.5 L1846.0 1063.9 L1846.4 1048.7 L1846.8 1031.2 L1847.2 1017.9 L1847.6 1006.3 L1848.0 1003.2 L1848.4 1007.1 L1848.8 1021.0 L1849.2 1036.8 L1849.6 1056.4 L1850.0 1071.6 L1850.4 1086.6 L1850.8 1096.0 L1851.2 1105.4 L1851.6 1109.1 L1852.0 1115.3 L1852.4 1115.5 L1852.8 1120.0 L1853.2 1119.8 L1853.6 1128.5 L1854.0 1125.4 L1854.4 1138.2 L1854.8 1134.5 L1855.3 1147.0 L1855.7 1144.6 L1856.1 1148.6 L1856.5 1157.5 L1856.9 1159.4 L1857.3 1152.9 L1857.8 1158.2 L1858.2 1150.8 L1858.6 1157.0 L1859.0 1152.0 L1859.4 1148.2 L1859.8 1155.7 L1860.2 1149.0 L1860.6 1156.6 L1861.0 1157.7 L1861.5 1150.0 L1861.9 1158.5 L1862.3 1150.8 L1862.7 1158.3 L1863.1 1155.3 L1863.5 1159.8 L1863.9 1154.4 L1864.3 1163.0 L1864.7 1158.0 L1865.0 1159.8 L1865.4 1168.0 L1865.8 1162.8 L1866.2 1171.3 L1866.6 1172.4 L1867.0 1170.0 L1867.4 1175.4 L1867.8 1176.2 L1868.2 1169.8 L1868.6 1178.6 L1869.0 1172.2 L1869.3 1181.6 L1869.7 1176.3 L1870.1 1183.9 L1870.5 1185.3 L1870.9 1183.0 L1871.3 1184.1 L1871.7 1174.7 L1872.1 1179.6 L1872.5 1169.9 L1872.9 1173.4 L1873.3 1164.3 L1873.7 1168.1 L1874.1 1158.3 L1874.5 1160.0 L1874.9 1153.5 L1875.3 1158.4 L1875.6 1149.9 L1876.0 1153.7 L1876.4 1146.1 L1876.8 1149.7 L1877.2 1140.6 L1877.6 1146.0 L1877.9 1137.0 L1878.3 1141.9 L1878.7 1135.3 L1879.1 1136.6 L1879.5 1128.4 L1879.9 1134.1 L1880.3 1125.2 L1880.8 1131.1 L1881.2 1122.2 L1881.6 1126.9 L1882.0 1122.0 L1882.4 1116.0 L1882.8 1122.0 L1883.2 1112.4 L1883.7 1117.2 L1884.1 1108.8 L1884.5 1114.6 L1884.9 1105.7 L1885.3 1106.5 L1885.7 1100.2 L1886.0 1102.7 L1886.4 1092.6 L1886.8 1095.9 L1887.1 1092.0 L1887.5 1085.0 L1887.9 1084.4 L1888.3 1080.1 L1888.7 1075.3 L1889.0 1063.9 L1889.4 1048.4 L1889.8 1041.6 L1890.2 1092.9 L1890.5 1137.5 L1890.9 1145.3 L1891.3 1143.9 L1891.7 1131.0 L1892.1 1132.1 L1892.5 1119.2 L1892.8 1120.7 L1893.2 1107.8 L1893.6 1108.9 L1894.0 1100.0 L1894.4 1099.6 L1894.8 1097.0 L1895.2 1095.4 L1895.6 1089.7 L1895.9 1082.8 L1896.3 1074.5 L1896.7 1061.4 L1897.1 1052.6 L1897.5 1047.6 L1897.9 1056.3 L1898.3 1070.6 L1898.7 1084.1 L1899.0 1089.6 L1899.4 1094.2 L1899.8 1095.0 L1900.2 1102.6 L1900.7 1099.4 L1901.1 1109.6 L1901.5 1110.0" stroke="#5b6dda" stroke-width="3.30"/>
</g>
<g stroke="#000" stroke-width="7.3" fill="none">
<path d="M424.5 1273.5 V1235.5 M424.5 21.0 V59.0"/>
<path d="M992.8 1273.5 V1235.5 M992.8 21.0 V59.0"/>
<path d="M1561.1 1273.5 V1235.5 M1561.1 21.0 V59.0"/>
<path d="M310.7 1219.5 H348.7"/>
<path d="M310.7 885.7 H348.7"/>
<path d="M310.7 551.9 H348.7"/>
</g>
<g clip-path="url(#ax)" fill="none" stroke-linejoin="round" stroke-linecap="butt">
<path d="M310.7 125.0 L311.1 193.1 L311.4 126.7 L311.8 194.1 L312.1 151.7 L312.5 197.3 L312.9 153.9 L313.2 177.4 L313.6 198.0 L313.9 121.3 L314.3 195.6 L314.7 177.7 L315.0 190.2 L315.4 147.1 L315.7 171.8 L316.0 118.0 L316.1 137.3 L316.5 187.3 L316.8 133.4 L317.2 183.2 L317.5 114.2 L317.9 194.6 L318.3 136.1 L318.6 136.1 L319.0 189.2 L319.3 114.8 L319.7 193.9 L320.1 142.4 L320.4 190.4 L320.8 106.5 L321.1 159.4 L321.5 111.7 L321.9 158.0 L322.2 103.5 L322.6 157.2 L322.9 100.5 L322.9 155.5 L323.3 104.7 L323.7 166.3 L324.0 120.7 L324.4 146.5 L324.7 118.2 L325.1 144.3 L325.5 83.8 L325.8 142.4 L326.2 104.9 L326.5 155.7 L326.9 103.4 L327.3 128.3 L327.6 75.6 L328.0 89.0 L328.2 63.9 L328.3 117.0 L328.7 89.5 L329.1 126.5 L329.4 66.4 L329.8 133.3 L330.1 92.4 L330.5 144.1 L330.9 90.7 L331.2 138.6 L331.6 92.8 L331.9 143.1 L332.3 128.6 L332.7 98.5 L333.0 122.9 L333.4 92.1 L333.7 134.2 L334.1 95.0 L334.4 70.0 L334.5 118.1 L334.8 84.1 L335.2 135.5 L335.5 74.5 L335.9 118.6 L336.3 132.2 L336.6 98.8 L337.0 137.3 L337.3 94.4 L337.7 150.9 L338.1 85.7 L338.4 103.0 L338.8 123.6 L339.1 87.3 L339.5 124.9 L339.9 95.2 L340.2 135.2 L340.5 80.6 L340.6 108.3 L340.9 147.0 L341.3 86.1 L341.7 146.5 L342.0 95.6 L342.4 147.5 L342.7 91.5 L343.1 144.2 L343.5 83.1 L343.8 133.5 L344.2 97.4 L344.5 143.7 L344.9 75.9 L345.3 133.8 L345.6 82.6 L345.8 65.4 L346.0 112.0 L346.3 92.2 L346.7 120.8 L347.1 69.7 L347.4 121.8 L347.8 110.0 L348.1 78.5 L348.5 106.5 L348.9 61.8 L349.2 112.8 L349.6 82.7 L349.9 112.1 L350.3 96.5 L350.7 141.1 L351.0 149.3 L351.1 150.1 L351.4 143.1 L351.7 107.0 L352.1 124.3 L352.5 85.0 L352.8 111.2 L353.2 78.6 L353.5 114.8 L353.9 74.1 L354.3 126.0 L354.6 100.5 L355.0 124.6 L355.3 64.3 L355.7 109.9 L356.1 86.4 L356.4 74.5 L356.8 128.5 L357.1 109.1 L357.3 60.8 L357.5 72.4 L357.9 125.8 L358.2 69.3 L358.6 129.6 L358.9 81.5 L359.3 111.8 L359.7 76.9 L360.0 122.0 L360.4 80.2 L360.7 134.5 L361.1 92.3 L361.5 79.7 L361.8 147.6 L362.2 106.6 L362.5 142.7 L362.6 88.3 L362.9 110.1 L363.3 156.2 L363.6 124.8 L364.0 162.7 L364.3 166.2 L364.4 166.2 L364.7 161.0 L365.1 167.7 L365.4 132.8 L365.8 158.8 L366.1 121.2 L366.5 158.5 L366.9 135.6 L367.2 144.4 L367.6 149.6 L367.9 164.3 L367.9 199.8 L368.3 200.9 L368.7 217.6 L368.7 217.7 L369.0 212.6 L369.4 169.7 L369.7 144.6 L370.1 168.4 L370.5 136.4 L370.8 169.2 L371.2 111.0 L371.5 154.2 L371.9 104.0 L372.3 146.4 L372.6 95.1 L373.0 152.9 L373.3 89.8 L373.3 103.2 L373.7 98.4 L374.1 157.4 L374.4 99.0 L374.8 140.2 L375.1 141.5 L375.5 87.0 L375.9 144.4 L376.2 89.9 L376.6 114.4 L376.9 68.4 L377.3 119.9 L377.7 82.1 L378.0 128.4 L378.4 121.5 L378.7 74.5 L379.1 113.7 L379.4 45.5 L379.5 64.8 L379.8 92.7 L380.2 69.5 L380.5 94.8 L380.9 54.9 L381.3 96.3 L381.6 52.6 L382.0 88.8 L382.3 47.0 L382.7 106.2 L383.1 38.1 L383.4 100.6 L383.8 34.5 L384.1 85.5 L384.5 53.0 L384.7 28.7 L384.9 101.2 L385.2 52.2 L385.6 51.8 L385.9 100.4 L386.3 36.3 L386.7 87.9 L387.0 60.3 L387.4 97.0 L387.7 105.9 L388.1 46.3 L388.5 92.4 L388.8 83.1 L389.2 80.9 L389.5 46.1 L389.9 95.5 L390.3 57.8 L390.6 104.3 L391.0 107.3 L391.3 62.4 L391.6 34.1 L391.7 93.6 L392.1 54.6 L392.4 95.3 L392.8 97.9 L393.1 43.3 L393.5 85.2 L393.9 42.2 L394.2 85.7 L394.6 95.4 L394.9 37.5 L395.3 101.2 L395.7 45.6 L396.0 98.1 L396.4 34.9 L396.7 87.8 L397.1 42.2 L397.5 104.8 L397.8 37.7 L398.2 101.2 L398.5 41.8 L398.9 43.1 L399.3 90.6 L399.6 64.8 L400.0 99.7 L400.0 34.8 L400.3 59.9 L400.7 104.1 L401.1 50.6 L401.4 103.8 L401.8 44.1 L402.1 112.7 L402.5 123.0 L402.9 61.4 L403.2 104.8 L403.6 82.3 L403.8 54.7 L403.9 73.8 L404.3 108.4 L404.7 69.6 L405.0 131.1 L405.4 57.3 L405.7 63.4 L406.1 121.5 L406.5 87.7 L406.8 109.5 L407.2 85.2 L407.5 72.7 L407.9 135.0 L408.0 62.0 L408.3 77.0 L408.6 119.6 L409.0 75.6 L409.3 119.6 L409.7 121.3 L410.1 121.5 L410.4 97.4 L410.8 130.1 L411.1 143.4 L411.5 87.4 L411.9 136.7 L412.2 125.7 L412.6 185.3 L412.9 190.3 L413.3 241.6 L413.5 248.5 L413.7 241.9 L414.0 212.5 L414.4 176.2 L414.7 129.4 L415.1 152.4 L415.5 109.6 L415.8 147.7 L416.0 88.3 L416.2 91.9 L416.5 152.9 L416.9 84.8 L417.3 120.9 L417.6 76.8 L418.0 122.5 L418.3 74.1 L418.7 124.3 L419.1 66.9 L419.4 109.2 L419.8 57.2 L420.1 81.0 L420.5 102.9 L420.6 49.4 L420.9 112.8 L421.2 110.4 L421.6 76.8 L421.9 110.8 L422.3 68.6 L422.7 101.0 L423.0 58.3 L423.4 78.5 L423.7 119.8 L424.1 59.9 L424.5 110.0 L424.8 62.1 L425.2 119.3 L425.5 82.3 L425.9 128.0 L426.0 74.5 L426.3 98.0 L426.6 136.0 L427.0 159.2 L427.3 182.0 L427.5 186.3 L427.7 182.9 L428.1 150.3 L428.4 140.1 L428.8 100.6 L429.1 130.6 L429.5 98.7 L429.9 97.5 L430.2 142.0 L430.6 82.9 L430.9 151.3 L431.3 83.7 L431.7 88.5 L432.0 134.9 L432.4 83.8 L432.7 132.5 L433.1 100.5 L433.5 137.3 L433.8 106.8 L434.2 150.4 L434.5 91.5 L434.9 136.0 L435.3 95.2 L435.6 136.8 L436.0 111.5 L436.3 169.0 L436.7 168.9 L437.1 126.7 L437.4 144.9 L437.8 184.1 L438.1 160.9 L438.5 187.8 L438.9 173.2 L439.2 219.8 L439.6 225.8 L439.9 294.3 L440.3 352.0 L440.7 436.2 L440.8 442.2 L441.0 425.2 L441.4 330.3 L441.7 282.9 L442.1 200.1 L442.5 213.8 L442.8 148.8 L443.2 174.0 L443.5 118.2 L443.9 149.1 L444.3 97.8 L444.6 119.1 L445.0 86.0 L445.3 104.8 L445.7 82.7 L446.1 119.3 L446.4 80.5 L446.6 53.9 L446.8 114.4 L447.1 103.6 L447.5 89.0 L447.9 120.8 L448.2 91.2 L448.6 134.0 L448.9 119.5 L449.3 155.0 L449.7 122.9 L450.0 174.4 L450.4 144.8 L450.7 205.9 L451.1 184.4 L451.5 225.0 L451.8 217.0 L452.2 281.7 L452.5 298.7 L452.7 313.6 L452.9 382.4 L453.3 466.0 L453.6 549.6 L453.7 551.8 L454.0 513.1 L454.3 400.8 L454.7 340.5 L455.1 252.6 L455.4 244.6 L455.8 197.9 L456.1 192.6 L456.5 141.5 L456.9 164.3 L457.2 170.1 L457.6 113.6 L457.9 159.8 L458.3 86.8 L458.7 143.0 L459.0 142.1 L459.4 71.9 L459.5 65.4 L459.7 126.3 L460.1 91.2 L460.5 121.4 L460.8 96.2 L461.2 129.5 L461.5 91.5 L461.9 123.0 L462.3 93.1 L462.6 150.0 L463.0 112.1 L463.3 151.9 L463.7 101.2 L464.1 136.8 L464.4 100.5 L464.8 161.6 L465.0 100.0 L465.1 118.4 L465.5 152.7 L465.9 116.4 L466.2 150.1 L466.6 105.8 L466.9 169.9 L467.3 106.6 L467.7 104.5 L468.0 125.4 L468.4 164.3 L468.7 127.8 L469.1 172.1 L469.5 135.7 L469.8 159.2 L470.2 169.5 L470.5 127.2 L470.9 181.5 L471.3 145.0 L471.6 192.3 L472.0 202.7 L472.3 189.6 L472.7 247.7 L473.1 249.2 L473.4 325.9 L473.8 396.2 L474.0 414.8 L474.1 407.9 L474.5 346.3 L474.9 261.7 L475.2 240.5 L475.6 175.8 L475.9 174.8 L476.3 118.6 L476.7 159.1 L477.0 111.2 L477.4 137.0 L477.7 95.9 L478.1 121.7 L478.5 76.4 L478.8 106.1 L479.2 74.2 L479.4 47.1 L479.5 95.5 L479.9 64.2 L480.3 114.6 L480.6 61.8 L481.0 131.2 L481.3 95.3 L481.7 127.6 L482.1 105.3 L482.4 156.5 L482.8 156.3 L483.1 135.6 L483.2 111.2 L483.5 184.4 L483.9 137.7 L484.2 194.3 L484.6 167.2 L484.9 170.7 L485.3 220.5 L485.7 222.2 L486.0 273.2 L486.4 290.9 L486.7 377.4 L487.1 449.3 L487.3 463.2 L487.5 455.0 L487.8 375.0 L488.2 322.9 L488.5 247.3 L488.9 253.7 L489.3 194.1 L489.6 222.2 L490.0 174.9 L490.3 209.3 L490.7 164.2 L491.1 163.1 L491.4 204.8 L491.8 147.1 L492.1 204.8 L492.5 201.1 L492.9 166.6 L493.2 202.4 L493.6 173.9 L493.9 209.5 L494.0 150.0 L494.3 171.0 L494.7 174.2 L495.0 224.2 L495.4 165.9 L495.7 214.8 L496.1 185.8 L496.5 226.5 L496.8 199.3 L497.2 225.0 L497.5 253.7 L497.7 192.8 L497.9 216.8 L498.3 223.7 L498.6 276.1 L499.0 246.3 L499.3 260.3 L499.7 309.1 L500.1 333.6 L500.4 424.5 L500.8 507.4 L501.1 591.6 L501.2 591.6 L501.5 549.6 L501.9 427.3 L502.2 367.1 L502.6 283.9 L502.9 264.7 L503.3 233.9 L503.7 179.5 L504.0 216.3 L504.4 144.2 L504.7 184.2 L505.1 166.9 L505.5 124.6 L505.8 159.1 L506.2 112.6 L506.5 147.9 L506.9 99.1 L507.3 148.9 L507.6 99.9 L508.0 148.4 L508.3 99.1 L508.7 125.9 L509.1 98.9 L509.4 100.1 L509.8 150.3 L509.9 93.8 L510.1 122.0 L510.5 156.3 L510.9 133.7 L511.2 187.2 L511.6 178.4 L511.9 177.6 L512.3 243.9 L512.7 243.4 L513.0 311.0 L513.4 352.5 L513.7 465.7 L514.1 549.2 L514.2 552.1 L514.5 516.9 L514.8 427.3 L515.2 317.0 L515.5 299.4 L515.9 234.4 L516.3 252.7 L516.6 198.8 L517.0 211.6 L517.3 210.4 L517.7 158.6 L518.1 201.6 L518.3 138.7 L518.4 162.2 L518.8 182.1 L519.1 153.9 L519.5 191.6 L519.9 168.5 L520.2 206.1 L520.6 153.3 L520.9 201.0 L521.3 185.3 L521.7 224.9 L522.0 192.1 L522.4 223.7 L522.7 216.6 L523.1 249.0 L523.5 254.8 L523.7 273.8 L523.8 279.0 L523.9 279.0 L524.2 267.4 L524.5 257.5 L524.9 201.6 L525.3 229.1 L525.6 192.6 L526.0 223.9 L526.3 165.1 L526.7 157.2 L527.1 179.7 L527.4 135.1 L527.8 175.2 L528.1 131.8 L528.5 173.3 L528.9 129.7 L529.2 181.4 L529.6 133.5 L529.9 113.6 L530.3 155.3 L530.5 102.0 L530.7 107.8 L531.0 175.2 L531.4 130.9 L531.7 170.8 L532.1 148.4 L532.5 178.7 L532.8 167.0 L533.2 199.1 L533.5 193.0 L533.9 252.1 L534.3 254.9 L534.6 329.8 L535.0 395.8 L535.1 398.6 L535.3 379.0 L535.7 314.9 L536.1 234.0 L536.4 223.2 L536.8 158.9 L537.1 192.3 L537.5 183.3 L537.9 126.5 L538.2 142.1 L538.6 108.7 L538.9 96.6 L539.3 133.4 L539.7 101.7 L540.0 81.9 L540.4 122.7 L540.7 80.0 L541.1 133.0 L541.2 65.4 L541.5 74.0 L541.8 116.6 L542.2 89.8 L542.5 127.4 L542.9 77.1 L543.3 129.1 L543.6 130.4 L544.0 113.4 L544.3 148.7 L544.7 98.3 L545.1 162.6 L545.4 133.8 L545.8 177.4 L545.8 124.4 L546.1 141.9 L546.5 166.0 L546.9 222.5 L547.2 240.4 L547.6 308.3 L547.9 372.2 L548.2 395.8 L548.3 393.8 L548.7 332.0 L549.0 278.9 L549.4 221.0 L549.7 223.6 L550.1 208.7 L550.5 157.4 L550.8 173.8 L551.2 150.5 L551.5 178.7 L551.9 134.5 L552.3 157.9 L552.6 114.1 L553.0 164.7 L553.3 136.3 L553.4 111.2 L553.7 176.8 L554.1 131.0 L554.4 188.1 L554.8 124.8 L555.1 174.1 L555.5 139.4 L555.9 192.4 L556.2 195.6 L556.6 151.9 L556.9 183.2 L557.3 134.6 L557.7 186.8 L558.0 152.5 L558.4 190.0 L558.7 171.2 L559.1 213.1 L559.5 181.1 L559.8 227.7 L560.2 194.0 L560.5 247.2 L560.9 254.7 L561.3 307.3 L561.6 333.8 L561.7 334.7 L562.0 317.1 L562.3 285.0 L562.7 229.7 L563.1 237.1 L563.4 200.6 L563.8 224.7 L564.1 207.0 L564.5 183.6 L564.9 200.1 L565.2 155.9 L565.6 196.8 L565.9 217.3 L566.3 165.5 L566.7 214.1 L567.0 149.3 L567.4 211.6 L567.7 161.5 L568.0 140.0 L568.1 216.1 L568.5 152.3 L568.8 209.4 L569.2 141.4 L569.5 188.4 L569.9 145.0 L570.3 160.3 L570.6 201.3 L571.0 133.7 L571.3 203.8 L571.7 145.0 L571.8 133.3 L572.1 211.5 L572.4 165.3 L572.8 165.2 L573.1 195.8 L573.5 151.5 L573.9 183.2 L574.2 234.2 L574.6 247.8 L574.9 294.8 L575.1 299.0 L575.3 292.0 L575.7 234.0 L576.0 231.7 L576.4 163.8 L576.7 165.3 L577.1 204.5 L577.5 140.8 L577.8 141.5 L578.2 182.8 L578.5 125.7 L578.9 167.7 L579.3 130.0 L579.6 138.7 L580.0 185.0 L580.3 134.8 L580.7 168.8 L581.1 128.0 L581.4 166.4 L581.8 105.4 L582.1 149.8 L582.5 108.0 L582.9 155.0 L583.2 98.8 L583.6 158.4 L583.9 101.3 L584.3 142.3 L584.7 144.3 L585.0 110.4 L585.4 148.7 L585.7 120.1 L586.1 87.1 L586.3 85.2 L586.5 153.4 L586.8 92.4 L587.2 149.5 L587.5 91.7 L587.9 86.6 L588.3 168.7 L588.6 96.5 L589.0 89.9 L589.3 156.8 L589.7 108.1 L590.1 160.1 L590.4 109.6 L590.8 150.7 L591.1 92.7 L591.5 143.1 L591.9 99.6 L592.2 165.9 L592.6 104.2 L592.9 147.4 L593.3 118.9 L593.7 148.9 L594.0 125.6 L594.4 174.3 L594.7 152.1 L595.1 195.2 L595.5 213.1 L595.8 255.6 L596.0 261.0 L596.2 256.1 L596.5 211.5 L596.9 208.4 L597.3 153.7 L597.6 188.5 L598.0 120.6 L598.3 170.9 L598.7 113.2 L599.1 174.8 L599.2 98.2 L599.4 113.6 L599.8 149.6 L600.1 106.4 L600.5 167.6 L600.9 116.3 L601.2 165.8 L601.6 163.3 L601.9 108.9 L602.3 166.7 L602.7 99.6 L603.0 163.6 L603.4 107.4 L603.7 173.9 L604.1 120.4 L604.5 155.6 L604.8 120.2 L605.2 181.9 L605.5 110.6 L605.9 185.6 L606.3 195.8 L606.6 131.7 L607.0 191.5 L607.3 183.4 L607.7 259.3 L608.1 299.1 L608.4 338.2 L608.4 338.2 L608.8 299.0 L609.1 216.0 L609.5 218.1 L609.9 149.2 L610.2 148.9 L610.6 169.7 L610.9 121.3 L611.3 166.3 L611.7 131.9 L612.0 180.4 L612.4 140.5 L612.7 166.0 L613.1 113.0 L613.5 165.6 L613.7 108.8 L613.8 173.4 L614.2 130.5 L614.5 179.6 L614.9 121.2 L615.3 164.3 L615.6 118.1 L616.0 137.2 L616.3 190.1 L616.7 130.0 L617.1 192.5 L617.4 118.4 L617.8 170.9 L618.1 140.2 L618.5 177.2 L618.9 135.5 L619.2 184.8 L619.6 145.9 L619.9 187.2 L620.3 167.4 L620.7 217.6 L621.0 214.6 L621.4 320.5 L621.7 391.8 L622.1 462.6 L622.5 403.1 L622.8 287.6 L623.2 249.6 L623.5 176.0 L623.9 202.1 L624.3 134.8 L624.6 184.6 L625.0 123.4 L625.3 182.4 L625.7 140.7 L626.1 161.7 L626.4 128.2 L626.8 178.9 L627.1 108.6 L627.5 155.8 L627.9 122.0 L628.2 170.1 L628.6 114.6 L628.9 186.9 L629.0 103.4 L629.3 103.6 L629.7 182.0 L630.0 113.6 L630.4 156.7 L630.7 124.7 L631.1 163.1 L631.5 133.3 L631.8 163.5 L632.2 185.8 L632.5 143.4 L632.9 190.7 L633.3 155.9 L633.6 215.5 L634.0 200.4 L634.3 261.4 L634.7 315.5 L635.1 462.3 L635.4 533.7 L635.4 533.7 L635.8 441.6 L636.1 330.4 L636.5 256.4 L636.9 183.3 L637.2 212.0 L637.6 187.3 L637.9 142.1 L638.3 177.4 L638.7 182.9 L639.0 106.4 L639.4 181.6 L639.7 116.5 L640.1 174.9 L640.5 158.4 L640.8 121.0 L641.2 167.3 L641.5 119.0 L641.9 122.6 L642.3 150.3 L642.6 100.3 L643.0 140.4 L643.3 118.5 L643.7 141.6 L644.1 108.9 L644.4 159.4 L644.8 86.8 L645.1 153.3 L645.5 105.0 L645.9 160.8 L646.2 105.2 L646.6 151.1 L646.9 102.5 L647.3 135.9 L647.7 114.6 L648.0 152.5 L648.4 141.1 L648.7 103.3 L649.1 149.7 L649.5 90.1 L649.8 133.2 L650.2 166.0 L650.5 95.3 L650.9 145.5 L651.3 103.3 L651.6 154.2 L652.0 105.8 L652.3 151.7 L652.7 136.8 L653.1 110.5 L653.4 86.6 L653.4 164.3 L653.8 93.5 L654.1 151.4 L654.5 126.2 L654.9 178.2 L655.2 132.8 L655.6 196.3 L655.9 175.9 L656.3 229.6 L656.7 270.2 L657.0 394.6 L657.4 565.2 L657.6 602.8 L657.7 585.0 L658.1 451.8 L658.5 332.7 L658.8 204.4 L659.2 218.4 L659.5 143.1 L659.9 161.4 L660.3 172.1 L660.6 121.2 L661.0 159.2 L661.3 137.4 L661.7 103.7 L661.8 79.8 L662.1 150.2 L662.4 108.4 L662.8 152.5 L663.1 115.1 L663.5 105.5 L663.9 155.9 L664.2 103.9 L664.6 163.7 L664.9 120.2 L665.3 157.6 L665.7 135.4 L666.0 169.4 L666.4 145.8 L666.7 194.3 L667.1 153.7 L667.5 221.1 L667.8 175.4 L668.2 262.3 L668.5 237.8 L668.9 343.4 L669.3 437.7 L669.6 620.3 L669.9 686.8 L670.0 682.8 L670.3 537.0 L670.7 418.7 L671.1 289.6 L671.4 232.9 L671.8 253.8 L672.1 213.3 L672.5 241.1 L672.9 190.5 L673.2 247.6 L673.3 165.3 L673.6 241.1 L673.9 169.1 L674.3 218.7 L674.7 173.9 L675.0 238.0 L675.4 164.5 L675.7 236.6 L676.1 164.2 L676.5 224.9 L676.8 174.2 L677.2 192.0 L677.5 237.7 L677.9 194.2 L678.3 228.0 L678.6 175.2 L678.6 199.8 L679.0 234.9 L679.3 180.0 L679.7 256.2 L680.1 195.5 L680.4 262.4 L680.8 216.9 L681.1 299.0 L681.5 308.8 L681.9 415.5 L682.2 543.6 L682.6 650.6 L682.6 650.6 L682.9 568.8 L683.3 403.9 L683.7 321.0 L684.0 281.5 L684.4 258.0 L684.7 228.1 L685.1 147.8 L685.5 140.9 L685.8 139.5 L686.2 173.3 L686.5 116.7 L686.9 191.6 L687.3 176.2 L687.6 119.4 L688.0 169.3 L688.3 113.8 L688.7 169.7 L689.1 159.6 L689.4 106.8 L689.8 172.0 L690.1 115.3 L690.5 147.3 L690.9 86.3 L691.2 167.7 L691.3 85.1 L691.6 94.6 L691.9 148.3 L692.3 122.0 L692.7 191.8 L693.0 223.1 L693.4 202.2 L693.7 282.3 L694.1 425.8 L694.5 586.9 L694.8 689.4 L694.8 689.4 L695.2 557.1 L695.5 388.3 L695.9 312.3 L696.3 197.1 L696.6 214.5 L697.0 169.6 L697.3 183.8 L697.7 134.2 L698.1 187.1 L698.4 136.7 L698.8 166.2 L699.1 133.5 L699.5 186.2 L699.9 133.8 L700.2 168.6 L700.6 133.9 L700.9 167.3 L701.3 133.9 L701.7 188.2 L702.0 118.9 L702.3 112.6 L702.4 167.8 L702.7 139.3 L703.1 180.1 L703.5 135.6 L703.8 198.3 L704.2 135.8 L704.5 194.9 L704.9 138.5 L705.3 181.6 L705.6 130.5 L706.0 186.0 L706.3 151.9 L706.7 139.7 L707.1 203.1 L707.4 147.0 L707.8 206.0 L708.1 143.5 L708.4 121.0 L708.5 178.5 L708.9 123.0 L709.2 178.4 L709.6 125.5 L709.9 207.2 L710.3 143.7 L710.7 184.0 L711.0 154.8 L711.4 145.5 L711.7 186.2 L712.1 154.4 L712.5 195.5 L712.8 133.5 L713.2 128.2 L713.5 154.6 L713.9 192.1 L714.3 134.5 L714.6 191.6 L715.0 153.2 L715.3 221.2 L715.7 169.0 L716.1 238.6 L716.4 203.0 L716.8 202.5 L717.1 308.6 L717.5 340.9 L717.9 482.5 L718.2 679.9 L718.6 821.9 L718.6 821.9 L718.9 695.9 L719.3 498.3 L719.7 352.0 L720.0 310.0 L720.4 221.6 L720.7 237.4 L721.1 166.6 L721.5 215.9 L721.8 162.7 L722.2 221.2 L722.5 137.5 L722.9 214.1 L723.3 147.1 L723.6 190.3 L724.0 136.9 L724.3 198.4 L724.7 127.5 L725.1 180.4 L725.4 147.4 L725.8 193.9 L726.0 124.8 L726.1 141.4 L726.5 176.3 L726.9 149.6 L727.2 198.2 L727.6 156.6 L727.9 194.3 L728.3 129.0 L728.7 149.2 L729.0 211.3 L729.4 145.0 L729.7 204.8 L730.1 176.0 L730.5 243.8 L730.8 231.6 L731.2 325.4 L731.5 409.5 L731.9 585.2 L732.2 657.2 L732.3 656.1 L732.6 519.1 L733.0 395.7 L733.3 258.7 L733.7 266.1 L734.1 191.1 L734.4 197.7 L734.8 158.2 L735.1 198.7 L735.5 124.8 L735.9 171.4 L735.9 117.9 L736.2 146.9 L736.6 196.9 L736.9 143.6 L737.3 193.5 L737.7 129.7 L738.0 127.2 L738.4 200.7 L738.7 128.6 L739.1 194.5 L739.5 138.9 L739.8 194.5 L740.2 168.2 L740.5 218.5 L740.9 161.3 L741.3 233.5 L741.6 200.8 L742.0 257.9 L742.3 259.5 L742.7 374.8 L743.1 472.7 L743.4 716.1 L743.8 858.7 L743.8 858.7 L744.1 727.7 L744.5 520.9 L744.9 356.3 L745.2 327.4 L745.6 243.0 L745.9 247.7 L746.3 227.4 L746.7 187.2 L747.0 241.4 L747.4 174.4 L747.7 210.8 L748.1 151.1 L748.5 215.0 L748.8 155.9 L748.9 147.7 L749.2 220.2 L749.5 148.4 L749.9 214.4 L750.3 159.4 L750.6 150.6 L751.0 199.2 L751.3 167.2 L751.7 219.1 L752.1 151.0 L752.4 219.8 L752.8 211.9 L753.1 166.2 L753.5 155.8 L753.9 210.1 L754.2 175.6 L754.6 230.7 L754.9 210.9 L755.3 286.6 L755.7 295.7 L756.0 425.0 L756.4 594.8 L756.7 788.9 L756.9 816.9 L757.1 769.6 L757.5 582.6 L757.8 386.1 L758.2 324.8 L758.5 246.8 L758.9 242.5 L759.3 184.2 L759.6 218.0 L760.0 170.7 L760.3 214.0 L760.7 155.8 L761.1 197.2 L761.4 140.1 L761.8 186.8 L762.1 141.3 L762.5 202.9 L762.9 140.5 L763.2 203.5 L763.6 137.0 L763.9 193.1 L764.3 123.7 L764.7 188.3 L764.9 112.6 L765.0 132.6 L765.4 174.0 L765.7 130.8 L766.1 180.0 L766.5 151.1 L766.8 197.0 L767.2 132.7 L767.5 186.6 L767.9 149.8 L768.3 177.5 L768.6 131.0 L769.0 192.1 L769.3 138.2 L769.7 208.0 L770.1 158.5 L770.4 206.2 L770.8 138.6 L771.1 219.7 L771.5 155.5 L771.9 211.6 L772.2 175.1 L772.6 224.4 L772.9 188.8 L773.3 263.9 L773.7 266.5 L774.0 371.7 L774.4 458.8 L774.7 638.3 L775.0 693.6 L775.1 685.7 L775.5 534.1 L775.8 421.6 L776.2 301.6 L776.5 246.5 L776.9 263.5 L777.3 216.2 L777.6 257.0 L778.0 197.5 L778.3 198.1 L778.7 243.8 L779.1 189.3 L779.4 173.8 L779.8 242.6 L780.1 190.1 L780.2 163.0 L780.5 236.9 L780.9 163.3 L781.2 225.4 L781.6 175.0 L781.9 225.7 L782.3 153.6 L782.7 211.4 L783.0 180.8 L783.4 214.3 L783.7 171.0 L784.1 234.2 L784.5 182.3 L784.8 231.0 L785.2 167.9 L785.5 228.6 L785.9 215.3 L786.3 266.3 L786.6 305.7 L787.0 417.5 L787.3 519.4 L787.5 534.8 L787.7 511.6 L788.1 397.4 L788.4 293.4 L788.8 257.2 L789.1 187.7 L789.5 214.9 L789.9 167.5 L790.2 196.9 L790.6 154.1 L790.9 148.9 L791.3 181.5 L791.7 177.0 L792.0 119.1 L792.4 180.5 L792.7 113.1 L793.1 180.4 L793.5 116.2 L793.6 105.0 L793.8 170.9 L794.2 122.2 L794.5 175.3 L794.9 113.2 L795.3 133.4 L795.6 132.0 L796.0 188.1 L796.3 136.4 L796.7 195.4 L797.1 130.8 L797.4 201.1 L797.8 157.3 L798.1 228.5 L798.5 185.3 L798.9 273.0 L799.2 324.3 L799.6 492.3 L799.9 603.2 L800.0 604.5 L800.3 529.7 L800.7 394.3 L801.0 307.9 L801.4 207.9 L801.7 220.5 L802.1 154.4 L802.5 183.5 L802.8 123.9 L803.2 172.6 L803.5 126.4 L803.9 178.8 L804.3 139.5 L804.6 178.3 L805.0 135.0 L805.3 165.3 L805.7 172.5 L806.1 113.7 L806.1 101.1 L806.4 180.8 L806.8 178.8 L807.1 134.4 L807.5 158.1 L807.9 135.7 L808.2 171.3 L808.6 128.5 L808.9 186.9 L809.3 123.5 L809.7 118.3 L810.0 191.7 L810.4 140.2 L810.7 221.3 L811.1 195.4 L811.5 277.1 L811.8 323.6 L812.2 500.9 L812.5 666.9 L812.7 692.9 L812.9 650.4 L813.3 488.5 L813.6 313.7 L814.0 263.7 L814.3 191.9 L814.7 175.7 L815.1 209.3 L815.4 139.3 L815.8 179.7 L816.1 131.5 L816.5 167.8 L816.9 111.2 L817.2 152.0 L817.6 123.5 L817.9 143.1 L818.3 107.0 L818.7 161.0 L819.0 94.6 L819.4 139.4 L819.7 114.2 L820.1 117.3 L820.5 166.1 L820.8 137.9 L821.2 88.1 L821.5 85.2 L821.9 138.1 L822.3 140.4 L822.6 108.9 L823.0 138.8 L823.3 96.4 L823.7 79.8 L824.1 138.3 L824.4 98.6 L824.8 100.7 L825.1 157.1 L825.5 148.2 L825.9 88.8 L826.2 151.9 L826.6 88.9 L826.9 153.5 L827.3 110.6 L827.7 92.9 L828.0 152.9 L828.4 100.5 L828.7 169.5 L829.1 122.3 L829.5 177.0 L829.8 127.2 L830.2 175.3 L830.5 121.0 L830.9 185.5 L831.3 116.5 L831.6 189.9 L832.0 117.3 L832.3 164.1 L832.7 125.0 L833.1 120.5 L833.4 188.8 L833.8 143.8 L834.1 183.2 L834.5 139.5 L834.9 202.7 L835.2 172.8 L835.6 259.5 L835.9 251.9 L836.3 347.3 L836.7 486.7 L837.0 605.4 L837.1 605.5 L837.4 554.7 L837.7 395.5 L838.1 332.6 L838.5 233.6 L838.8 241.6 L839.2 174.1 L839.5 225.3 L839.9 155.2 L840.3 200.3 L840.6 196.8 L841.0 159.7 L841.3 214.4 L841.7 150.5 L842.1 171.7 L842.4 192.6 L842.8 147.9 L843.1 212.3 L843.5 145.4 L843.9 209.7 L844.2 220.6 L844.6 209.1 L844.9 209.6 L845.3 173.9 L845.7 231.0 L846.0 189.2 L846.4 243.1 L846.7 186.1 L847.1 255.1 L847.5 213.8 L847.8 270.2 L848.2 249.5 L848.5 303.7 L848.9 316.4 L849.3 381.4 L849.6 412.3 L850.0 483.6 L850.3 529.6 L850.7 581.6 L851.0 590.0 L851.1 590.0 L851.4 567.9 L851.8 521.7 L852.1 471.4 L852.5 412.8 L852.9 339.0 L853.2 331.7 L853.6 274.6 L853.9 294.7 L854.3 243.4 L854.7 235.8 L855.0 274.7 L855.4 222.1 L855.7 264.2 L856.1 215.0 L856.5 236.8 L856.8 247.4 L857.2 180.5 L857.5 230.6 L857.9 229.3 L858.3 188.8 L858.6 256.1 L859.0 234.9 L859.3 194.5 L859.5 182.8 L859.7 241.2 L860.1 210.2 L860.4 237.4 L860.8 192.7 L861.1 252.5 L861.5 205.9 L861.9 257.9 L862.2 248.9 L862.6 308.1 L862.9 281.0 L863.3 334.1 L863.7 332.8 L864.0 411.6 L864.4 445.2 L864.7 522.8 L865.1 606.3 L865.5 664.0 L865.8 676.1 L865.8 676.1 L866.2 661.2 L866.5 594.3 L866.9 528.6 L867.3 432.1 L867.6 409.8 L868.0 326.3 L868.3 319.5 L868.7 259.8 L869.1 270.9 L869.4 205.8 L869.8 251.2 L870.1 194.2 L870.5 220.3 L870.9 187.6 L871.2 229.6 L871.6 209.0 L871.8 148.6 L871.9 174.8 L872.3 150.5 L872.7 202.2 L873.0 173.2 L873.4 209.2 L873.7 181.2 L874.1 221.2 L874.5 238.0 L874.8 195.4 L875.2 251.5 L875.5 265.5 L875.9 258.3 L876.3 324.6 L876.6 351.0 L877.0 429.5 L877.3 490.1 L877.7 566.7 L878.1 613.3 L878.3 614.3 L878.4 614.2 L878.8 582.4 L879.1 521.3 L879.5 429.0 L879.9 397.6 L880.2 304.6 L880.6 300.2 L880.9 227.7 L881.3 246.8 L881.7 184.4 L882.0 219.0 L882.4 148.5 L882.7 181.0 L883.1 153.1 L883.2 121.1 L883.5 195.9 L883.8 131.7 L884.2 177.8 L884.5 115.9 L884.9 184.2 L885.3 139.1 L885.6 158.3 L886.0 136.3 L886.3 181.0 L886.7 117.0 L887.1 174.0 L887.4 125.3 L887.8 119.2 L888.1 164.4 L888.5 126.7 L888.9 162.9 L889.2 120.0 L889.6 171.8 L889.9 119.7 L890.3 196.1 L890.7 126.4 L891.0 180.6 L891.4 156.1 L891.7 213.1 L892.1 167.9 L892.5 200.5 L892.8 160.5 L893.2 218.8 L893.5 184.6 L893.9 236.7 L894.3 202.2 L894.6 266.4 L895.0 258.1 L895.3 278.2 L895.7 331.5 L896.1 349.3 L896.4 416.4 L896.8 459.1 L897.1 496.1 L897.4 499.3 L897.5 499.3 L897.9 480.5 L898.2 434.4 L898.6 378.5 L898.9 356.2 L899.3 294.9 L899.7 302.5 L900.0 255.3 L900.4 284.7 L900.7 216.1 L901.1 263.4 L901.5 197.3 L901.8 267.1 L902.2 193.5 L902.5 242.0 L902.9 188.9 L903.1 183.4 L903.3 237.2 L903.6 185.7 L904.0 230.7 L904.3 203.3 L904.7 259.6 L905.1 256.2 L905.4 206.5 L905.8 242.9 L906.1 235.8 L906.5 207.0 L906.9 251.7 L907.2 251.9 L907.6 211.2 L907.9 268.2 L908.3 268.7 L908.7 247.2 L909.0 265.2 L909.4 272.2 L909.7 339.6 L910.1 324.4 L910.5 369.9 L910.8 434.5 L911.2 465.6 L911.5 531.2 L911.9 567.9 L912.2 572.9 L912.3 572.9 L912.6 558.5 L913.0 505.5 L913.3 443.3 L913.7 421.3 L914.1 348.1 L914.4 339.6 L914.8 293.1 L915.1 301.3 L915.5 265.4 L915.9 287.3 L916.2 241.3 L916.6 259.6 L916.9 216.9 L917.2 205.8 L917.3 275.5 L917.7 230.2 L918.0 207.5 L918.4 274.5 L918.7 227.2 L919.1 217.4 L919.5 272.4 L919.8 225.9 L920.2 256.0 L920.5 231.2 L920.9 266.4 L921.3 230.5 L921.6 293.1 L922.0 233.3 L922.3 291.4 L922.7 274.6 L923.1 334.4 L923.4 312.3 L923.8 369.6 L924.1 426.3 L924.5 484.7 L924.9 528.8 L925.2 580.8 L925.6 591.2 L925.6 591.2 L925.9 584.5 L926.3 532.9 L926.7 487.0 L927.0 412.9 L927.4 388.7 L927.7 332.2 L928.1 324.2 L928.5 259.9 L928.8 307.9 L929.2 231.4 L929.5 229.3 L929.9 275.7 L930.3 273.7 L930.6 227.2 L931.0 256.7 L931.3 192.6 L931.3 192.7 L931.7 259.2 L932.1 199.8 L932.4 201.7 L932.8 266.8 L933.1 199.9 L933.5 249.8 L933.9 211.6 L934.2 235.2 L934.6 273.0 L934.9 250.8 L935.3 296.7 L935.7 266.4 L936.0 328.0 L936.4 335.2 L936.7 412.8 L937.1 459.9 L937.5 525.3 L937.8 580.1 L938.2 638.2 L938.5 646.9 L938.5 646.9 L938.9 628.6 L939.3 563.2 L939.6 510.7 L940.0 443.4 L940.3 358.8 L940.7 365.9 L941.1 277.5 L941.4 313.6 L941.8 228.3 L942.1 253.2 L942.5 214.5 L942.9 243.7 L943.2 245.5 L943.6 191.7 L943.9 216.0 L944.3 158.7 L944.7 175.1 L945.0 215.0 L945.4 179.6 L945.7 177.8 L946.1 211.6 L946.5 174.8 L946.8 219.0 L947.2 219.6 L947.5 173.4 L947.9 230.1 L948.3 162.6 L948.6 233.3 L949.0 186.2 L949.3 231.3 L949.7 156.7 L950.1 213.6 L950.4 171.6 L950.8 215.6 L951.1 161.8 L951.1 178.4 L951.5 246.8 L951.9 195.9 L952.2 225.3 L952.6 191.4 L952.9 230.7 L953.3 175.4 L953.7 253.8 L954.0 202.2 L954.4 232.9 L954.7 235.8 L955.1 191.0 L955.5 264.7 L955.8 231.4 L956.2 255.6 L956.5 223.6 L956.9 246.0 L957.3 253.3 L957.6 316.5 L958.0 340.5 L958.3 327.0 L958.7 393.6 L959.1 418.1 L959.4 485.0 L959.8 525.2 L960.1 553.0 L960.3 553.0 L960.5 553.0 L960.9 519.8 L961.2 469.0 L961.6 421.8 L961.9 400.1 L962.3 326.6 L962.7 337.7 L963.0 317.4 L963.4 273.0 L963.7 300.1 L964.1 258.4 L964.5 245.8 L964.8 273.5 L965.2 296.7 L965.5 231.0 L965.6 221.5 L965.9 287.6 L966.3 226.3 L966.6 268.7 L967.0 219.5 L967.3 232.0 L967.7 277.2 L968.1 251.0 L968.4 273.1 L968.8 286.6 L969.1 259.1 L969.5 305.1 L969.9 322.9 L970.2 335.5 L970.6 323.6 L970.9 379.5 L971.3 401.2 L971.7 445.8 L972.0 514.7 L972.4 554.9 L972.7 570.1 L972.8 570.1 L973.1 567.2 L973.5 525.2 L973.8 467.2 L974.2 426.6 L974.5 357.2 L974.9 356.0 L975.3 304.9 L975.6 325.1 L976.0 271.1 L976.3 275.2 L976.7 230.7 L977.1 259.2 L977.4 230.3 L977.8 263.4 L978.1 200.6 L978.5 242.7 L978.9 215.8 L979.2 235.5 L979.6 196.2 L979.8 185.9 L979.9 249.2 L980.3 192.9 L980.7 262.3 L981.0 250.5 L981.4 204.3 L981.7 278.1 L982.1 226.2 L982.5 290.3 L982.8 232.7 L983.2 292.4 L983.5 287.5 L983.9 346.8 L984.3 339.7 L984.6 392.3 L985.0 430.8 L985.3 500.5 L985.7 543.8 L986.1 585.6 L986.3 585.6 L986.4 585.6 L986.8 562.2 L987.1 508.9 L987.5 462.2 L987.9 385.7 L988.2 384.3 L988.6 320.7 L988.9 333.1 L989.3 263.6 L989.7 282.1 L990.0 243.6 L990.4 290.2 L990.7 264.8 L991.1 220.4 L991.5 278.5 L991.8 254.2 L992.1 200.1 L992.2 230.0 L992.5 272.2 L992.9 228.3 L993.3 252.2 L993.6 202.0 L994.0 256.5 L994.3 227.5 L994.7 264.1 L995.1 229.4 L995.4 283.0 L995.8 257.3 L996.1 320.5 L996.5 330.7 L996.9 337.5 L997.2 403.4 L997.6 446.1 L997.9 515.0 L998.3 564.7 L998.7 596.3 L998.8 596.3 L999.0 596.1 L999.4 553.0 L999.7 501.4 L1000.1 420.8 L1000.5 396.1 L1000.8 329.4 L1001.2 317.7 L1001.5 254.2 L1001.9 278.1 L1002.3 211.5 L1002.6 249.4 L1003.0 202.9 L1003.3 241.3 L1003.7 181.4 L1004.1 217.2 L1004.4 173.5 L1004.8 194.6 L1005.1 162.3 L1005.5 161.5 L1005.9 198.7 L1006.2 140.4 L1006.6 196.9 L1006.9 123.6 L1006.9 136.6 L1007.3 189.9 L1007.7 150.8 L1008.0 195.3 L1008.4 138.7 L1008.7 203.3 L1009.1 148.8 L1009.5 204.4 L1009.8 157.6 L1010.2 215.3 L1010.5 133.0 L1010.7 133.5 L1010.9 154.9 L1011.3 186.5 L1011.6 146.0 L1012.0 214.7 L1012.3 148.1 L1012.7 212.6 L1013.1 154.1 L1013.4 198.0 L1013.8 157.2 L1014.1 231.5 L1014.5 180.3 L1014.9 216.9 L1015.2 164.0 L1015.6 235.5 L1015.9 185.7 L1016.3 226.1 L1016.7 214.4 L1017.0 264.9 L1017.4 216.9 L1017.7 267.7 L1018.1 257.4 L1018.5 305.8 L1018.8 313.6 L1019.2 380.5 L1019.5 403.3 L1019.9 459.7 L1020.3 491.5 L1020.6 500.9 L1020.6 500.9 L1021.0 490.1 L1021.3 447.9 L1021.7 415.7 L1022.1 351.4 L1022.4 350.7 L1022.8 292.9 L1023.1 303.6 L1023.5 255.4 L1023.9 276.9 L1024.2 234.7 L1024.6 258.6 L1024.9 217.7 L1025.3 261.0 L1025.7 208.2 L1026.0 269.6 L1026.4 220.0 L1026.7 222.1 L1027.1 265.0 L1027.5 222.5 L1027.5 191.5 L1027.8 255.3 L1028.2 222.9 L1028.5 223.8 L1028.9 250.7 L1029.3 196.1 L1029.6 271.8 L1030.0 204.8 L1030.3 260.3 L1030.7 274.1 L1031.1 226.4 L1031.4 283.6 L1031.8 257.0 L1032.1 282.8 L1032.5 339.1 L1032.9 345.7 L1033.2 409.3 L1033.6 443.5 L1033.9 514.3 L1034.3 552.7 L1034.7 567.3 L1034.7 567.3 L1035.0 561.9 L1035.4 520.8 L1035.7 460.2 L1036.1 426.2 L1036.5 359.6 L1036.8 358.7 L1037.2 287.7 L1037.5 308.6 L1037.9 239.4 L1038.3 226.2 L1038.6 257.3 L1039.0 225.8 L1039.3 249.4 L1039.7 207.7 L1040.1 262.6 L1040.4 191.3 L1040.5 183.6 L1040.8 242.9 L1041.1 194.3 L1041.5 253.4 L1041.9 201.7 L1042.2 248.7 L1042.6 224.6 L1042.9 260.7 L1043.3 214.3 L1043.7 271.2 L1044.0 238.2 L1044.4 301.5 L1044.7 266.2 L1045.1 324.6 L1045.5 334.7 L1045.8 406.6 L1046.2 418.7 L1046.5 482.8 L1046.9 554.7 L1047.3 601.1 L1047.6 608.6 L1047.6 608.6 L1048.0 596.3 L1048.3 541.1 L1048.7 490.8 L1049.1 414.0 L1049.4 397.4 L1049.8 327.7 L1050.1 308.5 L1050.5 310.0 L1050.9 258.9 L1051.2 296.2 L1051.6 235.4 L1051.9 288.3 L1052.3 215.8 L1052.7 280.4 L1053.0 215.2 L1053.4 227.6 L1053.7 271.5 L1054.1 215.7 L1054.2 203.7 L1054.5 270.8 L1054.8 230.3 L1055.2 277.5 L1055.5 233.4 L1055.9 276.9 L1056.3 234.7 L1056.6 299.2 L1057.0 251.0 L1057.3 311.7 L1057.7 285.7 L1058.1 358.9 L1058.4 344.2 L1058.8 389.7 L1059.1 459.9 L1059.5 499.8 L1059.9 583.9 L1060.2 630.6 L1060.6 647.6 L1060.6 647.6 L1060.9 636.9 L1061.3 578.0 L1061.7 522.4 L1062.0 450.7 L1062.4 417.9 L1062.7 350.5 L1063.1 340.6 L1063.5 298.5 L1063.8 311.7 L1064.2 254.1 L1064.5 291.8 L1064.9 218.0 L1065.3 262.7 L1065.6 212.6 L1066.0 205.0 L1066.3 270.0 L1066.7 212.8 L1067.1 254.0 L1067.4 195.9 L1067.8 244.7 L1068.1 198.7 L1068.5 230.9 L1068.9 228.6 L1069.2 189.5 L1069.6 236.9 L1069.9 171.7 L1069.9 185.2 L1070.3 234.4 L1070.7 197.9 L1071.0 237.1 L1071.4 190.7 L1071.7 258.2 L1072.1 205.4 L1072.5 249.4 L1072.8 217.9 L1073.2 246.1 L1073.5 216.4 L1073.9 262.8 L1074.3 203.9 L1074.6 282.2 L1075.0 207.8 L1075.3 222.2 L1075.6 210.6 L1075.7 274.0 L1076.1 283.6 L1076.4 289.0 L1076.8 233.6 L1077.1 294.1 L1077.5 245.6 L1077.9 276.0 L1078.2 239.6 L1078.6 286.8 L1078.9 247.8 L1079.3 288.4 L1079.7 247.1 L1080.0 238.6 L1080.4 299.2 L1080.7 264.2 L1081.1 266.8 L1081.5 312.0 L1081.8 299.9 L1082.2 316.3 L1082.5 355.9 L1082.9 354.2 L1083.3 412.7 L1083.6 442.4 L1084.0 494.8 L1084.3 526.4 L1084.7 547.3 L1084.8 547.3 L1085.1 543.9 L1085.4 511.9 L1085.8 478.7 L1086.1 425.6 L1086.5 416.6 L1086.9 349.9 L1087.2 366.4 L1087.6 318.7 L1087.9 337.4 L1088.3 300.8 L1088.7 313.0 L1089.0 274.9 L1089.4 324.8 L1089.7 273.2 L1090.1 279.9 L1090.5 295.5 L1090.8 248.5 L1091.2 322.4 L1091.5 314.1 L1091.9 262.3 L1092.1 244.5 L1092.3 305.7 L1092.6 265.0 L1093.0 298.8 L1093.3 263.2 L1093.7 295.6 L1094.1 257.8 L1094.4 313.1 L1094.8 268.8 L1095.1 330.3 L1095.5 289.6 L1095.9 290.4 L1096.2 349.8 L1096.6 330.8 L1096.9 397.3 L1097.3 422.5 L1097.7 435.2 L1098.0 499.3 L1098.4 535.0 L1098.7 562.0 L1098.9 562.0 L1099.1 562.0 L1099.5 528.7 L1099.8 489.9 L1100.2 433.0 L1100.5 409.3 L1100.9 351.9 L1101.3 326.2 L1101.6 338.8 L1102.0 285.6 L1102.3 306.1 L1102.7 241.6 L1103.1 290.1 L1103.4 230.8 L1103.8 266.0 L1104.1 219.2 L1104.3 209.1 L1104.5 260.0 L1104.9 233.1 L1105.2 274.6 L1105.6 235.0 L1105.9 213.2 L1106.3 256.1 L1106.7 210.5 L1107.0 231.7 L1107.4 284.6 L1107.7 217.8 L1108.1 217.4 L1108.5 266.1 L1108.8 293.7 L1109.2 241.6 L1109.5 290.7 L1109.9 248.4 L1110.3 301.7 L1110.4 221.3 L1110.6 289.6 L1111.0 231.2 L1111.3 300.0 L1111.7 242.1 L1112.1 291.4 L1112.4 243.4 L1112.8 301.5 L1113.1 264.2 L1113.5 320.6 L1113.9 286.6 L1114.2 330.2 L1114.6 297.8 L1114.9 363.4 L1115.3 341.2 L1115.7 404.7 L1116.0 427.4 L1116.4 499.9 L1116.7 547.7 L1117.1 607.4 L1117.5 630.5 L1117.6 630.5 L1117.8 630.4 L1118.2 596.7 L1118.5 543.1 L1118.9 474.9 L1119.3 441.8 L1119.6 379.6 L1120.0 372.3 L1120.3 318.5 L1120.7 331.5 L1121.1 275.2 L1121.4 302.7 L1121.8 265.3 L1122.1 287.7 L1122.4 234.7 L1122.5 241.9 L1122.9 293.2 L1123.2 234.4 L1123.6 290.9 L1123.9 251.6 L1124.3 270.6 L1124.7 315.5 L1125.0 270.4 L1125.4 335.6 L1125.7 348.4 L1126.1 353.0 L1126.5 383.9 L1126.8 451.7 L1127.2 476.1 L1127.5 531.4 L1127.9 568.9 L1128.2 568.9 L1128.3 568.9 L1128.6 565.7 L1129.0 520.5 L1129.3 485.5 L1129.7 440.7 L1130.1 375.4 L1130.4 388.8 L1130.8 329.6 L1131.1 325.9 L1131.5 344.9 L1131.9 355.2 L1132.2 350.5 L1132.4 293.1 L1132.6 318.7 L1132.9 347.3 L1133.3 326.8 L1133.7 379.1 L1134.0 369.7 L1134.4 439.6 L1134.7 463.1 L1135.1 530.1 L1135.5 580.8 L1135.8 641.9 L1136.2 659.7 L1136.3 659.8 L1136.5 659.9 L1136.9 624.7 L1137.3 567.1 L1137.6 481.9 L1138.0 449.3 L1138.3 417.0 L1138.7 337.4 L1139.1 322.3 L1139.4 339.1 L1139.8 292.0 L1140.1 316.2 L1140.5 271.2 L1140.9 302.8 L1141.2 261.5 L1141.6 300.9 L1141.9 225.7 L1142.3 276.0 L1142.7 226.7 L1143.0 279.1 L1143.4 266.8 L1143.7 238.8 L1144.1 258.8 L1144.5 205.9 L1144.8 286.1 L1145.2 235.9 L1145.5 264.3 L1145.9 232.5 L1146.3 251.7 L1146.6 217.6 L1146.9 199.9 L1147.0 282.0 L1147.3 217.9 L1147.7 263.9 L1148.1 209.8 L1148.4 279.3 L1148.8 232.7 L1149.1 260.7 L1149.5 232.9 L1149.9 287.1 L1150.2 213.9 L1150.6 286.5 L1150.9 225.1 L1151.3 286.9 L1151.7 234.2 L1152.0 302.9 L1152.4 251.4 L1152.7 227.4 L1152.7 287.1 L1153.1 298.6 L1153.5 256.3 L1153.8 293.9 L1154.2 299.4 L1154.5 251.1 L1154.9 295.7 L1155.3 266.0 L1155.6 322.0 L1156.0 277.3 L1156.3 344.4 L1156.7 324.5 L1157.1 346.5 L1157.4 416.3 L1157.8 437.7 L1158.1 508.0 L1158.5 551.0 L1158.9 592.0 L1159.1 592.7 L1159.2 592.7 L1159.6 572.5 L1159.9 518.1 L1160.3 481.5 L1160.7 439.3 L1161.0 362.1 L1161.4 376.2 L1161.7 338.0 L1162.1 295.2 L1162.5 315.3 L1162.8 293.2 L1163.2 245.8 L1163.5 278.1 L1163.9 224.8 L1164.1 221.9 L1164.3 283.2 L1164.6 250.0 L1165.0 290.1 L1165.3 241.7 L1165.7 226.0 L1166.1 276.0 L1166.4 234.4 L1166.8 290.7 L1167.1 257.3 L1167.5 273.7 L1167.9 326.2 L1168.2 358.8 L1168.6 354.2 L1168.9 409.8 L1169.3 448.5 L1169.7 487.2 L1170.0 561.5 L1170.4 607.7 L1170.7 622.6 L1170.8 622.6 L1171.1 620.5 L1171.5 573.9 L1171.8 520.0 L1172.2 453.5 L1172.5 401.4 L1172.9 399.2 L1173.3 333.6 L1173.6 332.4 L1174.0 334.5 L1174.3 270.9 L1174.7 263.5 L1175.1 295.2 L1175.4 249.8 L1175.6 233.5 L1175.8 305.7 L1176.1 246.6 L1176.5 293.0 L1176.9 245.3 L1177.2 279.3 L1177.6 235.7 L1177.9 279.8 L1178.3 242.0 L1178.7 229.1 L1179.0 283.5 L1179.4 249.5 L1179.7 284.5 L1180.1 269.9 L1180.5 302.5 L1180.8 271.8 L1181.2 347.3 L1181.5 331.6 L1181.9 388.5 L1182.3 395.0 L1182.6 461.4 L1183.0 528.6 L1183.3 581.0 L1183.7 614.7 L1183.9 614.7 L1184.1 614.6 L1184.4 586.3 L1184.8 533.1 L1185.1 453.5 L1185.5 430.8 L1185.9 345.5 L1186.2 356.4 L1186.6 302.2 L1186.9 309.1 L1187.3 238.8 L1187.7 275.7 L1188.0 277.5 L1188.4 231.2 L1188.7 270.9 L1189.1 262.5 L1189.5 193.4 L1189.8 259.5 L1190.1 187.3 L1190.2 203.4 L1190.5 264.1 L1190.9 209.8 L1191.3 246.0 L1191.6 254.3 L1192.0 261.7 L1192.3 212.2 L1192.7 235.5 L1193.1 281.8 L1193.4 295.5 L1193.8 280.4 L1194.1 329.1 L1194.5 331.8 L1194.9 398.2 L1195.2 426.0 L1195.6 491.0 L1195.9 540.9 L1196.3 586.8 L1196.6 588.0 L1196.7 587.9 L1197.0 573.7 L1197.4 530.8 L1197.7 464.6 L1198.1 435.9 L1198.5 372.6 L1198.8 368.2 L1199.2 316.3 L1199.5 332.2 L1199.9 275.7 L1200.3 251.4 L1200.6 302.9 L1201.0 246.8 L1201.3 291.2 L1201.7 247.9 L1202.1 276.4 L1202.3 220.0 L1202.4 227.2 L1202.8 293.6 L1203.1 219.0 L1203.5 226.7 L1203.9 278.4 L1204.2 248.3 L1204.6 279.8 L1204.9 253.4 L1205.3 283.4 L1205.7 245.0 L1206.0 264.0 L1206.4 306.0 L1206.7 271.6 L1207.1 314.8 L1207.5 308.2 L1207.8 346.7 L1208.2 345.7 L1208.5 376.4 L1208.9 392.0 L1209.3 394.8 L1209.3 394.8 L1209.6 395.1 L1210.0 381.9 L1210.3 352.1 L1210.7 344.5 L1211.1 305.6 L1211.4 323.1 L1211.8 316.4 L1212.1 291.7 L1212.5 325.8 L1212.9 272.1 L1213.1 260.3 L1213.2 324.1 L1213.6 276.4 L1213.9 327.4 L1214.3 272.8 L1214.7 310.4 L1215.0 294.7 L1215.4 338.7 L1215.7 355.2 L1216.1 353.8 L1216.5 354.2 L1216.8 404.4 L1217.2 423.9 L1217.5 471.1 L1217.9 497.2 L1218.3 503.9 L1218.3 503.9 L1218.6 502.5 L1219.0 477.8 L1219.3 425.2 L1219.7 409.4 L1220.1 355.8 L1220.4 314.8 L1220.4 350.9 L1220.8 329.6 L1221.1 286.8 L1221.5 323.9 L1221.9 258.0 L1222.2 257.1 L1222.6 250.8 L1222.9 281.1 L1223.3 247.6 L1223.7 248.6 L1224.0 273.1 L1224.4 219.7 L1224.7 270.6 L1225.1 293.8 L1225.5 243.5 L1225.8 296.0 L1226.2 220.6 L1226.5 289.2 L1226.9 219.9 L1227.3 292.2 L1227.6 231.4 L1228.0 292.1 L1228.3 297.0 L1228.7 258.1 L1229.1 318.6 L1229.4 276.1 L1229.8 345.8 L1230.1 396.1 L1230.5 417.0 L1230.9 495.6 L1231.2 541.1 L1231.3 541.1 L1231.6 528.2 L1231.9 472.6 L1232.3 387.4 L1232.7 371.6 L1233.0 282.8 L1233.4 316.5 L1233.7 246.6 L1234.1 298.8 L1234.5 226.5 L1234.8 265.9 L1235.2 216.4 L1235.5 287.3 L1235.9 232.9 L1236.3 277.0 L1236.6 229.6 L1237.0 259.2 L1237.3 199.8 L1237.7 275.1 L1238.1 199.9 L1238.2 196.8 L1238.4 264.7 L1238.8 202.8 L1239.1 201.3 L1239.5 202.9 L1239.9 278.8 L1240.2 226.6 L1240.6 226.2 L1240.9 290.0 L1241.3 293.0 L1241.7 251.2 L1242.0 241.2 L1242.4 297.1 L1242.7 294.4 L1243.1 368.0 L1243.5 377.8 L1243.8 457.7 L1244.2 494.3 L1244.3 494.8 L1244.5 483.3 L1244.9 437.4 L1245.3 355.8 L1245.6 342.0 L1246.0 288.2 L1246.3 303.1 L1246.7 231.4 L1247.1 283.0 L1247.4 229.8 L1247.8 278.1 L1248.1 203.7 L1248.1 214.6 L1248.5 260.0 L1248.9 216.8 L1249.2 277.4 L1249.6 214.6 L1249.9 281.3 L1250.3 208.6 L1250.7 272.4 L1251.0 204.4 L1251.4 208.5 L1251.7 255.9 L1252.1 203.8 L1252.5 260.4 L1252.8 215.3 L1253.2 260.3 L1253.5 205.7 L1253.9 268.7 L1254.3 227.1 L1254.6 259.6 L1255.0 224.6 L1255.3 297.3 L1255.7 248.5 L1256.1 306.5 L1256.4 324.8 L1256.8 390.1 L1257.1 426.1 L1257.4 440.3 L1257.5 439.8 L1257.9 398.7 L1258.2 364.5 L1258.6 292.4 L1258.9 305.4 L1259.3 240.7 L1259.7 226.9 L1260.0 260.9 L1260.4 185.7 L1260.7 252.5 L1261.1 195.7 L1261.5 239.2 L1261.8 178.5 L1262.2 248.4 L1262.5 172.1 L1262.9 249.0 L1263.3 184.5 L1263.6 236.8 L1264.0 158.8 L1264.3 234.8 L1264.7 160.7 L1265.1 240.4 L1265.4 168.0 L1265.8 155.6 L1266.1 221.8 L1266.5 154.1 L1266.9 211.2 L1266.9 138.8 L1267.2 168.3 L1267.6 235.1 L1267.9 154.9 L1268.3 217.5 L1268.7 156.1 L1269.0 233.6 L1269.4 239.5 L1269.7 147.7 L1270.1 210.8 L1270.5 172.3 L1270.8 231.7 L1271.2 166.3 L1271.5 233.7 L1271.9 160.7 L1272.3 244.0 L1272.6 237.3 L1273.0 189.2 L1273.3 153.3 L1273.3 240.9 L1273.7 156.6 L1274.1 236.2 L1274.4 159.1 L1274.8 229.5 L1275.1 186.9 L1275.5 228.2 L1275.9 187.6 L1276.2 236.6 L1276.6 205.4 L1276.9 234.2 L1277.3 202.8 L1277.7 254.7 L1278.0 222.1 L1278.4 283.2 L1278.7 234.1 L1279.1 274.2 L1279.5 245.4 L1279.8 304.3 L1280.2 299.5 L1280.5 360.9 L1280.9 386.2 L1281.3 428.5 L1281.4 430.6 L1281.6 424.3 L1282.0 379.8 L1282.3 351.1 L1282.7 287.3 L1283.1 307.5 L1283.4 248.1 L1283.8 303.2 L1284.1 246.7 L1284.5 289.8 L1284.9 209.3 L1285.2 210.3 L1285.6 276.6 L1285.9 210.0 L1286.3 295.1 L1286.7 226.8 L1287.0 204.4 L1287.0 223.1 L1287.4 295.6 L1287.7 203.5 L1288.1 205.9 L1288.5 273.4 L1288.8 212.8 L1289.2 271.8 L1289.5 200.0 L1289.9 258.5 L1290.3 218.6 L1290.6 262.5 L1291.0 199.2 L1291.3 257.1 L1291.7 268.4 L1292.1 275.8 L1292.4 225.1 L1292.8 283.9 L1293.1 299.3 L1293.5 308.9 L1293.9 369.8 L1294.2 401.5 L1294.5 415.0 L1294.6 415.0 L1294.9 390.4 L1295.3 318.1 L1295.7 313.8 L1296.0 249.5 L1296.4 204.0 L1296.7 246.1 L1297.1 198.1 L1297.5 240.2 L1297.8 165.8 L1298.2 184.0 L1298.5 223.8 L1298.9 156.9 L1299.3 209.5 L1299.6 136.1 L1300.0 217.0 L1300.0 129.6 L1300.3 134.3 L1300.7 208.5 L1301.1 158.2 L1301.4 146.0 L1301.8 211.7 L1302.1 150.5 L1302.5 229.4 L1302.9 146.1 L1303.2 232.9 L1303.6 163.8 L1303.9 241.4 L1304.3 175.9 L1304.7 236.1 L1305.0 201.4 L1305.4 250.1 L1305.7 259.4 L1306.1 308.9 L1306.5 345.2 L1306.8 389.3 L1307.0 392.6 L1307.2 387.8 L1307.5 352.8 L1307.9 288.3 L1308.3 290.6 L1308.6 223.3 L1309.0 255.1 L1309.3 182.4 L1309.7 242.4 L1310.1 167.7 L1310.4 247.4 L1310.8 179.0 L1311.1 249.4 L1311.5 171.9 L1311.9 234.6 L1312.2 166.3 L1312.6 177.2 L1312.9 239.9 L1313.3 164.1 L1313.4 154.0 L1313.7 163.8 L1314.0 225.9 L1314.4 190.4 L1314.7 245.8 L1315.1 188.6 L1315.5 173.1 L1315.8 239.3 L1316.2 170.3 L1316.5 224.8 L1316.9 209.7 L1317.3 264.6 L1317.6 224.2 L1318.0 260.1 L1318.3 234.0 L1318.7 295.1 L1319.1 310.4 L1319.4 366.7 L1319.8 383.9 L1319.8 383.9 L1320.1 364.0 L1320.5 341.8 L1320.9 282.8 L1321.2 284.0 L1321.6 212.5 L1321.9 208.1 L1322.3 271.3 L1322.7 190.2 L1323.0 254.5 L1323.4 190.7 L1323.7 231.6 L1324.1 181.9 L1324.5 252.7 L1324.8 182.1 L1325.2 248.7 L1325.5 171.9 L1325.9 187.5 L1326.3 224.0 L1326.6 201.9 L1327.0 237.7 L1327.3 201.1 L1327.7 226.7 L1328.1 188.8 L1328.4 247.9 L1328.8 203.0 L1329.0 163.7 L1329.1 250.9 L1329.5 163.0 L1329.9 253.2 L1330.2 181.0 L1330.6 237.7 L1330.9 190.4 L1331.3 256.5 L1331.7 166.9 L1332.0 233.1 L1332.4 172.4 L1332.7 158.2 L1333.1 251.8 L1333.5 169.1 L1333.8 167.3 L1334.2 243.6 L1334.4 157.1 L1334.5 181.1 L1334.9 245.9 L1335.3 169.2 L1335.6 225.6 L1336.0 173.1 L1336.3 242.1 L1336.7 206.3 L1337.1 242.0 L1337.4 186.0 L1337.8 246.0 L1338.1 206.4 L1338.5 281.8 L1338.9 215.1 L1339.2 297.4 L1339.6 269.7 L1339.9 316.7 L1340.3 343.4 L1340.7 408.6 L1341.0 435.9 L1341.1 435.9 L1341.4 424.5 L1341.7 369.6 L1342.1 340.3 L1342.5 284.7 L1342.8 306.8 L1343.2 239.5 L1343.5 288.1 L1343.9 199.2 L1344.3 203.8 L1344.6 279.8 L1345.0 195.4 L1345.3 242.7 L1345.7 211.3 L1346.1 247.0 L1346.4 256.8 L1346.8 209.3 L1347.1 270.4 L1347.5 184.3 L1347.9 249.3 L1348.2 209.7 L1348.6 193.7 L1348.9 264.6 L1349.3 213.4 L1349.6 188.4 L1349.7 264.1 L1350.0 198.5 L1350.4 283.8 L1350.7 221.3 L1351.1 277.3 L1351.5 215.8 L1351.8 268.7 L1352.2 224.4 L1352.5 294.6 L1352.9 273.4 L1353.3 339.7 L1353.6 366.1 L1354.0 425.1 L1354.3 440.4 L1354.3 440.4 L1354.7 408.6 L1355.1 364.1 L1355.4 284.9 L1355.8 255.4 L1356.1 272.3 L1356.5 227.4 L1356.9 248.9 L1357.2 207.4 L1357.6 256.9 L1357.9 189.2 L1358.3 226.5 L1358.7 183.3 L1359.0 242.3 L1359.4 147.3 L1359.7 222.4 L1360.1 153.3 L1360.3 140.3 L1360.5 202.2 L1360.8 149.5 L1361.2 203.9 L1361.5 183.2 L1361.9 213.5 L1362.3 181.3 L1362.6 239.6 L1363.0 235.4 L1363.3 222.4 L1363.7 204.0 L1364.1 245.0 L1364.4 199.3 L1364.8 274.6 L1365.1 261.5 L1365.5 312.8 L1365.9 333.7 L1366.2 412.0 L1366.6 448.6 L1366.7 449.3 L1366.9 437.7 L1367.3 402.4 L1367.7 321.3 L1368.0 311.1 L1368.4 242.3 L1368.7 267.1 L1369.1 234.8 L1369.5 283.2 L1369.8 197.5 L1370.2 273.4 L1370.5 202.0 L1370.9 269.2 L1371.3 196.3 L1371.6 251.0 L1372.0 216.7 L1372.3 247.2 L1372.7 217.4 L1373.1 283.0 L1373.4 265.6 L1373.8 257.7 L1374.1 205.5 L1374.5 257.6 L1374.9 204.9 L1375.2 266.0 L1375.6 227.8 L1375.6 200.6 L1375.9 278.6 L1376.3 234.0 L1376.7 269.6 L1377.0 268.7 L1377.4 249.5 L1377.7 246.5 L1378.1 300.5 L1378.5 301.5 L1378.8 345.6 L1379.2 372.6 L1379.4 379.3 L1379.5 377.5 L1379.9 352.1 L1380.3 295.4 L1380.6 276.4 L1381.0 292.2 L1381.3 229.7 L1381.7 199.3 L1382.1 187.3 L1382.4 242.8 L1382.8 199.5 L1383.1 224.2 L1383.2 164.7 L1383.5 193.0 L1383.9 232.4 L1384.2 176.2 L1384.6 246.3 L1384.9 178.1 L1385.3 246.6 L1385.7 176.1 L1386.0 232.3 L1386.4 186.9 L1386.7 238.2 L1387.1 152.9 L1387.5 238.3 L1387.8 181.3 L1388.2 246.5 L1388.5 169.1 L1388.9 181.6 L1389.3 218.9 L1389.6 165.8 L1390.0 222.2 L1390.3 174.5 L1390.7 221.8 L1391.1 238.9 L1391.4 184.5 L1391.8 232.6 L1392.1 165.4 L1392.5 250.7 L1392.9 237.5 L1393.2 172.0 L1393.6 182.2 L1393.9 241.4 L1394.3 183.9 L1394.7 254.9 L1395.0 169.5 L1395.4 255.3 L1395.7 240.0 L1395.9 162.4 L1396.1 239.1 L1396.5 197.5 L1396.8 232.4 L1397.2 201.0 L1397.5 245.3 L1397.9 267.4 L1398.3 280.7 L1398.6 253.1 L1399.0 338.5 L1399.3 331.2 L1399.7 422.6 L1400.1 496.2 L1400.4 593.5 L1400.7 617.8 L1400.8 617.8 L1401.1 549.5 L1401.5 447.4 L1401.9 402.3 L1402.2 313.4 L1402.6 317.0 L1402.9 243.3 L1403.3 256.5 L1403.7 193.7 L1404.0 183.6 L1404.4 222.7 L1404.7 172.7 L1405.1 217.7 L1405.5 236.4 L1405.8 153.8 L1406.2 221.0 L1406.5 164.7 L1406.9 206.7 L1407.3 178.9 L1407.6 146.0 L1407.6 234.2 L1408.0 161.0 L1408.3 238.7 L1408.7 222.9 L1409.1 250.2 L1409.4 196.7 L1409.8 259.7 L1410.1 239.6 L1410.5 222.0 L1410.9 274.6 L1411.2 250.4 L1411.6 357.7 L1411.9 373.8 L1412.3 483.9 L1412.7 555.6 L1412.9 572.4 L1413.0 571.1 L1413.4 508.8 L1413.7 400.9 L1414.1 356.4 L1414.5 266.6 L1414.8 274.2 L1415.2 229.3 L1415.5 246.4 L1415.9 199.2 L1416.3 226.1 L1416.6 169.4 L1417.0 213.8 L1417.3 182.2 L1417.7 154.8 L1418.1 232.0 L1418.4 169.9 L1418.8 222.4 L1419.1 157.4 L1419.5 230.4 L1419.9 140.7 L1420.2 212.1 L1420.3 137.7 L1420.6 147.1 L1420.9 221.8 L1421.3 161.8 L1421.7 223.0 L1422.0 165.4 L1422.4 208.7 L1422.7 174.8 L1423.1 213.1 L1423.5 196.1 L1423.8 260.0 L1424.2 230.4 L1424.5 283.4 L1424.9 339.6 L1425.3 373.7 L1425.6 470.7 L1426.0 540.2 L1426.2 554.8 L1426.3 551.3 L1426.7 486.4 L1427.1 387.0 L1427.4 340.6 L1427.8 286.8 L1428.1 228.5 L1428.5 239.5 L1428.9 186.9 L1429.2 198.7 L1429.6 169.8 L1429.9 202.2 L1430.3 132.9 L1430.7 128.7 L1431.0 182.9 L1431.4 130.7 L1431.7 171.0 L1432.1 167.4 L1432.5 118.7 L1432.8 185.7 L1433.2 118.1 L1433.5 172.2 L1433.9 131.2 L1434.3 163.0 L1434.4 103.2 L1434.6 109.7 L1435.0 198.7 L1435.3 148.1 L1435.7 204.0 L1436.1 212.9 L1436.4 218.6 L1436.8 184.0 L1437.1 266.6 L1437.5 218.0 L1437.9 303.9 L1438.2 333.2 L1438.6 415.4 L1438.9 482.5 L1439.3 520.6 L1439.7 483.2 L1440.0 425.0 L1440.4 337.7 L1440.7 341.1 L1441.1 257.7 L1441.5 303.8 L1441.8 232.5 L1442.2 270.3 L1442.5 212.6 L1442.7 199.1 L1442.9 272.2 L1443.3 228.1 L1443.6 270.6 L1444.0 189.1 L1444.3 274.0 L1444.7 190.8 L1445.1 240.5 L1445.4 202.0 L1445.8 264.1 L1446.1 169.4 L1446.5 203.1 L1446.9 263.1 L1447.2 170.2 L1447.6 187.6 L1447.9 253.2 L1448.3 180.7 L1448.7 215.8 L1449.0 169.1 L1449.4 240.2 L1449.7 183.7 L1450.1 244.6 L1450.5 166.4 L1450.8 212.9 L1451.2 173.2 L1451.5 242.4 L1451.9 173.6 L1452.3 239.6 L1452.6 168.7 L1453.0 177.0 L1453.3 220.7 L1453.7 167.6 L1454.1 215.4 L1454.4 148.1 L1454.8 230.7 L1455.1 167.7 L1455.5 170.0 L1455.9 200.4 L1456.2 162.3 L1456.6 220.3 L1456.9 146.1 L1457.3 215.5 L1457.7 161.0 L1458.0 191.4 L1458.4 122.8 L1458.7 194.2 L1459.1 133.8 L1459.5 195.2 L1459.8 215.8 L1460.2 122.0 L1460.3 117.4 L1460.5 213.8 L1460.9 202.9 L1461.3 148.0 L1461.6 189.8 L1462.0 117.8 L1462.3 203.2 L1462.7 147.3 L1463.1 142.7 L1463.4 194.7 L1463.8 151.3 L1464.1 182.8 L1464.5 142.1 L1464.9 204.5 L1465.2 152.3 L1465.6 207.1 L1465.9 147.7 L1466.3 206.0 L1466.7 155.4 L1467.0 219.1 L1467.4 214.6 L1467.7 276.5 L1468.1 241.4 L1468.5 325.9 L1468.8 328.3 L1469.2 418.1 L1469.5 472.1 L1469.9 527.1 L1470.2 541.2 L1470.3 541.2 L1470.6 516.4 L1471.0 446.3 L1471.3 400.1 L1471.7 308.2 L1472.1 304.1 L1472.4 226.4 L1472.8 262.9 L1473.1 228.1 L1473.5 211.1 L1473.9 214.7 L1474.2 154.5 L1474.6 199.4 L1474.9 147.3 L1475.3 120.0 L1475.7 185.4 L1476.0 136.3 L1476.4 183.6 L1476.7 134.8 L1477.1 191.6 L1477.5 133.1 L1477.8 221.4 L1478.2 155.9 L1478.5 240.6 L1478.9 196.7 L1479.3 247.3 L1479.6 207.2 L1480.0 281.2 L1480.3 263.7 L1480.8 306.5 L1481.3 372.8 L1481.8 484.4 L1482.3 551.8 L1482.6 556.6 L1482.8 554.1 L1483.3 474.3 L1483.8 405.7 L1484.3 324.9 L1484.8 327.9 L1485.3 238.6 L1485.8 277.8 L1486.3 223.6 L1486.8 223.3 L1487.3 193.6 L1487.8 186.9 L1487.8 249.4 L1488.3 211.5 L1488.8 238.0 L1489.3 238.9 L1489.8 213.9 L1490.3 245.9 L1490.8 221.5 L1491.3 258.5 L1491.8 261.3 L1492.3 296.6 L1492.8 256.5 L1493.3 296.6 L1493.8 344.6 L1494.3 432.3 L1494.8 525.6 L1495.3 594.9 L1495.5 594.9 L1495.8 581.9 L1496.3 486.4 L1496.8 388.1 L1497.3 362.2 L1497.8 280.7 L1498.3 283.0 L1498.8 215.5 L1499.3 264.4 L1499.8 176.8 L1500.3 230.9 L1500.8 157.8 L1501.3 232.6 L1501.8 224.6 L1502.3 213.2 L1502.8 239.1 L1503.3 211.8 L1503.8 151.8 L1503.8 159.0 L1504.3 183.9 L1504.8 245.1 L1505.3 198.5 L1505.8 224.4 L1506.3 312.3 L1506.8 329.4 L1507.3 428.3 L1507.8 491.0 L1508.3 524.2 L1508.3 524.2 L1508.8 476.8 L1509.3 413.9 L1509.8 331.6 L1510.3 301.5 L1510.8 220.0 L1511.3 251.6 L1511.8 176.9 L1512.3 233.9 L1512.8 202.4 L1513.3 157.9 L1513.8 132.8 L1514.3 204.0 L1514.8 131.3 L1515.3 134.9 L1515.7 110.5 L1515.8 189.7 L1516.3 115.4 L1516.8 125.6 L1517.3 205.1 L1517.8 115.5 L1518.3 151.1 L1518.8 177.8 L1519.3 138.6 L1519.8 192.0 L1520.3 185.2 L1520.8 212.2 L1521.3 161.6 L1521.8 226.1 L1522.3 136.4 L1522.8 172.9 L1523.3 217.8 L1523.7 139.5 L1523.8 230.4 L1524.3 225.3 L1524.8 233.6 L1525.3 171.6 L1525.8 249.7 L1526.3 247.1 L1526.8 183.6 L1527.3 250.4 L1527.8 211.7 L1528.3 282.9 L1528.8 236.2 L1529.3 277.4 L1529.8 363.9 L1530.3 401.3 L1530.8 470.1 L1531.2 480.8 L1531.3 480.7 L1531.8 445.1 L1532.3 367.3 L1532.8 356.2 L1533.3 278.9 L1533.8 315.2 L1534.3 229.2 L1534.8 218.5 L1534.8 267.8 L1535.3 240.2 L1535.8 218.8 L1536.3 273.5 L1536.8 226.6 L1537.3 228.0 L1537.8 267.4 L1538.3 240.0 L1538.8 298.4 L1539.3 290.6 L1539.8 329.6 L1540.3 334.4 L1540.3 334.4 L1540.8 319.5 L1541.3 280.8 L1541.8 278.6 L1542.3 230.4 L1542.8 274.8 L1543.3 220.3 L1543.8 238.7 L1544.3 184.6 L1544.3 246.2 L1544.8 209.7 L1545.3 266.6 L1545.8 185.2 L1546.3 240.5 L1546.8 252.5 L1547.3 278.1 L1547.8 283.6 L1548.3 283.4 L1548.8 333.1 L1549.3 388.0 L1549.8 427.8 L1550.0 427.9 L1550.3 419.6 L1550.8 373.8 L1551.3 296.9 L1551.8 295.6 L1552.3 242.1 L1552.8 201.8 L1553.3 184.8 L1553.8 186.9 L1554.3 176.8 L1554.8 172.2 L1555.3 187.2 L1555.8 232.1 L1556.2 145.6 L1556.3 163.7 L1556.8 173.9 L1557.3 218.4 L1557.8 158.2 L1558.3 164.3 L1558.8 243.4 L1559.3 160.5 L1559.8 233.7 L1560.3 175.4 L1560.8 226.7 L1561.3 188.2 L1561.8 165.5 L1561.8 226.9 L1562.3 256.9 L1562.8 201.6 L1563.3 254.2 L1563.8 191.5 L1564.3 200.0 L1564.8 209.0 L1565.3 253.0 L1565.8 216.9 L1566.3 300.6 L1566.8 287.0 L1567.3 352.1 L1567.8 368.4 L1568.3 426.4 L1568.8 438.7 L1568.8 438.7 L1569.3 416.2 L1569.8 375.1 L1570.3 317.6 L1570.8 323.4 L1571.3 309.2 L1571.8 308.9 L1572.3 234.5 L1572.8 300.8 L1573.3 254.4 L1573.8 281.2 L1574.3 308.7 L1574.8 250.4 L1574.8 306.1 L1575.3 275.1 L1575.8 325.1 L1576.3 366.1 L1576.8 397.2 L1577.3 411.3 L1577.4 411.3 L1577.8 397.9 L1578.3 359.4 L1578.8 322.9 L1579.3 272.7 L1579.8 275.7 L1580.3 264.1 L1580.8 217.7 L1581.3 238.8 L1581.8 169.1 L1582.3 167.5 L1582.8 212.8 L1583.3 148.8 L1583.8 205.6 L1584.3 167.4 L1584.8 203.5 L1585.3 164.1 L1585.5 144.1 L1585.8 201.8 L1586.3 189.8 L1586.8 200.4 L1587.3 243.9 L1587.8 244.3 L1588.3 324.0 L1588.8 368.7 L1589.3 399.3 L1589.4 399.3 L1589.8 384.8 L1590.3 338.6 L1590.8 261.9 L1591.3 263.0 L1591.8 209.1 L1592.3 234.3 L1592.8 155.9 L1593.3 207.9 L1593.8 158.8 L1594.3 194.6 L1594.8 138.1 L1595.3 220.4 L1595.8 150.3 L1596.3 132.9 L1596.8 208.8 L1597.3 156.8 L1597.7 131.1 L1597.8 192.2 L1598.3 145.7 L1598.8 206.2 L1599.3 144.9 L1599.8 198.8 L1600.3 126.1 L1600.8 143.1 L1601.3 136.9 L1601.8 142.5 L1602.3 144.8 L1602.8 186.1 L1603.3 181.6 L1603.8 120.5 L1603.8 203.7 L1604.3 127.6 L1604.8 187.1 L1605.3 147.9 L1605.8 163.3 L1606.3 218.3 L1606.8 150.6 L1607.3 165.2 L1607.8 220.3 L1608.3 161.0 L1608.4 136.5 L1608.8 203.4 L1609.3 148.8 L1609.8 207.4 L1610.3 208.4 L1610.8 171.6 L1611.3 230.6 L1611.8 247.2 L1612.3 211.1 L1612.8 226.0 L1613.3 301.9 L1613.8 334.7 L1614.3 391.2 L1614.8 414.1 L1614.8 414.1 L1615.3 389.1 L1615.8 318.9 L1616.3 295.1 L1616.8 241.4 L1617.3 259.1 L1617.8 199.4 L1618.3 225.7 L1618.8 166.4 L1619.3 162.8 L1619.8 212.5 L1620.3 164.0 L1620.8 171.1 L1621.1 153.0 L1621.3 185.8 L1621.8 226.9 L1622.3 197.8 L1622.8 225.8 L1623.3 199.7 L1623.8 261.4 L1624.3 264.4 L1624.8 332.5 L1625.3 383.6 L1625.8 412.9 L1626.0 412.9 L1626.3 406.2 L1626.8 364.7 L1627.3 297.1 L1627.8 261.0 L1628.3 272.1 L1628.8 197.4 L1629.3 253.9 L1629.8 175.4 L1630.3 226.9 L1630.8 185.2 L1631.3 237.3 L1631.8 194.4 L1632.3 245.4 L1632.8 166.3 L1632.8 227.0 L1633.3 238.0 L1633.8 193.5 L1634.3 241.6 L1634.8 238.7 L1635.3 236.3 L1635.8 188.4 L1636.3 208.1 L1636.8 244.5 L1637.3 295.7 L1637.8 318.9 L1638.3 358.9 L1638.6 359.8 L1638.8 359.7 L1639.3 328.7 L1639.8 301.1 L1640.3 232.3 L1640.8 247.5 L1641.3 207.7 L1641.8 171.9 L1642.3 215.3 L1642.8 207.9 L1643.3 155.0 L1643.8 146.3 L1644.0 145.3 L1644.3 173.7 L1644.8 198.3 L1645.3 147.9 L1645.8 203.3 L1646.3 218.0 L1646.8 208.8 L1647.3 224.3 L1647.8 199.2 L1648.3 260.7 L1648.8 275.5 L1649.3 307.4 L1649.6 307.4 L1649.8 307.5 L1650.3 287.0 L1650.8 241.4 L1651.3 235.9 L1651.8 236.0 L1652.3 170.8 L1652.8 223.1 L1653.3 181.1 L1653.8 228.1 L1654.2 165.2 L1654.3 186.8 L1654.8 234.3 L1655.3 207.0 L1655.8 226.3 L1656.3 275.1 L1656.8 322.7 L1657.3 367.8 L1657.6 368.0 L1657.8 368.0 L1658.3 324.8 L1658.8 289.3 L1659.3 233.7 L1659.8 236.8 L1660.3 216.1 L1660.8 165.0 L1661.3 200.6 L1661.8 145.4 L1662.3 149.1 L1662.8 178.7 L1663.3 136.5 L1663.8 150.2 L1664.3 201.1 L1664.8 123.4 L1665.3 137.9 L1665.8 192.9 L1666.3 181.8 L1666.8 123.5 L1667.3 136.1 L1667.8 194.7 L1668.3 130.8 L1668.8 171.9 L1669.3 126.8 L1669.8 159.0 L1670.3 119.7 L1670.8 169.5 L1671.3 172.5 L1671.8 189.6 L1672.3 112.5 L1672.5 101.7 L1672.8 163.3 L1673.3 112.6 L1673.8 109.4 L1674.3 180.9 L1674.8 127.5 L1675.3 180.6 L1675.8 133.5 L1676.3 196.8 L1676.8 200.2 L1677.3 137.3 L1677.8 138.7 L1678.3 151.0 L1678.8 222.9 L1679.3 177.5 L1679.8 220.3 L1680.3 196.8 L1680.8 271.5 L1681.3 274.6 L1681.8 319.8 L1682.3 335.8 L1682.3 335.8 L1682.8 320.1 L1683.3 272.3 L1683.8 224.8 L1684.3 252.7 L1684.8 240.4 L1685.3 187.0 L1685.8 185.7 L1686.3 173.2 L1686.6 154.5 L1686.8 178.5 L1687.3 179.8 L1687.8 218.6 L1688.3 210.2 L1688.8 220.8 L1689.3 218.6 L1689.8 235.9 L1690.3 228.3 L1690.8 172.3 L1691.3 173.9 L1691.8 194.2 L1692.3 172.8 L1692.8 250.4 L1693.3 181.2 L1693.8 244.8 L1694.3 196.2 L1694.8 262.4 L1695.3 203.0 L1695.8 260.9 L1696.3 242.8 L1696.8 278.5 L1697.3 280.4 L1697.8 326.2 L1698.3 353.9 L1698.8 363.7 L1698.8 363.7 L1699.3 344.2 L1699.8 334.7 L1700.3 280.2 L1701.0 297.4 L1701.6 254.7 L1702.2 294.7 L1702.8 222.5 L1703.0 218.9 L1703.4 271.1 L1704.1 237.2 L1704.7 281.2 L1705.3 223.4 L1705.9 215.9 L1706.5 267.8 L1707.2 220.5 L1707.8 214.7 L1708.4 201.8 L1709.0 245.4 L1709.2 184.6 L1709.6 189.6 L1710.3 252.2 L1710.9 202.7 L1711.5 251.2 L1712.1 237.9 L1712.7 284.3 L1713.4 292.2 L1713.6 292.8 L1714.0 288.5 L1714.6 277.6 L1715.2 264.6 L1715.8 225.6 L1716.5 209.7 L1717.1 223.6 L1717.7 276.7 L1718.3 227.4 L1718.9 271.4 L1719.6 220.0 L1720.2 231.8 L1720.8 262.3 L1721.4 223.5 L1721.4 246.5 L1722.0 254.0 L1722.7 294.4 L1723.3 300.8 L1723.8 312.8 L1723.9 312.8 L1724.5 299.6 L1725.1 262.8 L1725.8 266.9 L1726.4 256.4 L1727.0 204.5 L1727.6 204.6 L1728.2 247.8 L1728.9 187.2 L1729.0 170.8 L1729.5 255.7 L1730.1 186.0 L1730.7 246.0 L1731.3 202.9 L1732.0 199.2 L1732.6 204.4 L1733.2 238.0 L1733.8 202.8 L1734.4 264.9 L1735.1 273.9 L1735.7 201.5 L1735.9 189.9 L1736.3 227.8 L1736.9 237.4 L1737.5 298.0 L1738.2 276.3 L1738.8 256.5 L1739.4 297.7 L1740.0 262.1 L1740.6 324.0 L1741.3 287.7 L1741.9 341.8 L1742.5 346.1 L1742.7 271.0 L1743.1 325.5 L1743.7 284.2 L1744.4 342.7 L1745.0 287.2 L1745.6 353.2 L1746.2 274.3 L1746.8 323.7 L1747.5 291.7 L1748.1 344.8 L1748.7 323.6 L1749.3 275.7 L1749.9 330.8 L1750.6 251.2 L1751.0 248.2 L1751.2 313.3 L1751.8 250.4 L1752.4 333.6 L1753.0 282.9 L1753.7 310.6 L1754.3 254.2 L1754.9 308.0 L1755.5 276.7 L1756.1 326.2 L1756.8 261.7 L1757.2 245.0 L1757.4 265.3 L1758.0 336.2 L1758.6 266.1 L1759.2 277.8 L1759.9 306.8 L1760.5 335.7 L1761.1 281.7 L1761.7 318.6 L1762.3 318.4 L1763.0 277.5 L1763.6 267.4 L1764.2 289.5 L1764.5 258.6 L1764.8 340.8 L1765.4 328.2 L1766.1 359.0 L1766.7 288.6 L1767.3 363.3 L1767.9 299.8 L1768.5 371.2 L1769.2 316.4 L1769.8 397.9 L1770.4 385.9 L1770.8 317.0 L1771.0 334.1 L1771.6 390.6 L1772.3 370.1 L1772.9 311.3 L1773.5 306.1 L1774.1 313.5 L1774.7 349.9 L1775.4 310.8 L1776.0 338.5 L1776.6 308.6 L1777.2 329.6 L1777.8 291.6 L1778.5 320.5 L1779.1 291.6 L1779.1 257.6 L1779.7 271.2 L1780.3 329.0 L1780.9 281.1 L1781.6 330.0 L1782.2 242.6 L1782.8 295.7 L1783.4 235.7 L1784.0 287.8 L1784.7 232.5 L1785.3 300.3 L1785.9 239.4 L1786.5 290.2 L1787.1 296.8 L1787.4 209.7 L1787.8 239.2 L1788.4 233.3 L1789.0 264.0 L1789.6 209.2 L1790.2 271.5 L1790.9 285.4 L1791.5 239.0 L1791.6 208.7 L1792.1 285.5 L1792.7 288.0 L1793.3 242.8 L1794.0 328.8 L1794.6 323.4 L1795.2 293.0 L1795.8 355.3 L1796.4 328.3 L1797.1 369.2 L1797.7 324.0 L1797.8 319.0 L1798.3 381.5 L1798.9 312.5 L1799.5 331.9 L1800.2 317.1 L1800.8 343.0 L1801.4 285.3 L1802.0 338.1 L1802.6 354.3 L1803.3 279.4 L1803.9 333.5 L1804.5 245.3 L1805.1 314.9 L1805.7 307.7 L1806.1 227.4 L1806.4 298.8 L1807.0 225.1 L1807.6 276.1 L1808.2 226.8 L1808.8 269.7 L1809.5 238.3 L1810.1 269.6 L1810.7 219.4 L1811.3 252.5 L1811.9 223.6 L1812.6 241.8 L1813.2 218.2 L1813.4 180.6 L1813.8 272.9 L1814.4 209.2 L1815.0 203.7 L1815.7 267.7 L1816.3 235.7 L1816.9 234.6 L1817.5 292.3 L1818.1 253.5 L1818.8 289.8 L1819.4 257.3 L1820.0 252.5 L1820.6 310.0 L1820.7 244.0 L1821.2 264.5 L1821.9 322.0 L1822.5 241.1 L1823.1 246.8 L1823.7 249.4 L1824.3 303.0 L1825.0 228.8 L1825.5 211.8 L1825.6 282.8 L1826.2 287.4 L1826.8 244.6 L1827.4 307.1 L1828.1 310.4 L1828.7 279.7 L1829.3 281.5 L1829.9 329.5 L1830.5 279.0 L1831.2 341.3 L1831.8 309.8 L1832.4 357.5 L1833.0 382.4 L1833.6 335.7 L1834.3 390.0 L1834.9 328.9 L1835.3 327.0 L1835.5 396.9 L1836.1 392.3 L1836.7 377.8 L1837.4 314.0 L1838.0 307.7 L1838.6 308.5 L1839.2 358.6 L1839.8 300.9 L1840.5 298.9 L1841.1 259.5 L1841.7 327.2 L1842.3 250.3 L1842.9 304.2 L1843.0 233.6 L1843.6 272.7 L1844.2 324.6 L1844.8 332.4 L1845.4 333.8 L1846.0 289.6 L1846.7 357.0 L1847.3 321.1 L1847.9 335.6 L1848.5 380.1 L1848.8 321.0 L1849.1 339.6 L1849.8 398.6 L1850.4 323.8 L1851.0 393.7 L1851.6 303.2 L1852.2 325.4 L1852.9 298.3 L1853.5 352.0 L1854.1 316.7 L1854.7 300.3 L1855.3 362.3 L1856.0 331.3 L1856.6 339.2 L1857.2 262.4 L1857.8 280.7 L1858.4 323.4 L1859.1 278.6 L1859.2 246.0 L1859.7 315.5 L1860.3 241.4 L1860.9 304.3 L1861.5 243.0 L1862.2 245.4 L1862.8 252.2 L1863.4 294.3 L1864.0 302.6 L1864.6 270.3 L1865.3 236.7 L1865.9 266.8 L1866.5 224.9 L1867.1 252.7 L1867.5 189.0 L1867.7 224.2 L1868.4 257.8 L1869.0 260.9 L1869.6 191.5 L1870.2 262.1 L1870.8 200.4 L1871.5 219.8 L1871.7 187.9 L1872.1 254.8 L1872.7 228.0 L1873.3 271.3 L1873.9 239.4 L1874.6 306.0 L1875.2 241.9 L1875.8 327.2 L1876.4 272.7 L1877.0 262.1 L1877.7 341.8 L1878.3 303.9 L1878.9 349.4 L1879.0 285.7 L1879.5 302.9 L1880.1 359.9 L1880.8 303.5 L1881.4 277.2 L1882.0 342.5 L1882.6 322.2 L1883.2 252.5 L1883.9 295.9 L1884.5 294.3 L1885.1 233.9 L1885.7 300.8 L1886.3 211.8 L1886.3 227.8 L1887.0 215.0 L1887.6 267.3 L1888.2 238.5 L1888.8 273.1 L1889.4 262.6 L1890.1 271.3 L1890.7 264.6 L1891.3 281.8 L1891.9 218.2 L1892.5 254.0 L1893.2 279.2 L1893.5 197.2 L1893.8 255.7 L1894.4 290.1 L1895.0 223.8 L1895.6 292.6 L1896.3 239.7 L1896.9 233.8 L1897.5 293.8 L1898.1 256.3 L1898.7 240.0 L1898.7 308.0 L1899.4 265.9 L1900.0 290.0 L1900.6 290.9 L1901.2 251.7 L1901.5 230.0" stroke="#fd8839" stroke-width="3.40"/>
</g>
<g stroke="#000" stroke-width="7.3" fill="none">
<path d="M1901.5 27.5 H1863.5"/>
<path d="M1901.5 306.8 H1863.5"/>
<path d="M1901.5 586.1 H1863.5"/>
<path d="M1901.5 865.4 H1863.5"/>
</g>
<rect x="310.7" y="21.0" width="1590.8" height="1252.5" fill="none" stroke="#000" stroke-width="4.5"/>
<g font-weight="bold" font-size="56.6" style="font-kerning:none">
<text x="367.5 407.3 441.7" y="1333.2" fill="#000">0.5</text>
<text x="935.8 975.6 1010.0" y="1333.2" fill="#000">1.0</text>
<text x="1504.1 1543.9 1578.3" y="1333.2" fill="#000">1.5</text>
<text x="141.4 180.7 215.3 255.2" y="1235.5" fill="#5b6dda">0.00</text>
<text x="141.4 180.7 215.3 255.2" y="901.7" fill="#5b6dda">0.01</text>
<text x="141.4 180.7 215.3 255.2" y="567.9" fill="#5b6dda">0.02</text>
<text x="1917.3" y="43" fill="#fd8839">0</text>
<text x="1915.9 1966.0" y="323.6" fill="#fd8839">−2</text>
<text x="1915.9 1966.0" y="602.9" fill="#fd8839">−4</text>
<text x="1915.9 1966.0" y="882.2" fill="#fd8839">−6</text>
</g>
<g stroke-linejoin="round" style="font-kerning:none">
<text x="987.7 1044.2 1090.0 1113.2 1142.0 1195.6" y="1420.6" font-size="76" fill="#000" stroke="#000" stroke-width="3.0">Vg (V)</text>
<text transform="translate(2082.4,948) rotate(-90)" font-size="76" word-spacing="-7.5" fill="#fd8839" stroke="#fd8839" stroke-width="3.2">Phase (degrees)</text>
<g transform="translate(91.3,768.3) rotate(-90)" fill="#5b6dda" stroke="#5b6dda" stroke-width="3.2">
<text x="0.7 55 73.25" y="0" font-size="76">G (</text>
<text x="103" y="-34" font-size="53.2" stroke-width="3">2e</text>
<text x="172.9" y="-60.6" font-size="37" stroke-width="3">2</text>
<text x="135.7" y="30" font-size="53.2" stroke-width="3">h</text>
<text x="209.7" y="0" font-size="76">)</text>
<path d="M102.5 -17.8 H200.5" stroke-width="7.8" fill="none"/>
</g></g>
</svg></body></html>
